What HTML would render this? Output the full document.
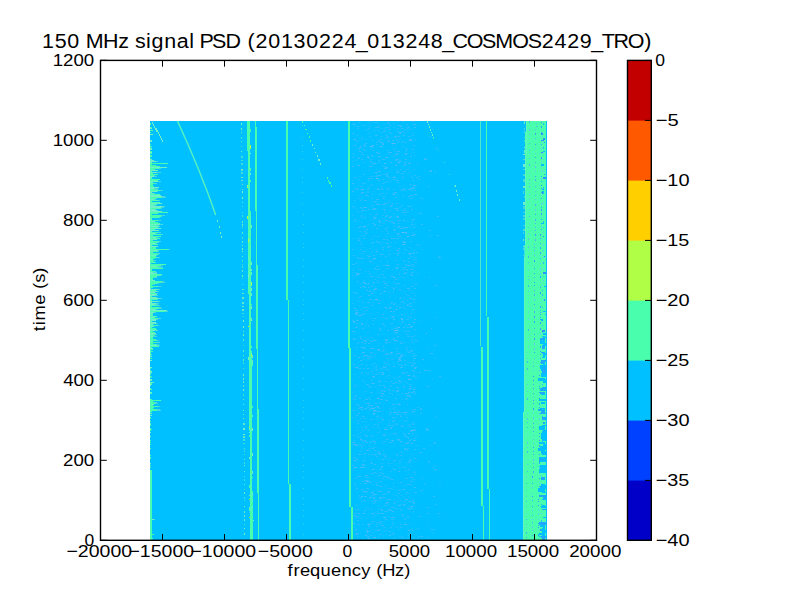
<!DOCTYPE html>
<html><head><meta charset="utf-8"><style>
html,body{margin:0;padding:0;background:#fff;width:800px;height:600px;overflow:hidden}
#w{position:relative;width:800px;height:600px;font-family:"Liberation Sans",sans-serif}
</style></head><body><div id="w">
<svg width="800" height="600" viewBox="0 0 800 600" style="position:absolute;left:0;top:0">
<g shape-rendering="crispEdges">
<rect x="150.2" y="121" width="396.70" height="419.30" fill="#00c0ff"/>
<g fill="#90b8ff"><rect x="352" y="465" width="2" height="1" opacity="0.3"/><rect x="391" y="276" width="3" height="1" opacity="0.3"/><rect x="362" y="352" width="2" height="1" opacity="0.4"/><rect x="424" y="159" width="3" height="1" opacity="0.4"/><rect x="361" y="421" width="2" height="1" opacity="0.3"/><rect x="380" y="132" width="3" height="1" opacity="0.2"/><rect x="393" y="189" width="2" height="1" opacity="0.3"/><rect x="378" y="491" width="2" height="1" opacity="0.4"/><rect x="412" y="370" width="2" height="1" opacity="0.2"/><rect x="407" y="211" width="2" height="1" opacity="0.3"/><rect x="384" y="521" width="1" height="1" opacity="0.2"/><rect x="406" y="124" width="2" height="1" opacity="0.3"/><rect x="361" y="256" width="1" height="1" opacity="0.2"/><rect x="437" y="450" width="2" height="1" opacity="0.2"/><rect x="399" y="321" width="1" height="1" opacity="0.2"/><rect x="372" y="376" width="3" height="1" opacity="0.4"/><rect x="400" y="412" width="2" height="1" opacity="0.2"/><rect x="408" y="261" width="2" height="1" opacity="0.2"/><rect x="361" y="158" width="1" height="1" opacity="0.2"/><rect x="383" y="198" width="1" height="1" opacity="0.3"/><rect x="377" y="451" width="3" height="1" opacity="0.3"/><rect x="409" y="198" width="2" height="1" opacity="0.3"/><rect x="363" y="359" width="2" height="1" opacity="0.3"/><rect x="378" y="171" width="3" height="1" opacity="0.4"/><rect x="391" y="205" width="2" height="1" opacity="0.4"/><rect x="383" y="345" width="1" height="1" opacity="0.3"/><rect x="415" y="139" width="1" height="1" opacity="0.4"/><rect x="427" y="386" width="2" height="1" opacity="0.4"/><rect x="375" y="249" width="2" height="1" opacity="0.3"/><rect x="368" y="133" width="2" height="1" opacity="0.2"/><rect x="377" y="511" width="1" height="1" opacity="0.2"/><rect x="363" y="286" width="2" height="1" opacity="0.3"/><rect x="408" y="424" width="3" height="1" opacity="0.2"/><rect x="375" y="482" width="3" height="1" opacity="0.2"/><rect x="360" y="249" width="2" height="1" opacity="0.3"/><rect x="361" y="518" width="1" height="1" opacity="0.3"/><rect x="406" y="221" width="3" height="1" opacity="0.2"/><rect x="368" y="343" width="2" height="1" opacity="0.4"/><rect x="405" y="159" width="2" height="1" opacity="0.4"/><rect x="412" y="530" width="1" height="1" opacity="0.4"/><rect x="385" y="366" width="2" height="1" opacity="0.3"/><rect x="353" y="397" width="3" height="1" opacity="0.3"/><rect x="386" y="369" width="2" height="1" opacity="0.3"/><rect x="372" y="283" width="2" height="1" opacity="0.2"/><rect x="391" y="359" width="3" height="1" opacity="0.2"/><rect x="362" y="513" width="2" height="1" opacity="0.2"/><rect x="381" y="317" width="3" height="1" opacity="0.2"/><rect x="359" y="258" width="2" height="1" opacity="0.3"/><rect x="367" y="536" width="3" height="1" opacity="0.2"/><rect x="362" y="427" width="1" height="1" opacity="0.4"/><rect x="401" y="442" width="1" height="1" opacity="0.2"/><rect x="366" y="530" width="2" height="1" opacity="0.3"/><rect x="395" y="398" width="2" height="1" opacity="0.4"/><rect x="404" y="331" width="1" height="1" opacity="0.4"/><rect x="373" y="501" width="2" height="1" opacity="0.2"/><rect x="395" y="297" width="1" height="1" opacity="0.3"/><rect x="371" y="357" width="2" height="1" opacity="0.2"/><rect x="422" y="359" width="2" height="1" opacity="0.4"/><rect x="398" y="236" width="3" height="1" opacity="0.3"/><rect x="364" y="382" width="1" height="1" opacity="0.4"/><rect x="365" y="355" width="2" height="1" opacity="0.2"/><rect x="402" y="226" width="1" height="1" opacity="0.2"/><rect x="388" y="509" width="2" height="1" opacity="0.3"/><rect x="404" y="381" width="2" height="1" opacity="0.2"/><rect x="376" y="406" width="3" height="1" opacity="0.4"/><rect x="393" y="304" width="2" height="1" opacity="0.4"/><rect x="356" y="320" width="3" height="1" opacity="0.4"/><rect x="378" y="415" width="1" height="1" opacity="0.3"/><rect x="407" y="426" width="3" height="1" opacity="0.2"/><rect x="389" y="408" width="1" height="1" opacity="0.4"/><rect x="414" y="124" width="3" height="1" opacity="0.2"/><rect x="374" y="472" width="2" height="1" opacity="0.2"/><rect x="371" y="383" width="2" height="1" opacity="0.3"/><rect x="367" y="372" width="3" height="1" opacity="0.2"/><rect x="376" y="178" width="2" height="1" opacity="0.4"/><rect x="405" y="349" width="3" height="1" opacity="0.3"/><rect x="381" y="274" width="3" height="1" opacity="0.3"/><rect x="384" y="326" width="2" height="1" opacity="0.3"/><rect x="358" y="198" width="1" height="1" opacity="0.4"/><rect x="374" y="516" width="1" height="1" opacity="0.3"/><rect x="356" y="396" width="1" height="1" opacity="0.2"/><rect x="389" y="393" width="2" height="1" opacity="0.4"/><rect x="385" y="129" width="1" height="1" opacity="0.4"/><rect x="392" y="219" width="1" height="1" opacity="0.2"/><rect x="394" y="330" width="2" height="1" opacity="0.4"/><rect x="368" y="477" width="2" height="1" opacity="0.2"/><rect x="396" y="180" width="2" height="1" opacity="0.4"/><rect x="417" y="459" width="2" height="1" opacity="0.2"/><rect x="375" y="363" width="1" height="1" opacity="0.2"/><rect x="379" y="326" width="1" height="1" opacity="0.3"/><rect x="365" y="430" width="1" height="1" opacity="0.2"/><rect x="355" y="263" width="2" height="1" opacity="0.3"/><rect x="372" y="150" width="2" height="1" opacity="0.3"/><rect x="386" y="354" width="2" height="1" opacity="0.3"/><rect x="361" y="496" width="2" height="1" opacity="0.4"/><rect x="398" y="226" width="2" height="1" opacity="0.3"/><rect x="375" y="288" width="2" height="1" opacity="0.3"/><rect x="410" y="388" width="2" height="1" opacity="0.3"/><rect x="411" y="366" width="1" height="1" opacity="0.3"/><rect x="399" y="139" width="1" height="1" opacity="0.3"/><rect x="360" y="338" width="2" height="1" opacity="0.4"/><rect x="361" y="222" width="1" height="1" opacity="0.4"/><rect x="376" y="522" width="2" height="1" opacity="0.2"/><rect x="371" y="242" width="3" height="1" opacity="0.3"/><rect x="414" y="319" width="2" height="1" opacity="0.4"/><rect x="363" y="200" width="2" height="1" opacity="0.2"/><rect x="432" y="533" width="2" height="1" opacity="0.2"/><rect x="392" y="467" width="1" height="1" opacity="0.2"/><rect x="411" y="501" width="2" height="1" opacity="0.2"/><rect x="378" y="126" width="2" height="1" opacity="0.3"/><rect x="353" y="391" width="1" height="1" opacity="0.3"/><rect x="356" y="281" width="2" height="1" opacity="0.3"/><rect x="381" y="396" width="3" height="1" opacity="0.2"/><rect x="361" y="407" width="2" height="1" opacity="0.4"/><rect x="352" y="264" width="3" height="1" opacity="0.3"/><rect x="369" y="340" width="1" height="1" opacity="0.2"/><rect x="363" y="434" width="3" height="1" opacity="0.2"/><rect x="362" y="218" width="1" height="1" opacity="0.2"/><rect x="363" y="307" width="2" height="1" opacity="0.4"/><rect x="369" y="291" width="2" height="1" opacity="0.4"/><rect x="352" y="442" width="3" height="1" opacity="0.4"/><rect x="393" y="460" width="3" height="1" opacity="0.3"/><rect x="370" y="497" width="1" height="1" opacity="0.2"/><rect x="413" y="479" width="2" height="1" opacity="0.3"/><rect x="386" y="231" width="2" height="1" opacity="0.3"/><rect x="401" y="325" width="1" height="1" opacity="0.3"/><rect x="372" y="448" width="2" height="1" opacity="0.4"/><rect x="420" y="409" width="2" height="1" opacity="0.4"/><rect x="356" y="312" width="3" height="1" opacity="0.3"/><rect x="352" y="206" width="2" height="1" opacity="0.4"/><rect x="408" y="462" width="3" height="1" opacity="0.3"/><rect x="377" y="340" width="1" height="1" opacity="0.4"/><rect x="395" y="303" width="1" height="1" opacity="0.4"/><rect x="354" y="277" width="1" height="1" opacity="0.2"/><rect x="387" y="330" width="2" height="1" opacity="0.2"/><rect x="372" y="469" width="3" height="1" opacity="0.2"/><rect x="422" y="510" width="1" height="1" opacity="0.2"/><rect x="388" y="217" width="3" height="1" opacity="0.4"/><rect x="354" y="513" width="3" height="1" opacity="0.2"/><rect x="384" y="517" width="2" height="1" opacity="0.3"/><rect x="361" y="484" width="1" height="1" opacity="0.3"/><rect x="388" y="492" width="2" height="1" opacity="0.2"/><rect x="378" y="306" width="1" height="1" opacity="0.2"/><rect x="387" y="167" width="1" height="1" opacity="0.4"/><rect x="373" y="447" width="3" height="1" opacity="0.2"/><rect x="382" y="459" width="2" height="1" opacity="0.4"/><rect x="391" y="273" width="2" height="1" opacity="0.2"/><rect x="389" y="442" width="2" height="1" opacity="0.4"/><rect x="381" y="136" width="1" height="1" opacity="0.4"/><rect x="401" y="212" width="3" height="1" opacity="0.3"/><rect x="352" y="166" width="2" height="1" opacity="0.4"/><rect x="360" y="296" width="2" height="1" opacity="0.3"/><rect x="378" y="275" width="2" height="1" opacity="0.3"/><rect x="389" y="307" width="3" height="1" opacity="0.4"/><rect x="367" y="156" width="2" height="1" opacity="0.3"/><rect x="396" y="197" width="1" height="1" opacity="0.4"/><rect x="369" y="126" width="2" height="1" opacity="0.3"/><rect x="358" y="227" width="2" height="1" opacity="0.4"/><rect x="414" y="124" width="2" height="1" opacity="0.2"/><rect x="393" y="289" width="1" height="1" opacity="0.3"/><rect x="417" y="538" width="1" height="1" opacity="0.4"/><rect x="378" y="403" width="2" height="1" opacity="0.2"/><rect x="408" y="189" width="1" height="1" opacity="0.2"/><rect x="404" y="414" width="2" height="1" opacity="0.4"/><rect x="358" y="413" width="2" height="1" opacity="0.4"/><rect x="395" y="279" width="2" height="1" opacity="0.4"/><rect x="419" y="162" width="1" height="1" opacity="0.2"/><rect x="399" y="133" width="2" height="1" opacity="0.4"/><rect x="378" y="422" width="3" height="1" opacity="0.2"/><rect x="412" y="340" width="1" height="1" opacity="0.3"/><rect x="398" y="471" width="2" height="1" opacity="0.4"/><rect x="388" y="265" width="1" height="1" opacity="0.3"/><rect x="399" y="376" width="2" height="1" opacity="0.2"/><rect x="409" y="396" width="2" height="1" opacity="0.4"/><rect x="412" y="259" width="2" height="1" opacity="0.2"/><rect x="363" y="282" width="2" height="1" opacity="0.4"/><rect x="405" y="434" width="1" height="1" opacity="0.4"/><rect x="369" y="408" width="3" height="1" opacity="0.2"/><rect x="383" y="435" width="3" height="1" opacity="0.3"/><rect x="410" y="521" width="1" height="1" opacity="0.2"/><rect x="370" y="121" width="2" height="1" opacity="0.2"/><rect x="399" y="394" width="1" height="1" opacity="0.2"/><rect x="376" y="500" width="3" height="1" opacity="0.2"/><rect x="381" y="463" width="2" height="1" opacity="0.3"/><rect x="409" y="298" width="3" height="1" opacity="0.4"/><rect x="367" y="481" width="2" height="1" opacity="0.4"/><rect x="376" y="353" width="1" height="1" opacity="0.2"/><rect x="407" y="236" width="2" height="1" opacity="0.4"/><rect x="403" y="412" width="3" height="1" opacity="0.4"/><rect x="377" y="513" width="3" height="1" opacity="0.3"/><rect x="377" y="334" width="2" height="1" opacity="0.3"/><rect x="373" y="368" width="2" height="1" opacity="0.2"/><rect x="405" y="436" width="2" height="1" opacity="0.2"/><rect x="388" y="510" width="1" height="1" opacity="0.3"/><rect x="395" y="328" width="3" height="1" opacity="0.2"/><rect x="371" y="201" width="2" height="1" opacity="0.2"/><rect x="359" y="305" width="2" height="1" opacity="0.2"/><rect x="362" y="152" width="1" height="1" opacity="0.2"/><rect x="434" y="529" width="2" height="1" opacity="0.3"/><rect x="435" y="416" width="2" height="1" opacity="0.2"/><rect x="379" y="481" width="3" height="1" opacity="0.3"/><rect x="360" y="467" width="3" height="1" opacity="0.4"/><rect x="373" y="419" width="1" height="1" opacity="0.2"/><rect x="391" y="517" width="1" height="1" opacity="0.2"/><rect x="379" y="294" width="1" height="1" opacity="0.2"/><rect x="419" y="516" width="3" height="1" opacity="0.3"/><rect x="404" y="232" width="3" height="1" opacity="0.4"/><rect x="369" y="482" width="3" height="1" opacity="0.4"/><rect x="427" y="513" width="2" height="1" opacity="0.4"/><rect x="398" y="529" width="1" height="1" opacity="0.3"/><rect x="413" y="180" width="1" height="1" opacity="0.3"/><rect x="365" y="421" width="1" height="1" opacity="0.3"/><rect x="362" y="210" width="2" height="1" opacity="0.4"/><rect x="372" y="440" width="2" height="1" opacity="0.2"/><rect x="394" y="333" width="3" height="1" opacity="0.2"/><rect x="386" y="193" width="2" height="1" opacity="0.3"/><rect x="376" y="524" width="2" height="1" opacity="0.2"/><rect x="384" y="511" width="2" height="1" opacity="0.3"/><rect x="394" y="343" width="1" height="1" opacity="0.2"/><rect x="414" y="458" width="2" height="1" opacity="0.3"/><rect x="398" y="504" width="1" height="1" opacity="0.2"/><rect x="356" y="450" width="1" height="1" opacity="0.3"/><rect x="397" y="264" width="2" height="1" opacity="0.4"/><rect x="401" y="452" width="1" height="1" opacity="0.4"/><rect x="373" y="441" width="3" height="1" opacity="0.4"/><rect x="355" y="367" width="3" height="1" opacity="0.4"/><rect x="371" y="463" width="2" height="1" opacity="0.4"/><rect x="396" y="140" width="2" height="1" opacity="0.3"/><rect x="372" y="140" width="1" height="1" opacity="0.4"/><rect x="359" y="212" width="2" height="1" opacity="0.2"/><rect x="376" y="178" width="3" height="1" opacity="0.3"/><rect x="392" y="316" width="3" height="1" opacity="0.3"/><rect x="357" y="189" width="2" height="1" opacity="0.3"/><rect x="399" y="404" width="2" height="1" opacity="0.4"/><rect x="395" y="326" width="1" height="1" opacity="0.4"/><rect x="406" y="127" width="1" height="1" opacity="0.4"/><rect x="392" y="292" width="2" height="1" opacity="0.2"/><rect x="419" y="176" width="1" height="1" opacity="0.4"/><rect x="392" y="339" width="2" height="1" opacity="0.2"/><rect x="362" y="247" width="2" height="1" opacity="0.2"/><rect x="371" y="407" width="3" height="1" opacity="0.2"/><rect x="378" y="350" width="2" height="1" opacity="0.4"/><rect x="413" y="440" width="3" height="1" opacity="0.4"/><rect x="364" y="217" width="2" height="1" opacity="0.4"/><rect x="354" y="384" width="3" height="1" opacity="0.2"/><rect x="416" y="244" width="2" height="1" opacity="0.2"/><rect x="365" y="442" width="3" height="1" opacity="0.3"/><rect x="374" y="500" width="2" height="1" opacity="0.4"/><rect x="368" y="448" width="3" height="1" opacity="0.2"/><rect x="361" y="189" width="2" height="1" opacity="0.4"/><rect x="387" y="140" width="2" height="1" opacity="0.3"/><rect x="399" y="290" width="3" height="1" opacity="0.2"/><rect x="393" y="486" width="3" height="1" opacity="0.2"/><rect x="405" y="324" width="1" height="1" opacity="0.4"/><rect x="355" y="485" width="2" height="1" opacity="0.2"/><rect x="383" y="179" width="1" height="1" opacity="0.4"/><rect x="420" y="198" width="2" height="1" opacity="0.3"/><rect x="390" y="257" width="1" height="1" opacity="0.2"/><rect x="404" y="212" width="3" height="1" opacity="0.3"/><rect x="384" y="210" width="1" height="1" opacity="0.3"/><rect x="413" y="363" width="3" height="1" opacity="0.3"/><rect x="397" y="182" width="2" height="1" opacity="0.3"/><rect x="368" y="224" width="1" height="1" opacity="0.2"/><rect x="372" y="145" width="2" height="1" opacity="0.4"/><rect x="388" y="531" width="3" height="1" opacity="0.2"/><rect x="385" y="493" width="2" height="1" opacity="0.2"/><rect x="382" y="271" width="3" height="1" opacity="0.2"/><rect x="400" y="415" width="2" height="1" opacity="0.2"/><rect x="367" y="339" width="2" height="1" opacity="0.3"/><rect x="368" y="157" width="2" height="1" opacity="0.2"/><rect x="371" y="509" width="2" height="1" opacity="0.3"/><rect x="379" y="431" width="2" height="1" opacity="0.2"/><rect x="390" y="315" width="1" height="1" opacity="0.4"/><rect x="358" y="297" width="2" height="1" opacity="0.3"/><rect x="400" y="367" width="3" height="1" opacity="0.4"/><rect x="394" y="151" width="3" height="1" opacity="0.2"/><rect x="378" y="425" width="1" height="1" opacity="0.4"/><rect x="398" y="404" width="2" height="1" opacity="0.4"/><rect x="435" y="148" width="3" height="1" opacity="0.3"/><rect x="412" y="356" width="1" height="1" opacity="0.3"/><rect x="400" y="482" width="2" height="1" opacity="0.4"/><rect x="366" y="488" width="3" height="1" opacity="0.4"/><rect x="431" y="328" width="1" height="1" opacity="0.4"/><rect x="426" y="537" width="3" height="1" opacity="0.2"/><rect x="366" y="480" width="2" height="1" opacity="0.3"/><rect x="424" y="484" width="2" height="1" opacity="0.3"/><rect x="397" y="128" width="2" height="1" opacity="0.3"/><rect x="354" y="399" width="2" height="1" opacity="0.3"/><rect x="370" y="185" width="2" height="1" opacity="0.3"/><rect x="408" y="253" width="3" height="1" opacity="0.2"/><rect x="413" y="360" width="1" height="1" opacity="0.4"/><rect x="353" y="338" width="2" height="1" opacity="0.2"/><rect x="353" y="364" width="2" height="1" opacity="0.4"/><rect x="357" y="315" width="1" height="1" opacity="0.2"/><rect x="392" y="269" width="1" height="1" opacity="0.3"/><rect x="369" y="445" width="1" height="1" opacity="0.3"/><rect x="400" y="416" width="2" height="1" opacity="0.3"/><rect x="404" y="360" width="2" height="1" opacity="0.3"/><rect x="373" y="216" width="2" height="1" opacity="0.2"/><rect x="429" y="236" width="2" height="1" opacity="0.3"/><rect x="371" y="454" width="3" height="1" opacity="0.3"/><rect x="387" y="492" width="2" height="1" opacity="0.4"/><rect x="353" y="457" width="3" height="1" opacity="0.3"/><rect x="405" y="228" width="2" height="1" opacity="0.2"/><rect x="370" y="161" width="2" height="1" opacity="0.3"/><rect x="411" y="220" width="3" height="1" opacity="0.2"/><rect x="365" y="403" width="2" height="1" opacity="0.2"/><rect x="380" y="254" width="2" height="1" opacity="0.4"/><rect x="373" y="411" width="3" height="1" opacity="0.3"/><rect x="411" y="430" width="2" height="1" opacity="0.2"/><rect x="371" y="408" width="2" height="1" opacity="0.2"/><rect x="421" y="306" width="1" height="1" opacity="0.3"/><rect x="356" y="504" width="1" height="1" opacity="0.3"/><rect x="355" y="310" width="3" height="1" opacity="0.4"/><rect x="357" y="126" width="2" height="1" opacity="0.4"/><rect x="391" y="221" width="2" height="1" opacity="0.4"/><rect x="393" y="319" width="2" height="1" opacity="0.2"/><rect x="355" y="183" width="1" height="1" opacity="0.2"/><rect x="375" y="258" width="1" height="1" opacity="0.2"/><rect x="371" y="164" width="1" height="1" opacity="0.4"/><rect x="368" y="424" width="1" height="1" opacity="0.2"/><rect x="393" y="532" width="1" height="1" opacity="0.2"/><rect x="376" y="526" width="2" height="1" opacity="0.3"/><rect x="408" y="196" width="2" height="1" opacity="0.4"/><rect x="401" y="238" width="1" height="1" opacity="0.3"/><rect x="356" y="444" width="1" height="1" opacity="0.4"/><rect x="407" y="288" width="3" height="1" opacity="0.4"/><rect x="389" y="478" width="2" height="1" opacity="0.3"/><rect x="352" y="183" width="2" height="1" opacity="0.4"/><rect x="408" y="438" width="1" height="1" opacity="0.4"/><rect x="371" y="521" width="3" height="1" opacity="0.2"/><rect x="400" y="441" width="1" height="1" opacity="0.4"/><rect x="363" y="328" width="2" height="1" opacity="0.2"/><rect x="397" y="121" width="3" height="1" opacity="0.2"/><rect x="423" y="241" width="1" height="1" opacity="0.2"/><rect x="408" y="392" width="2" height="1" opacity="0.4"/><rect x="380" y="146" width="2" height="1" opacity="0.2"/><rect x="358" y="476" width="1" height="1" opacity="0.3"/><rect x="364" y="491" width="2" height="1" opacity="0.2"/><rect x="408" y="535" width="1" height="1" opacity="0.4"/><rect x="426" y="430" width="3" height="1" opacity="0.3"/><rect x="404" y="291" width="1" height="1" opacity="0.4"/><rect x="392" y="433" width="3" height="1" opacity="0.2"/><rect x="402" y="196" width="2" height="1" opacity="0.3"/><rect x="410" y="460" width="1" height="1" opacity="0.4"/><rect x="428" y="462" width="1" height="1" opacity="0.3"/><rect x="410" y="533" width="1" height="1" opacity="0.4"/><rect x="373" y="242" width="2" height="1" opacity="0.2"/><rect x="373" y="208" width="3" height="1" opacity="0.4"/><rect x="403" y="135" width="2" height="1" opacity="0.3"/><rect x="368" y="209" width="2" height="1" opacity="0.4"/><rect x="397" y="136" width="3" height="1" opacity="0.4"/><rect x="411" y="430" width="3" height="1" opacity="0.4"/><rect x="363" y="197" width="1" height="1" opacity="0.2"/><rect x="430" y="170" width="2" height="1" opacity="0.4"/><rect x="401" y="319" width="3" height="1" opacity="0.2"/><rect x="399" y="189" width="3" height="1" opacity="0.2"/><rect x="385" y="454" width="2" height="1" opacity="0.3"/><rect x="376" y="447" width="1" height="1" opacity="0.2"/><rect x="427" y="507" width="3" height="1" opacity="0.3"/><rect x="373" y="537" width="3" height="1" opacity="0.4"/><rect x="412" y="411" width="3" height="1" opacity="0.4"/><rect x="427" y="314" width="1" height="1" opacity="0.2"/><rect x="389" y="423" width="1" height="1" opacity="0.4"/><rect x="388" y="221" width="2" height="1" opacity="0.4"/><rect x="376" y="175" width="3" height="1" opacity="0.3"/><rect x="378" y="180" width="3" height="1" opacity="0.3"/><rect x="414" y="449" width="2" height="1" opacity="0.4"/><rect x="377" y="424" width="1" height="1" opacity="0.4"/><rect x="400" y="138" width="1" height="1" opacity="0.3"/><rect x="363" y="416" width="2" height="1" opacity="0.2"/><rect x="412" y="454" width="2" height="1" opacity="0.2"/><rect x="414" y="190" width="2" height="1" opacity="0.2"/><rect x="363" y="491" width="2" height="1" opacity="0.4"/><rect x="353" y="379" width="1" height="1" opacity="0.2"/><rect x="397" y="394" width="1" height="1" opacity="0.4"/><rect x="411" y="365" width="3" height="1" opacity="0.4"/><rect x="372" y="320" width="2" height="1" opacity="0.3"/><rect x="403" y="277" width="1" height="1" opacity="0.4"/><rect x="430" y="445" width="1" height="1" opacity="0.4"/><rect x="413" y="124" width="2" height="1" opacity="0.3"/><rect x="393" y="366" width="2" height="1" opacity="0.4"/><rect x="404" y="210" width="2" height="1" opacity="0.4"/><rect x="383" y="277" width="3" height="1" opacity="0.3"/><rect x="360" y="360" width="2" height="1" opacity="0.4"/><rect x="361" y="309" width="2" height="1" opacity="0.2"/><rect x="379" y="141" width="2" height="1" opacity="0.3"/><rect x="421" y="201" width="1" height="1" opacity="0.3"/><rect x="393" y="229" width="2" height="1" opacity="0.4"/><rect x="410" y="274" width="3" height="1" opacity="0.3"/><rect x="407" y="389" width="2" height="1" opacity="0.2"/><rect x="373" y="130" width="3" height="1" opacity="0.2"/><rect x="397" y="460" width="1" height="1" opacity="0.2"/><rect x="406" y="398" width="2" height="1" opacity="0.4"/><rect x="420" y="413" width="2" height="1" opacity="0.4"/><rect x="368" y="258" width="1" height="1" opacity="0.3"/><rect x="366" y="229" width="2" height="1" opacity="0.4"/><rect x="412" y="523" width="1" height="1" opacity="0.3"/><rect x="411" y="275" width="2" height="1" opacity="0.4"/><rect x="385" y="168" width="2" height="1" opacity="0.4"/><rect x="359" y="151" width="2" height="1" opacity="0.4"/><rect x="394" y="242" width="2" height="1" opacity="0.3"/><rect x="395" y="137" width="2" height="1" opacity="0.3"/><rect x="359" y="495" width="1" height="1" opacity="0.3"/><rect x="398" y="315" width="2" height="1" opacity="0.2"/><rect x="381" y="186" width="1" height="1" opacity="0.3"/><rect x="408" y="375" width="3" height="1" opacity="0.2"/><rect x="386" y="308" width="2" height="1" opacity="0.3"/><rect x="376" y="163" width="2" height="1" opacity="0.2"/><rect x="362" y="214" width="1" height="1" opacity="0.3"/><rect x="370" y="318" width="3" height="1" opacity="0.2"/><rect x="433" y="443" width="3" height="1" opacity="0.3"/><rect x="399" y="161" width="3" height="1" opacity="0.3"/><rect x="426" y="429" width="3" height="1" opacity="0.4"/><rect x="396" y="210" width="3" height="1" opacity="0.4"/><rect x="403" y="146" width="2" height="1" opacity="0.2"/><rect x="394" y="424" width="1" height="1" opacity="0.3"/><rect x="362" y="380" width="2" height="1" opacity="0.3"/><rect x="385" y="265" width="3" height="1" opacity="0.4"/><rect x="358" y="368" width="3" height="1" opacity="0.3"/><rect x="394" y="283" width="1" height="1" opacity="0.4"/><rect x="376" y="241" width="2" height="1" opacity="0.4"/><rect x="412" y="513" width="1" height="1" opacity="0.2"/><rect x="412" y="149" width="2" height="1" opacity="0.4"/><rect x="390" y="162" width="2" height="1" opacity="0.4"/><rect x="362" y="162" width="3" height="1" opacity="0.2"/><rect x="416" y="273" width="3" height="1" opacity="0.2"/><rect x="394" y="215" width="1" height="1" opacity="0.2"/><rect x="392" y="390" width="2" height="1" opacity="0.3"/><rect x="383" y="239" width="2" height="1" opacity="0.4"/><rect x="402" y="232" width="2" height="1" opacity="0.4"/><rect x="410" y="384" width="2" height="1" opacity="0.3"/><rect x="393" y="288" width="2" height="1" opacity="0.4"/><rect x="408" y="163" width="2" height="1" opacity="0.4"/><rect x="360" y="200" width="1" height="1" opacity="0.4"/><rect x="398" y="357" width="3" height="1" opacity="0.4"/><rect x="380" y="399" width="3" height="1" opacity="0.4"/><rect x="355" y="350" width="2" height="1" opacity="0.2"/><rect x="379" y="497" width="3" height="1" opacity="0.4"/><rect x="381" y="420" width="2" height="1" opacity="0.2"/><rect x="397" y="238" width="2" height="1" opacity="0.4"/><rect x="396" y="284" width="1" height="1" opacity="0.3"/><rect x="366" y="531" width="3" height="1" opacity="0.3"/><rect x="365" y="428" width="1" height="1" opacity="0.2"/><rect x="407" y="404" width="1" height="1" opacity="0.4"/><rect x="404" y="267" width="2" height="1" opacity="0.4"/><rect x="367" y="189" width="2" height="1" opacity="0.2"/><rect x="355" y="535" width="1" height="1" opacity="0.2"/><rect x="379" y="175" width="2" height="1" opacity="0.4"/><rect x="411" y="235" width="2" height="1" opacity="0.4"/><rect x="392" y="143" width="3" height="1" opacity="0.4"/><rect x="353" y="440" width="2" height="1" opacity="0.2"/><rect x="371" y="370" width="1" height="1" opacity="0.2"/><rect x="394" y="433" width="1" height="1" opacity="0.2"/><rect x="395" y="495" width="2" height="1" opacity="0.3"/><rect x="413" y="145" width="2" height="1" opacity="0.4"/><rect x="363" y="368" width="2" height="1" opacity="0.3"/><rect x="377" y="398" width="2" height="1" opacity="0.4"/><rect x="378" y="189" width="3" height="1" opacity="0.2"/><rect x="357" y="300" width="2" height="1" opacity="0.2"/><rect x="419" y="372" width="2" height="1" opacity="0.4"/><rect x="386" y="530" width="2" height="1" opacity="0.2"/><rect x="412" y="266" width="3" height="1" opacity="0.2"/><rect x="378" y="522" width="2" height="1" opacity="0.2"/><rect x="374" y="512" width="2" height="1" opacity="0.2"/><rect x="403" y="219" width="1" height="1" opacity="0.2"/><rect x="381" y="142" width="2" height="1" opacity="0.4"/><rect x="403" y="386" width="2" height="1" opacity="0.2"/><rect x="353" y="321" width="2" height="1" opacity="0.4"/><rect x="372" y="495" width="2" height="1" opacity="0.3"/><rect x="397" y="142" width="1" height="1" opacity="0.4"/><rect x="368" y="454" width="1" height="1" opacity="0.4"/><rect x="414" y="368" width="2" height="1" opacity="0.4"/><rect x="395" y="508" width="2" height="1" opacity="0.4"/><rect x="398" y="220" width="3" height="1" opacity="0.3"/><rect x="408" y="469" width="2" height="1" opacity="0.4"/><rect x="360" y="207" width="2" height="1" opacity="0.3"/><rect x="396" y="146" width="1" height="1" opacity="0.2"/><rect x="405" y="420" width="2" height="1" opacity="0.3"/><rect x="356" y="404" width="2" height="1" opacity="0.4"/><rect x="371" y="131" width="1" height="1" opacity="0.2"/><rect x="413" y="322" width="2" height="1" opacity="0.3"/><rect x="360" y="241" width="2" height="1" opacity="0.2"/><rect x="363" y="340" width="3" height="1" opacity="0.4"/><rect x="388" y="499" width="3" height="1" opacity="0.4"/><rect x="367" y="356" width="3" height="1" opacity="0.3"/><rect x="433" y="410" width="1" height="1" opacity="0.2"/><rect x="378" y="303" width="2" height="1" opacity="0.3"/><rect x="375" y="367" width="3" height="1" opacity="0.2"/><rect x="404" y="449" width="2" height="1" opacity="0.4"/><rect x="410" y="410" width="2" height="1" opacity="0.2"/><rect x="412" y="500" width="2" height="1" opacity="0.4"/><rect x="410" y="241" width="2" height="1" opacity="0.3"/><rect x="377" y="130" width="1" height="1" opacity="0.3"/><rect x="387" y="123" width="2" height="1" opacity="0.4"/><rect x="363" y="460" width="3" height="1" opacity="0.3"/><rect x="405" y="437" width="3" height="1" opacity="0.2"/><rect x="352" y="150" width="1" height="1" opacity="0.2"/><rect x="406" y="503" width="1" height="1" opacity="0.3"/><rect x="413" y="252" width="2" height="1" opacity="0.4"/><rect x="413" y="227" width="2" height="1" opacity="0.4"/><rect x="390" y="442" width="3" height="1" opacity="0.2"/><rect x="392" y="394" width="1" height="1" opacity="0.4"/><rect x="354" y="221" width="3" height="1" opacity="0.3"/><rect x="361" y="314" width="2" height="1" opacity="0.4"/><rect x="370" y="474" width="1" height="1" opacity="0.2"/><rect x="414" y="262" width="3" height="1" opacity="0.3"/><rect x="393" y="194" width="2" height="1" opacity="0.2"/><rect x="394" y="331" width="1" height="1" opacity="0.4"/><rect x="404" y="164" width="3" height="1" opacity="0.3"/><rect x="414" y="393" width="2" height="1" opacity="0.4"/><rect x="381" y="374" width="3" height="1" opacity="0.4"/><rect x="354" y="454" width="1" height="1" opacity="0.3"/><rect x="373" y="340" width="2" height="1" opacity="0.4"/><rect x="391" y="479" width="2" height="1" opacity="0.3"/><rect x="388" y="477" width="2" height="1" opacity="0.2"/><rect x="409" y="140" width="2" height="1" opacity="0.2"/><rect x="414" y="329" width="2" height="1" opacity="0.4"/><rect x="384" y="163" width="2" height="1" opacity="0.3"/><rect x="397" y="533" width="1" height="1" opacity="0.2"/><rect x="378" y="130" width="2" height="1" opacity="0.2"/><rect x="414" y="355" width="3" height="1" opacity="0.3"/><rect x="380" y="308" width="2" height="1" opacity="0.2"/><rect x="395" y="330" width="3" height="1" opacity="0.2"/><rect x="391" y="440" width="1" height="1" opacity="0.4"/><rect x="374" y="464" width="2" height="1" opacity="0.4"/><rect x="405" y="470" width="2" height="1" opacity="0.3"/><rect x="392" y="421" width="2" height="1" opacity="0.3"/><rect x="357" y="274" width="2" height="1" opacity="0.4"/><rect x="391" y="352" width="2" height="1" opacity="0.4"/><rect x="369" y="387" width="1" height="1" opacity="0.4"/><rect x="358" y="411" width="1" height="1" opacity="0.4"/><rect x="411" y="209" width="2" height="1" opacity="0.4"/><rect x="385" y="137" width="3" height="1" opacity="0.3"/><rect x="408" y="484" width="2" height="1" opacity="0.3"/><rect x="359" y="176" width="2" height="1" opacity="0.2"/><rect x="394" y="499" width="3" height="1" opacity="0.2"/><rect x="385" y="283" width="2" height="1" opacity="0.4"/><rect x="400" y="126" width="2" height="1" opacity="0.4"/><rect x="365" y="507" width="1" height="1" opacity="0.2"/><rect x="393" y="319" width="2" height="1" opacity="0.4"/><rect x="357" y="476" width="2" height="1" opacity="0.3"/><rect x="369" y="261" width="3" height="1" opacity="0.3"/><rect x="405" y="154" width="2" height="1" opacity="0.4"/><rect x="360" y="269" width="2" height="1" opacity="0.3"/><rect x="364" y="343" width="2" height="1" opacity="0.3"/><rect x="359" y="140" width="2" height="1" opacity="0.2"/><rect x="417" y="245" width="1" height="1" opacity="0.2"/><rect x="380" y="290" width="1" height="1" opacity="0.4"/><rect x="381" y="466" width="2" height="1" opacity="0.4"/><rect x="419" y="213" width="3" height="1" opacity="0.4"/><rect x="414" y="339" width="3" height="1" opacity="0.2"/><rect x="396" y="267" width="3" height="1" opacity="0.3"/><rect x="378" y="392" width="2" height="1" opacity="0.2"/><rect x="375" y="286" width="1" height="1" opacity="0.3"/><rect x="401" y="128" width="2" height="1" opacity="0.4"/><rect x="363" y="238" width="3" height="1" opacity="0.3"/><rect x="368" y="430" width="2" height="1" opacity="0.3"/><rect x="401" y="514" width="3" height="1" opacity="0.3"/><rect x="394" y="208" width="2" height="1" opacity="0.4"/><rect x="392" y="145" width="1" height="1" opacity="0.3"/><rect x="412" y="434" width="2" height="1" opacity="0.2"/><rect x="366" y="324" width="3" height="1" opacity="0.2"/><rect x="425" y="333" width="2" height="1" opacity="0.3"/><rect x="387" y="136" width="2" height="1" opacity="0.2"/><rect x="413" y="409" width="3" height="1" opacity="0.4"/><rect x="356" y="323" width="2" height="1" opacity="0.3"/><rect x="407" y="295" width="3" height="1" opacity="0.2"/><rect x="401" y="441" width="2" height="1" opacity="0.4"/><rect x="369" y="299" width="3" height="1" opacity="0.3"/><rect x="397" y="439" width="3" height="1" opacity="0.4"/><rect x="358" y="405" width="2" height="1" opacity="0.3"/><rect x="358" y="421" width="2" height="1" opacity="0.2"/><rect x="383" y="497" width="2" height="1" opacity="0.4"/><rect x="398" y="359" width="2" height="1" opacity="0.4"/><rect x="368" y="397" width="2" height="1" opacity="0.3"/><rect x="355" y="293" width="3" height="1" opacity="0.4"/><rect x="393" y="277" width="3" height="1" opacity="0.4"/><rect x="380" y="486" width="2" height="1" opacity="0.4"/><rect x="370" y="462" width="2" height="1" opacity="0.2"/><rect x="385" y="203" width="2" height="1" opacity="0.4"/><rect x="377" y="432" width="2" height="1" opacity="0.3"/><rect x="401" y="314" width="2" height="1" opacity="0.4"/><rect x="371" y="441" width="1" height="1" opacity="0.4"/><rect x="387" y="488" width="3" height="1" opacity="0.2"/><rect x="374" y="235" width="2" height="1" opacity="0.2"/><rect x="375" y="515" width="2" height="1" opacity="0.2"/><rect x="383" y="291" width="3" height="1" opacity="0.4"/><rect x="410" y="480" width="1" height="1" opacity="0.3"/><rect x="385" y="216" width="2" height="1" opacity="0.4"/><rect x="408" y="331" width="2" height="1" opacity="0.3"/><rect x="404" y="285" width="2" height="1" opacity="0.3"/><rect x="399" y="461" width="2" height="1" opacity="0.4"/><rect x="408" y="448" width="1" height="1" opacity="0.3"/><rect x="405" y="227" width="3" height="1" opacity="0.4"/><rect x="398" y="411" width="2" height="1" opacity="0.3"/><rect x="406" y="305" width="3" height="1" opacity="0.4"/><rect x="389" y="132" width="2" height="1" opacity="0.3"/><rect x="407" y="508" width="3" height="1" opacity="0.4"/><rect x="417" y="445" width="2" height="1" opacity="0.3"/><rect x="375" y="407" width="1" height="1" opacity="0.4"/><rect x="379" y="242" width="2" height="1" opacity="0.2"/><rect x="372" y="259" width="3" height="1" opacity="0.2"/><rect x="410" y="184" width="2" height="1" opacity="0.4"/><rect x="397" y="327" width="3" height="1" opacity="0.4"/><rect x="366" y="481" width="3" height="1" opacity="0.4"/><rect x="397" y="341" width="1" height="1" opacity="0.4"/><rect x="407" y="436" width="1" height="1" opacity="0.3"/><rect x="414" y="301" width="1" height="1" opacity="0.2"/><rect x="357" y="178" width="1" height="1" opacity="0.3"/><rect x="379" y="523" width="3" height="1" opacity="0.3"/><rect x="377" y="349" width="3" height="1" opacity="0.4"/><rect x="379" y="402" width="2" height="1" opacity="0.3"/><rect x="397" y="131" width="2" height="1" opacity="0.4"/><rect x="362" y="137" width="1" height="1" opacity="0.3"/><rect x="388" y="504" width="1" height="1" opacity="0.3"/><rect x="382" y="478" width="2" height="1" opacity="0.3"/><rect x="388" y="364" width="3" height="1" opacity="0.3"/><rect x="373" y="435" width="2" height="1" opacity="0.2"/><rect x="376" y="366" width="1" height="1" opacity="0.2"/><rect x="393" y="213" width="1" height="1" opacity="0.3"/><rect x="389" y="390" width="1" height="1" opacity="0.3"/><rect x="374" y="217" width="3" height="1" opacity="0.4"/><rect x="411" y="508" width="2" height="1" opacity="0.2"/><rect x="412" y="232" width="2" height="1" opacity="0.2"/><rect x="385" y="485" width="2" height="1" opacity="0.3"/><rect x="404" y="189" width="2" height="1" opacity="0.3"/><rect x="421" y="249" width="2" height="1" opacity="0.2"/><rect x="406" y="395" width="2" height="1" opacity="0.3"/><rect x="385" y="499" width="2" height="1" opacity="0.2"/><rect x="393" y="143" width="3" height="1" opacity="0.4"/><rect x="415" y="295" width="1" height="1" opacity="0.3"/><rect x="385" y="494" width="1" height="1" opacity="0.3"/><rect x="366" y="195" width="2" height="1" opacity="0.4"/><rect x="413" y="188" width="2" height="1" opacity="0.4"/><rect x="404" y="249" width="2" height="1" opacity="0.4"/><rect x="412" y="370" width="2" height="1" opacity="0.2"/><rect x="376" y="204" width="3" height="1" opacity="0.4"/><rect x="371" y="286" width="2" height="1" opacity="0.4"/><rect x="406" y="334" width="3" height="1" opacity="0.3"/><rect x="396" y="414" width="3" height="1" opacity="0.4"/><rect x="372" y="246" width="2" height="1" opacity="0.2"/><rect x="412" y="363" width="1" height="1" opacity="0.3"/><rect x="410" y="529" width="3" height="1" opacity="0.2"/><rect x="368" y="405" width="3" height="1" opacity="0.4"/><rect x="416" y="177" width="2" height="1" opacity="0.4"/><rect x="379" y="469" width="2" height="1" opacity="0.3"/><rect x="395" y="433" width="2" height="1" opacity="0.3"/><rect x="405" y="190" width="1" height="1" opacity="0.4"/><rect x="389" y="125" width="2" height="1" opacity="0.4"/><rect x="380" y="411" width="2" height="1" opacity="0.2"/><rect x="400" y="355" width="3" height="1" opacity="0.3"/><rect x="379" y="380" width="2" height="1" opacity="0.2"/><rect x="363" y="258" width="1" height="1" opacity="0.2"/><rect x="356" y="488" width="2" height="1" opacity="0.4"/><rect x="388" y="254" width="3" height="1" opacity="0.3"/><rect x="374" y="201" width="3" height="1" opacity="0.4"/><rect x="352" y="417" width="1" height="1" opacity="0.4"/><rect x="402" y="417" width="1" height="1" opacity="0.2"/><rect x="358" y="408" width="3" height="1" opacity="0.3"/><rect x="361" y="372" width="2" height="1" opacity="0.3"/><rect x="398" y="482" width="1" height="1" opacity="0.4"/><rect x="398" y="162" width="2" height="1" opacity="0.4"/><rect x="404" y="261" width="2" height="1" opacity="0.2"/><rect x="410" y="351" width="3" height="1" opacity="0.2"/><rect x="358" y="357" width="1" height="1" opacity="0.3"/><rect x="410" y="327" width="2" height="1" opacity="0.4"/><rect x="376" y="142" width="2" height="1" opacity="0.3"/><rect x="374" y="424" width="2" height="1" opacity="0.3"/><rect x="394" y="217" width="1" height="1" opacity="0.3"/><rect x="361" y="258" width="3" height="1" opacity="0.3"/><rect x="382" y="443" width="1" height="1" opacity="0.4"/><rect x="361" y="208" width="3" height="1" opacity="0.2"/><rect x="373" y="255" width="2" height="1" opacity="0.4"/><rect x="390" y="527" width="2" height="1" opacity="0.3"/><rect x="364" y="146" width="2" height="1" opacity="0.4"/><rect x="375" y="454" width="2" height="1" opacity="0.3"/><rect x="398" y="505" width="3" height="1" opacity="0.4"/><rect x="397" y="221" width="1" height="1" opacity="0.3"/><rect x="378" y="225" width="3" height="1" opacity="0.3"/><rect x="414" y="430" width="2" height="1" opacity="0.4"/><rect x="363" y="149" width="2" height="1" opacity="0.3"/><rect x="406" y="462" width="1" height="1" opacity="0.4"/><rect x="385" y="400" width="3" height="1" opacity="0.4"/><rect x="407" y="336" width="3" height="1" opacity="0.3"/><rect x="405" y="149" width="3" height="1" opacity="0.3"/><rect x="414" y="257" width="3" height="1" opacity="0.3"/><rect x="396" y="216" width="3" height="1" opacity="0.4"/><rect x="371" y="178" width="2" height="1" opacity="0.4"/><rect x="352" y="320" width="2" height="1" opacity="0.3"/><rect x="369" y="399" width="2" height="1" opacity="0.3"/><rect x="410" y="317" width="1" height="1" opacity="0.4"/><rect x="389" y="420" width="1" height="1" opacity="0.4"/><rect x="402" y="241" width="3" height="1" opacity="0.3"/><rect x="377" y="407" width="1" height="1" opacity="0.3"/><rect x="366" y="307" width="3" height="1" opacity="0.3"/><rect x="401" y="319" width="2" height="1" opacity="0.4"/><rect x="381" y="372" width="3" height="1" opacity="0.3"/><rect x="381" y="247" width="3" height="1" opacity="0.2"/><rect x="410" y="431" width="2" height="1" opacity="0.3"/><rect x="373" y="484" width="2" height="1" opacity="0.2"/><rect x="378" y="453" width="2" height="1" opacity="0.2"/><rect x="402" y="302" width="2" height="1" opacity="0.2"/><rect x="357" y="165" width="3" height="1" opacity="0.4"/><rect x="408" y="258" width="2" height="1" opacity="0.3"/><rect x="374" y="224" width="2" height="1" opacity="0.4"/><rect x="405" y="232" width="2" height="1" opacity="0.2"/><rect x="409" y="253" width="2" height="1" opacity="0.4"/><rect x="368" y="523" width="1" height="1" opacity="0.2"/><rect x="391" y="302" width="2" height="1" opacity="0.4"/><rect x="373" y="263" width="1" height="1" opacity="0.2"/><rect x="404" y="435" width="2" height="1" opacity="0.3"/><rect x="386" y="188" width="3" height="1" opacity="0.2"/><rect x="408" y="530" width="1" height="1" opacity="0.4"/><rect x="439" y="256" width="1" height="1" opacity="0.3"/><rect x="402" y="489" width="3" height="1" opacity="0.4"/><rect x="405" y="269" width="3" height="1" opacity="0.3"/><rect x="397" y="278" width="2" height="1" opacity="0.2"/><rect x="397" y="330" width="2" height="1" opacity="0.3"/><rect x="387" y="137" width="2" height="1" opacity="0.2"/><rect x="411" y="279" width="1" height="1" opacity="0.3"/><rect x="392" y="425" width="2" height="1" opacity="0.4"/><rect x="380" y="498" width="3" height="1" opacity="0.2"/><rect x="396" y="313" width="1" height="1" opacity="0.2"/><rect x="364" y="440" width="2" height="1" opacity="0.4"/><rect x="403" y="273" width="3" height="1" opacity="0.4"/><rect x="407" y="530" width="1" height="1" opacity="0.3"/><rect x="409" y="460" width="2" height="1" opacity="0.3"/><rect x="399" y="498" width="1" height="1" opacity="0.2"/><rect x="378" y="372" width="2" height="1" opacity="0.2"/><rect x="408" y="352" width="3" height="1" opacity="0.3"/><rect x="385" y="157" width="3" height="1" opacity="0.3"/><rect x="400" y="509" width="1" height="1" opacity="0.4"/><rect x="402" y="210" width="2" height="1" opacity="0.3"/><rect x="401" y="307" width="2" height="1" opacity="0.2"/><rect x="352" y="249" width="2" height="1" opacity="0.3"/><rect x="397" y="154" width="1" height="1" opacity="0.3"/><rect x="391" y="517" width="3" height="1" opacity="0.2"/><rect x="379" y="328" width="2" height="1" opacity="0.4"/><rect x="352" y="331" width="3" height="1" opacity="0.4"/><rect x="387" y="330" width="2" height="1" opacity="0.3"/><rect x="414" y="387" width="2" height="1" opacity="0.2"/><rect x="394" y="501" width="1" height="1" opacity="0.4"/><rect x="360" y="216" width="2" height="1" opacity="0.2"/><rect x="381" y="467" width="2" height="1" opacity="0.4"/><rect x="352" y="191" width="2" height="1" opacity="0.4"/><rect x="411" y="392" width="3" height="1" opacity="0.4"/><rect x="413" y="358" width="3" height="1" opacity="0.4"/><rect x="371" y="337" width="1" height="1" opacity="0.3"/><rect x="368" y="271" width="1" height="1" opacity="0.3"/><rect x="387" y="376" width="1" height="1" opacity="0.2"/><rect x="366" y="207" width="1" height="1" opacity="0.3"/><rect x="362" y="430" width="2" height="1" opacity="0.3"/><rect x="403" y="327" width="2" height="1" opacity="0.4"/><rect x="388" y="154" width="2" height="1" opacity="0.2"/><rect x="356" y="257" width="3" height="1" opacity="0.2"/><rect x="368" y="526" width="2" height="1" opacity="0.4"/><rect x="365" y="195" width="2" height="1" opacity="0.2"/><rect x="393" y="156" width="2" height="1" opacity="0.2"/><rect x="408" y="433" width="2" height="1" opacity="0.4"/><rect x="365" y="310" width="3" height="1" opacity="0.3"/><rect x="385" y="503" width="3" height="1" opacity="0.3"/><rect x="354" y="200" width="1" height="1" opacity="0.4"/><rect x="411" y="439" width="1" height="1" opacity="0.4"/><rect x="394" y="434" width="2" height="1" opacity="0.2"/><rect x="373" y="373" width="1" height="1" opacity="0.4"/><rect x="382" y="165" width="1" height="1" opacity="0.4"/><rect x="411" y="177" width="2" height="1" opacity="0.3"/><rect x="393" y="383" width="2" height="1" opacity="0.3"/><rect x="381" y="525" width="3" height="1" opacity="0.4"/><rect x="365" y="399" width="3" height="1" opacity="0.4"/><rect x="374" y="268" width="2" height="1" opacity="0.4"/><rect x="363" y="145" width="2" height="1" opacity="0.3"/><rect x="356" y="273" width="3" height="1" opacity="0.3"/><rect x="358" y="315" width="2" height="1" opacity="0.2"/><rect x="406" y="372" width="2" height="1" opacity="0.4"/><rect x="382" y="314" width="2" height="1" opacity="0.4"/><rect x="395" y="268" width="2" height="1" opacity="0.2"/><rect x="387" y="150" width="2" height="1" opacity="0.4"/><rect x="359" y="444" width="3" height="1" opacity="0.3"/><rect x="394" y="407" width="2" height="1" opacity="0.2"/><rect x="415" y="436" width="3" height="1" opacity="0.2"/><rect x="377" y="536" width="2" height="1" opacity="0.2"/><rect x="402" y="189" width="2" height="1" opacity="0.3"/><rect x="365" y="130" width="1" height="1" opacity="0.4"/><rect x="352" y="399" width="1" height="1" opacity="0.2"/><rect x="367" y="358" width="3" height="1" opacity="0.4"/><rect x="374" y="258" width="2" height="1" opacity="0.4"/><rect x="401" y="318" width="2" height="1" opacity="0.3"/><rect x="374" y="340" width="2" height="1" opacity="0.3"/><rect x="373" y="491" width="1" height="1" opacity="0.4"/><rect x="383" y="246" width="2" height="1" opacity="0.2"/><rect x="402" y="269" width="2" height="1" opacity="0.3"/><rect x="391" y="238" width="2" height="1" opacity="0.3"/><rect x="378" y="269" width="2" height="1" opacity="0.3"/><rect x="408" y="437" width="1" height="1" opacity="0.2"/><rect x="409" y="506" width="1" height="1" opacity="0.4"/><rect x="413" y="502" width="2" height="1" opacity="0.3"/><rect x="352" y="157" width="2" height="1" opacity="0.3"/><rect x="411" y="222" width="2" height="1" opacity="0.3"/><rect x="423" y="406" width="2" height="1" opacity="0.2"/><rect x="369" y="441" width="1" height="1" opacity="0.4"/><rect x="409" y="140" width="2" height="1" opacity="0.3"/><rect x="410" y="484" width="2" height="1" opacity="0.4"/><rect x="393" y="194" width="2" height="1" opacity="0.4"/><rect x="373" y="410" width="3" height="1" opacity="0.4"/><rect x="435" y="504" width="2" height="1" opacity="0.3"/><rect x="391" y="534" width="2" height="1" opacity="0.2"/><rect x="392" y="408" width="3" height="1" opacity="0.2"/><rect x="386" y="239" width="2" height="1" opacity="0.3"/><rect x="375" y="401" width="1" height="1" opacity="0.2"/><rect x="391" y="242" width="1" height="1" opacity="0.4"/><rect x="371" y="364" width="1" height="1" opacity="0.3"/><rect x="390" y="311" width="2" height="1" opacity="0.2"/><rect x="361" y="364" width="2" height="1" opacity="0.4"/><rect x="403" y="253" width="2" height="1" opacity="0.3"/><rect x="399" y="304" width="2" height="1" opacity="0.2"/><rect x="372" y="408" width="2" height="1" opacity="0.4"/><rect x="375" y="253" width="2" height="1" opacity="0.2"/><rect x="355" y="516" width="2" height="1" opacity="0.2"/><rect x="367" y="532" width="1" height="1" opacity="0.4"/><rect x="414" y="335" width="3" height="1" opacity="0.2"/><rect x="385" y="167" width="2" height="1" opacity="0.4"/><rect x="399" y="360" width="3" height="1" opacity="0.4"/><rect x="354" y="298" width="1" height="1" opacity="0.2"/><rect x="384" y="307" width="3" height="1" opacity="0.4"/><rect x="366" y="450" width="2" height="1" opacity="0.4"/><rect x="368" y="538" width="2" height="1" opacity="0.4"/><rect x="394" y="537" width="2" height="1" opacity="0.2"/><rect x="399" y="289" width="2" height="1" opacity="0.2"/><rect x="409" y="493" width="1" height="1" opacity="0.2"/><rect x="406" y="492" width="2" height="1" opacity="0.3"/><rect x="383" y="166" width="3" height="1" opacity="0.2"/><rect x="384" y="527" width="1" height="1" opacity="0.4"/><rect x="361" y="192" width="3" height="1" opacity="0.4"/><rect x="367" y="320" width="1" height="1" opacity="0.2"/><rect x="371" y="353" width="2" height="1" opacity="0.2"/><rect x="409" y="254" width="2" height="1" opacity="0.3"/><rect x="389" y="386" width="2" height="1" opacity="0.3"/><rect x="396" y="309" width="1" height="1" opacity="0.4"/><rect x="364" y="496" width="2" height="1" opacity="0.4"/><rect x="403" y="244" width="2" height="1" opacity="0.4"/><rect x="379" y="162" width="2" height="1" opacity="0.3"/><rect x="372" y="513" width="2" height="1" opacity="0.4"/><rect x="388" y="210" width="3" height="1" opacity="0.2"/><rect x="410" y="350" width="3" height="1" opacity="0.4"/><rect x="365" y="225" width="1" height="1" opacity="0.3"/><rect x="398" y="141" width="2" height="1" opacity="0.3"/><rect x="363" y="393" width="1" height="1" opacity="0.2"/><rect x="386" y="173" width="2" height="1" opacity="0.4"/><rect x="400" y="425" width="3" height="1" opacity="0.2"/><rect x="380" y="491" width="3" height="1" opacity="0.3"/><rect x="413" y="373" width="2" height="1" opacity="0.2"/><rect x="382" y="144" width="2" height="1" opacity="0.4"/><rect x="382" y="215" width="2" height="1" opacity="0.2"/><rect x="363" y="282" width="2" height="1" opacity="0.3"/><rect x="371" y="262" width="2" height="1" opacity="0.2"/><rect x="403" y="260" width="2" height="1" opacity="0.3"/><rect x="389" y="296" width="2" height="1" opacity="0.2"/><rect x="363" y="444" width="1" height="1" opacity="0.2"/><rect x="382" y="350" width="2" height="1" opacity="0.3"/><rect x="384" y="363" width="3" height="1" opacity="0.3"/><rect x="352" y="215" width="2" height="1" opacity="0.2"/><rect x="364" y="391" width="3" height="1" opacity="0.2"/><rect x="401" y="459" width="3" height="1" opacity="0.2"/><rect x="410" y="205" width="2" height="1" opacity="0.2"/><rect x="378" y="381" width="1" height="1" opacity="0.2"/><rect x="406" y="233" width="1" height="1" opacity="0.4"/><rect x="388" y="460" width="2" height="1" opacity="0.2"/><rect x="379" y="204" width="1" height="1" opacity="0.3"/><rect x="385" y="205" width="1" height="1" opacity="0.3"/><rect x="376" y="144" width="2" height="1" opacity="0.2"/><rect x="364" y="453" width="2" height="1" opacity="0.4"/><rect x="392" y="203" width="1" height="1" opacity="0.4"/><rect x="380" y="509" width="3" height="1" opacity="0.3"/><rect x="376" y="485" width="3" height="1" opacity="0.3"/><rect x="354" y="467" width="3" height="1" opacity="0.4"/><rect x="410" y="156" width="2" height="1" opacity="0.4"/><rect x="398" y="364" width="3" height="1" opacity="0.3"/><rect x="381" y="351" width="3" height="1" opacity="0.2"/><rect x="373" y="348" width="2" height="1" opacity="0.3"/><rect x="354" y="207" width="2" height="1" opacity="0.2"/><rect x="353" y="322" width="2" height="1" opacity="0.4"/><rect x="358" y="436" width="3" height="1" opacity="0.2"/><rect x="397" y="217" width="2" height="1" opacity="0.4"/><rect x="407" y="515" width="2" height="1" opacity="0.2"/><rect x="387" y="202" width="3" height="1" opacity="0.2"/><rect x="378" y="407" width="1" height="1" opacity="0.2"/><rect x="371" y="194" width="2" height="1" opacity="0.2"/><rect x="396" y="351" width="1" height="1" opacity="0.4"/><rect x="362" y="467" width="2" height="1" opacity="0.4"/><rect x="387" y="265" width="2" height="1" opacity="0.3"/><rect x="378" y="508" width="2" height="1" opacity="0.2"/><rect x="398" y="158" width="2" height="1" opacity="0.2"/><rect x="401" y="142" width="2" height="1" opacity="0.3"/><rect x="369" y="409" width="2" height="1" opacity="0.3"/><rect x="384" y="228" width="2" height="1" opacity="0.2"/><rect x="367" y="283" width="3" height="1" opacity="0.2"/><rect x="383" y="225" width="1" height="1" opacity="0.2"/><rect x="390" y="311" width="2" height="1" opacity="0.4"/><rect x="388" y="141" width="2" height="1" opacity="0.4"/><rect x="370" y="523" width="3" height="1" opacity="0.2"/><rect x="399" y="376" width="1" height="1" opacity="0.2"/><rect x="352" y="303" width="1" height="1" opacity="0.4"/><rect x="358" y="513" width="2" height="1" opacity="0.4"/><rect x="403" y="373" width="2" height="1" opacity="0.3"/><rect x="394" y="410" width="2" height="1" opacity="0.3"/><rect x="369" y="146" width="3" height="1" opacity="0.4"/><rect x="397" y="412" width="3" height="1" opacity="0.2"/><rect x="362" y="328" width="1" height="1" opacity="0.4"/><rect x="359" y="407" width="1" height="1" opacity="0.3"/><rect x="414" y="474" width="2" height="1" opacity="0.2"/><rect x="373" y="498" width="2" height="1" opacity="0.4"/><rect x="352" y="123" width="3" height="1" opacity="0.2"/><rect x="413" y="264" width="1" height="1" opacity="0.4"/><rect x="385" y="476" width="2" height="1" opacity="0.4"/><rect x="386" y="477" width="3" height="1" opacity="0.3"/><rect x="355" y="327" width="3" height="1" opacity="0.4"/><rect x="384" y="429" width="2" height="1" opacity="0.4"/><rect x="401" y="173" width="3" height="1" opacity="0.4"/><rect x="373" y="282" width="2" height="1" opacity="0.4"/><rect x="386" y="181" width="3" height="1" opacity="0.2"/><rect x="364" y="355" width="3" height="1" opacity="0.4"/><rect x="390" y="352" width="2" height="1" opacity="0.4"/><rect x="353" y="455" width="1" height="1" opacity="0.2"/><rect x="409" y="226" width="2" height="1" opacity="0.2"/><rect x="408" y="496" width="1" height="1" opacity="0.2"/><rect x="356" y="387" width="1" height="1" opacity="0.2"/><rect x="397" y="336" width="2" height="1" opacity="0.4"/><rect x="411" y="490" width="1" height="1" opacity="0.2"/><rect x="353" y="339" width="2" height="1" opacity="0.3"/><rect x="356" y="208" width="1" height="1" opacity="0.3"/><rect x="402" y="147" width="1" height="1" opacity="0.3"/><rect x="356" y="263" width="1" height="1" opacity="0.2"/><rect x="413" y="389" width="2" height="1" opacity="0.4"/><rect x="385" y="340" width="3" height="1" opacity="0.4"/><rect x="383" y="196" width="2" height="1" opacity="0.4"/><rect x="402" y="125" width="1" height="1" opacity="0.3"/><rect x="360" y="483" width="1" height="1" opacity="0.2"/><rect x="362" y="416" width="2" height="1" opacity="0.3"/><rect x="401" y="232" width="3" height="1" opacity="0.4"/><rect x="380" y="395" width="3" height="1" opacity="0.3"/><rect x="362" y="347" width="3" height="1" opacity="0.4"/><rect x="409" y="388" width="2" height="1" opacity="0.4"/><rect x="408" y="127" width="2" height="1" opacity="0.3"/><rect x="413" y="511" width="1" height="1" opacity="0.4"/><rect x="365" y="436" width="3" height="1" opacity="0.2"/><rect x="397" y="162" width="2" height="1" opacity="0.3"/><rect x="359" y="315" width="3" height="1" opacity="0.4"/><rect x="408" y="384" width="1" height="1" opacity="0.2"/><rect x="392" y="440" width="2" height="1" opacity="0.3"/><rect x="411" y="443" width="2" height="1" opacity="0.4"/><rect x="402" y="179" width="1" height="1" opacity="0.2"/><rect x="378" y="127" width="1" height="1" opacity="0.3"/><rect x="390" y="206" width="2" height="1" opacity="0.4"/><rect x="407" y="304" width="1" height="1" opacity="0.3"/><rect x="411" y="190" width="2" height="1" opacity="0.3"/><rect x="365" y="535" width="2" height="1" opacity="0.4"/><rect x="355" y="509" width="1" height="1" opacity="0.4"/><rect x="365" y="230" width="1" height="1" opacity="0.3"/><rect x="364" y="150" width="2" height="1" opacity="0.3"/><rect x="405" y="264" width="2" height="1" opacity="0.3"/><rect x="375" y="403" width="2" height="1" opacity="0.4"/><rect x="355" y="314" width="3" height="1" opacity="0.3"/><rect x="363" y="125" width="3" height="1" opacity="0.3"/><rect x="400" y="341" width="2" height="1" opacity="0.3"/><rect x="394" y="465" width="1" height="1" opacity="0.3"/><rect x="361" y="450" width="1" height="1" opacity="0.3"/><rect x="438" y="257" width="3" height="1" opacity="0.4"/><rect x="397" y="255" width="1" height="1" opacity="0.4"/><rect x="401" y="301" width="3" height="1" opacity="0.2"/><rect x="410" y="347" width="1" height="1" opacity="0.2"/><rect x="371" y="513" width="2" height="1" opacity="0.3"/><rect x="371" y="228" width="2" height="1" opacity="0.2"/><rect x="359" y="280" width="1" height="1" opacity="0.2"/><rect x="426" y="428" width="2" height="1" opacity="0.3"/><rect x="394" y="443" width="1" height="1" opacity="0.3"/><rect x="363" y="231" width="3" height="1" opacity="0.2"/><rect x="424" y="158" width="2" height="1" opacity="0.3"/><rect x="400" y="527" width="2" height="1" opacity="0.3"/><rect x="366" y="139" width="1" height="1" opacity="0.4"/><rect x="388" y="465" width="2" height="1" opacity="0.2"/><rect x="398" y="220" width="1" height="1" opacity="0.2"/><rect x="373" y="218" width="3" height="1" opacity="0.3"/><rect x="410" y="188" width="3" height="1" opacity="0.3"/><rect x="408" y="379" width="3" height="1" opacity="0.4"/><rect x="355" y="219" width="2" height="1" opacity="0.2"/><rect x="354" y="229" width="1" height="1" opacity="0.2"/><rect x="403" y="373" width="1" height="1" opacity="0.3"/><rect x="367" y="129" width="2" height="1" opacity="0.4"/><rect x="432" y="379" width="1" height="1" opacity="0.2"/><rect x="414" y="194" width="3" height="1" opacity="0.4"/><rect x="413" y="503" width="2" height="1" opacity="0.4"/><rect x="393" y="303" width="2" height="1" opacity="0.2"/><rect x="384" y="283" width="1" height="1" opacity="0.3"/><rect x="367" y="531" width="3" height="1" opacity="0.3"/><rect x="394" y="281" width="2" height="1" opacity="0.2"/><rect x="369" y="273" width="2" height="1" opacity="0.4"/><rect x="369" y="454" width="1" height="1" opacity="0.3"/><rect x="394" y="123" width="1" height="1" opacity="0.4"/><rect x="357" y="258" width="2" height="1" opacity="0.3"/><rect x="404" y="297" width="2" height="1" opacity="0.2"/><rect x="379" y="221" width="2" height="1" opacity="0.4"/><rect x="402" y="121" width="2" height="1" opacity="0.4"/><rect x="359" y="147" width="3" height="1" opacity="0.3"/><rect x="384" y="212" width="3" height="1" opacity="0.2"/><rect x="387" y="515" width="1" height="1" opacity="0.2"/><rect x="396" y="348" width="2" height="1" opacity="0.4"/><rect x="389" y="324" width="2" height="1" opacity="0.2"/><rect x="379" y="489" width="1" height="1" opacity="0.2"/><rect x="399" y="536" width="2" height="1" opacity="0.2"/><rect x="366" y="232" width="2" height="1" opacity="0.2"/><rect x="370" y="159" width="3" height="1" opacity="0.2"/><rect x="357" y="509" width="2" height="1" opacity="0.4"/><rect x="394" y="226" width="2" height="1" opacity="0.3"/><rect x="360" y="418" width="3" height="1" opacity="0.2"/><rect x="360" y="440" width="3" height="1" opacity="0.2"/><rect x="392" y="521" width="1" height="1" opacity="0.4"/><rect x="355" y="462" width="1" height="1" opacity="0.2"/><rect x="431" y="529" width="2" height="1" opacity="0.4"/><rect x="376" y="365" width="2" height="1" opacity="0.2"/><rect x="370" y="460" width="2" height="1" opacity="0.2"/><rect x="362" y="152" width="1" height="1" opacity="0.3"/><rect x="405" y="478" width="3" height="1" opacity="0.3"/><rect x="407" y="236" width="2" height="1" opacity="0.4"/><rect x="370" y="341" width="3" height="1" opacity="0.4"/><rect x="353" y="470" width="1" height="1" opacity="0.4"/><rect x="407" y="131" width="2" height="1" opacity="0.2"/><rect x="383" y="131" width="3" height="1" opacity="0.4"/><rect x="367" y="302" width="3" height="1" opacity="0.4"/><rect x="357" y="420" width="2" height="1" opacity="0.2"/><rect x="413" y="302" width="2" height="1" opacity="0.2"/><rect x="379" y="139" width="2" height="1" opacity="0.3"/><rect x="388" y="433" width="1" height="1" opacity="0.2"/><rect x="356" y="141" width="2" height="1" opacity="0.3"/><rect x="404" y="142" width="3" height="1" opacity="0.3"/><rect x="416" y="252" width="2" height="1" opacity="0.4"/><rect x="405" y="161" width="1" height="1" opacity="0.3"/><rect x="377" y="266" width="2" height="1" opacity="0.4"/><rect x="434" y="465" width="2" height="1" opacity="0.2"/><rect x="365" y="480" width="2" height="1" opacity="0.2"/><rect x="375" y="135" width="3" height="1" opacity="0.4"/><rect x="383" y="434" width="2" height="1" opacity="0.4"/><rect x="411" y="506" width="2" height="1" opacity="0.3"/><rect x="394" y="192" width="3" height="1" opacity="0.4"/><rect x="371" y="155" width="2" height="1" opacity="0.4"/><rect x="383" y="198" width="2" height="1" opacity="0.3"/><rect x="405" y="399" width="2" height="1" opacity="0.3"/><rect x="402" y="131" width="2" height="1" opacity="0.2"/><rect x="374" y="494" width="3" height="1" opacity="0.3"/><rect x="356" y="517" width="2" height="1" opacity="0.3"/><rect x="401" y="205" width="2" height="1" opacity="0.4"/><rect x="368" y="256" width="2" height="1" opacity="0.4"/><rect x="412" y="187" width="2" height="1" opacity="0.4"/><rect x="424" y="370" width="3" height="1" opacity="0.4"/><rect x="413" y="234" width="3" height="1" opacity="0.4"/><rect x="413" y="356" width="2" height="1" opacity="0.2"/><rect x="402" y="399" width="1" height="1" opacity="0.3"/><rect x="365" y="426" width="2" height="1" opacity="0.4"/><rect x="387" y="362" width="1" height="1" opacity="0.4"/><rect x="381" y="510" width="2" height="1" opacity="0.4"/><rect x="369" y="170" width="1" height="1" opacity="0.3"/><rect x="396" y="527" width="2" height="1" opacity="0.3"/><rect x="373" y="164" width="2" height="1" opacity="0.2"/><rect x="394" y="176" width="1" height="1" opacity="0.4"/><rect x="360" y="287" width="2" height="1" opacity="0.3"/><rect x="373" y="223" width="1" height="1" opacity="0.3"/><rect x="361" y="217" width="2" height="1" opacity="0.2"/><rect x="379" y="498" width="2" height="1" opacity="0.3"/><rect x="377" y="236" width="2" height="1" opacity="0.3"/><rect x="361" y="139" width="3" height="1" opacity="0.2"/><rect x="395" y="232" width="2" height="1" opacity="0.2"/><rect x="403" y="445" width="2" height="1" opacity="0.2"/><rect x="367" y="403" width="3" height="1" opacity="0.4"/><rect x="361" y="409" width="3" height="1" opacity="0.4"/><rect x="395" y="382" width="2" height="1" opacity="0.4"/><rect x="390" y="510" width="2" height="1" opacity="0.3"/><rect x="372" y="223" width="2" height="1" opacity="0.3"/><rect x="400" y="276" width="1" height="1" opacity="0.2"/><rect x="395" y="330" width="3" height="1" opacity="0.4"/><rect x="396" y="171" width="2" height="1" opacity="0.3"/><rect x="358" y="333" width="1" height="1" opacity="0.2"/><rect x="381" y="390" width="3" height="1" opacity="0.3"/><rect x="408" y="461" width="1" height="1" opacity="0.3"/><rect x="368" y="386" width="2" height="1" opacity="0.2"/><rect x="372" y="220" width="1" height="1" opacity="0.2"/><rect x="362" y="251" width="3" height="1" opacity="0.3"/><rect x="363" y="491" width="1" height="1" opacity="0.4"/><rect x="367" y="332" width="2" height="1" opacity="0.3"/><rect x="382" y="204" width="3" height="1" opacity="0.4"/><rect x="361" y="323" width="2" height="1" opacity="0.4"/><rect x="353" y="272" width="2" height="1" opacity="0.2"/><rect x="390" y="463" width="3" height="1" opacity="0.2"/><rect x="412" y="253" width="2" height="1" opacity="0.4"/><rect x="398" y="170" width="1" height="1" opacity="0.3"/><rect x="360" y="454" width="3" height="1" opacity="0.2"/><rect x="365" y="276" width="1" height="1" opacity="0.4"/><rect x="405" y="467" width="2" height="1" opacity="0.2"/><rect x="405" y="393" width="2" height="1" opacity="0.4"/><rect x="372" y="291" width="3" height="1" opacity="0.2"/><rect x="392" y="511" width="2" height="1" opacity="0.4"/><rect x="402" y="322" width="1" height="1" opacity="0.4"/><rect x="374" y="288" width="1" height="1" opacity="0.3"/><rect x="386" y="268" width="3" height="1" opacity="0.2"/><rect x="381" y="158" width="1" height="1" opacity="0.2"/><rect x="399" y="226" width="2" height="1" opacity="0.2"/><rect x="398" y="327" width="2" height="1" opacity="0.4"/><rect x="395" y="417" width="2" height="1" opacity="0.2"/><rect x="366" y="255" width="3" height="1" opacity="0.2"/><rect x="356" y="211" width="3" height="1" opacity="0.2"/><rect x="377" y="171" width="2" height="1" opacity="0.2"/><rect x="402" y="267" width="2" height="1" opacity="0.2"/><rect x="377" y="280" width="1" height="1" opacity="0.4"/><rect x="360" y="432" width="1" height="1" opacity="0.4"/><rect x="387" y="435" width="1" height="1" opacity="0.2"/><rect x="399" y="298" width="2" height="1" opacity="0.3"/><rect x="358" y="302" width="1" height="1" opacity="0.3"/><rect x="393" y="517" width="2" height="1" opacity="0.3"/><rect x="371" y="492" width="2" height="1" opacity="0.3"/><rect x="365" y="408" width="2" height="1" opacity="0.4"/><rect x="375" y="374" width="3" height="1" opacity="0.3"/><rect x="358" y="158" width="2" height="1" opacity="0.4"/><rect x="380" y="293" width="3" height="1" opacity="0.3"/><rect x="434" y="345" width="3" height="1" opacity="0.3"/><rect x="406" y="449" width="2" height="1" opacity="0.2"/><rect x="396" y="164" width="1" height="1" opacity="0.4"/><rect x="401" y="451" width="1" height="1" opacity="0.3"/><rect x="358" y="240" width="2" height="1" opacity="0.4"/><rect x="354" y="219" width="1" height="1" opacity="0.4"/><rect x="438" y="129" width="1" height="1" opacity="0.3"/><rect x="396" y="268" width="2" height="1" opacity="0.4"/><rect x="387" y="233" width="2" height="1" opacity="0.4"/><rect x="391" y="507" width="3" height="1" opacity="0.4"/><rect x="374" y="450" width="2" height="1" opacity="0.4"/><rect x="392" y="517" width="2" height="1" opacity="0.2"/><rect x="372" y="383" width="3" height="1" opacity="0.4"/><rect x="381" y="393" width="3" height="1" opacity="0.3"/><rect x="403" y="303" width="3" height="1" opacity="0.2"/><rect x="385" y="505" width="1" height="1" opacity="0.2"/><rect x="367" y="368" width="2" height="1" opacity="0.4"/><rect x="361" y="236" width="1" height="1" opacity="0.2"/><rect x="373" y="226" width="1" height="1" opacity="0.3"/><rect x="393" y="412" width="2" height="1" opacity="0.4"/><rect x="365" y="207" width="2" height="1" opacity="0.4"/><rect x="372" y="473" width="2" height="1" opacity="0.3"/><rect x="382" y="189" width="1" height="1" opacity="0.4"/><rect x="379" y="537" width="1" height="1" opacity="0.2"/><rect x="373" y="163" width="3" height="1" opacity="0.4"/><rect x="356" y="459" width="2" height="1" opacity="0.4"/><rect x="377" y="452" width="2" height="1" opacity="0.2"/><rect x="362" y="489" width="2" height="1" opacity="0.3"/><rect x="412" y="412" width="1" height="1" opacity="0.3"/><rect x="388" y="142" width="2" height="1" opacity="0.2"/><rect x="407" y="206" width="2" height="1" opacity="0.2"/><rect x="357" y="430" width="2" height="1" opacity="0.2"/><rect x="401" y="537" width="2" height="1" opacity="0.4"/><rect x="360" y="407" width="2" height="1" opacity="0.4"/><rect x="361" y="405" width="2" height="1" opacity="0.2"/><rect x="420" y="441" width="1" height="1" opacity="0.2"/><rect x="364" y="283" width="3" height="1" opacity="0.4"/><rect x="398" y="180" width="1" height="1" opacity="0.3"/><rect x="412" y="286" width="2" height="1" opacity="0.2"/><rect x="378" y="141" width="1" height="1" opacity="0.2"/><rect x="367" y="192" width="2" height="1" opacity="0.3"/><rect x="421" y="478" width="2" height="1" opacity="0.3"/><rect x="373" y="413" width="2" height="1" opacity="0.4"/><rect x="389" y="354" width="2" height="1" opacity="0.4"/><rect x="374" y="172" width="3" height="1" opacity="0.4"/><rect x="381" y="188" width="2" height="1" opacity="0.3"/><rect x="397" y="353" width="3" height="1" opacity="0.4"/><rect x="412" y="121" width="2" height="1" opacity="0.3"/><rect x="412" y="180" width="3" height="1" opacity="0.2"/><rect x="383" y="312" width="1" height="1" opacity="0.2"/><rect x="358" y="357" width="2" height="1" opacity="0.4"/><rect x="354" y="145" width="2" height="1" opacity="0.4"/><rect x="381" y="174" width="1" height="1" opacity="0.3"/><rect x="410" y="153" width="2" height="1" opacity="0.2"/><rect x="385" y="339" width="3" height="1" opacity="0.3"/><rect x="363" y="400" width="1" height="1" opacity="0.3"/><rect x="413" y="375" width="2" height="1" opacity="0.3"/><rect x="382" y="231" width="1" height="1" opacity="0.2"/><rect x="412" y="133" width="1" height="1" opacity="0.3"/><rect x="370" y="352" width="3" height="1" opacity="0.3"/><rect x="384" y="203" width="2" height="1" opacity="0.2"/><rect x="353" y="255" width="2" height="1" opacity="0.3"/><rect x="381" y="393" width="3" height="1" opacity="0.3"/><rect x="353" y="177" width="3" height="1" opacity="0.2"/><rect x="378" y="156" width="3" height="1" opacity="0.4"/><rect x="396" y="169" width="2" height="1" opacity="0.2"/><rect x="412" y="430" width="1" height="1" opacity="0.3"/><rect x="407" y="449" width="1" height="1" opacity="0.4"/><rect x="380" y="521" width="3" height="1" opacity="0.3"/><rect x="397" y="233" width="3" height="1" opacity="0.3"/><rect x="361" y="501" width="1" height="1" opacity="0.4"/><rect x="436" y="195" width="1" height="1" opacity="0.2"/><rect x="361" y="342" width="2" height="1" opacity="0.4"/><rect x="428" y="186" width="2" height="1" opacity="0.3"/><rect x="380" y="417" width="3" height="1" opacity="0.2"/><rect x="383" y="209" width="3" height="1" opacity="0.3"/><rect x="411" y="272" width="3" height="1" opacity="0.3"/><rect x="390" y="407" width="1" height="1" opacity="0.2"/><rect x="391" y="385" width="1" height="1" opacity="0.3"/><rect x="364" y="418" width="1" height="1" opacity="0.4"/><rect x="403" y="227" width="2" height="1" opacity="0.4"/><rect x="367" y="188" width="3" height="1" opacity="0.2"/><rect x="404" y="242" width="2" height="1" opacity="0.3"/><rect x="390" y="294" width="1" height="1" opacity="0.3"/><rect x="413" y="471" width="2" height="1" opacity="0.2"/><rect x="367" y="481" width="2" height="1" opacity="0.4"/><rect x="377" y="153" width="3" height="1" opacity="0.4"/><rect x="388" y="342" width="2" height="1" opacity="0.4"/><rect x="369" y="290" width="2" height="1" opacity="0.2"/><rect x="388" y="375" width="2" height="1" opacity="0.3"/><rect x="390" y="133" width="2" height="1" opacity="0.2"/><rect x="404" y="270" width="1" height="1" opacity="0.2"/><rect x="358" y="365" width="1" height="1" opacity="0.4"/><rect x="356" y="188" width="2" height="1" opacity="0.4"/><rect x="355" y="395" width="2" height="1" opacity="0.4"/><rect x="388" y="127" width="2" height="1" opacity="0.2"/><rect x="384" y="159" width="2" height="1" opacity="0.2"/><rect x="355" y="445" width="3" height="1" opacity="0.4"/><rect x="405" y="129" width="1" height="1" opacity="0.4"/><rect x="403" y="132" width="2" height="1" opacity="0.3"/><rect x="390" y="428" width="2" height="1" opacity="0.4"/><rect x="366" y="496" width="1" height="1" opacity="0.4"/><rect x="393" y="461" width="2" height="1" opacity="0.2"/><rect x="356" y="427" width="2" height="1" opacity="0.2"/><rect x="359" y="398" width="2" height="1" opacity="0.4"/><rect x="406" y="153" width="2" height="1" opacity="0.3"/><rect x="403" y="306" width="1" height="1" opacity="0.4"/><rect x="403" y="177" width="1" height="1" opacity="0.4"/><rect x="388" y="389" width="2" height="1" opacity="0.4"/><rect x="365" y="419" width="1" height="1" opacity="0.2"/><rect x="354" y="126" width="1" height="1" opacity="0.2"/><rect x="382" y="385" width="3" height="1" opacity="0.3"/><rect x="410" y="477" width="3" height="1" opacity="0.4"/><rect x="439" y="516" width="2" height="1" opacity="0.2"/><rect x="369" y="166" width="3" height="1" opacity="0.4"/><rect x="429" y="136" width="2" height="1" opacity="0.3"/><rect x="417" y="528" width="3" height="1" opacity="0.2"/><rect x="383" y="476" width="2" height="1" opacity="0.3"/><rect x="405" y="499" width="2" height="1" opacity="0.4"/><rect x="370" y="419" width="2" height="1" opacity="0.4"/><rect x="364" y="483" width="3" height="1" opacity="0.4"/><rect x="355" y="312" width="2" height="1" opacity="0.3"/><rect x="404" y="522" width="2" height="1" opacity="0.2"/><rect x="372" y="276" width="3" height="1" opacity="0.2"/><rect x="414" y="127" width="2" height="1" opacity="0.4"/><rect x="390" y="303" width="2" height="1" opacity="0.2"/><rect x="357" y="520" width="2" height="1" opacity="0.3"/><rect x="406" y="393" width="3" height="1" opacity="0.3"/><rect x="429" y="277" width="1" height="1" opacity="0.4"/><rect x="364" y="477" width="3" height="1" opacity="0.2"/><rect x="392" y="140" width="2" height="1" opacity="0.4"/><rect x="353" y="139" width="3" height="1" opacity="0.4"/><rect x="361" y="496" width="2" height="1" opacity="0.3"/><rect x="382" y="183" width="2" height="1" opacity="0.3"/><rect x="356" y="534" width="2" height="1" opacity="0.4"/><rect x="392" y="193" width="2" height="1" opacity="0.3"/><rect x="382" y="474" width="1" height="1" opacity="0.2"/><rect x="394" y="230" width="2" height="1" opacity="0.4"/><rect x="428" y="370" width="2" height="1" opacity="0.4"/><rect x="386" y="511" width="2" height="1" opacity="0.3"/><rect x="383" y="361" width="3" height="1" opacity="0.2"/><rect x="373" y="413" width="3" height="1" opacity="0.2"/><rect x="413" y="185" width="2" height="1" opacity="0.4"/><rect x="362" y="302" width="1" height="1" opacity="0.4"/><rect x="368" y="295" width="2" height="1" opacity="0.4"/><rect x="396" y="172" width="2" height="1" opacity="0.2"/><rect x="404" y="364" width="2" height="1" opacity="0.4"/><rect x="356" y="487" width="1" height="1" opacity="0.2"/><rect x="400" y="343" width="2" height="1" opacity="0.3"/><rect x="432" y="467" width="2" height="1" opacity="0.3"/><rect x="413" y="235" width="1" height="1" opacity="0.4"/><rect x="408" y="379" width="3" height="1" opacity="0.2"/><rect x="359" y="476" width="2" height="1" opacity="0.4"/><rect x="373" y="122" width="1" height="1" opacity="0.4"/><rect x="359" y="328" width="1" height="1" opacity="0.2"/><rect x="417" y="266" width="2" height="1" opacity="0.2"/><rect x="403" y="505" width="2" height="1" opacity="0.4"/><rect x="432" y="129" width="1" height="1" opacity="0.3"/><rect x="409" y="466" width="2" height="1" opacity="0.2"/><rect x="382" y="254" width="2" height="1" opacity="0.3"/><rect x="395" y="423" width="3" height="1" opacity="0.2"/><rect x="359" y="265" width="1" height="1" opacity="0.2"/><rect x="379" y="222" width="2" height="1" opacity="0.4"/><rect x="400" y="500" width="1" height="1" opacity="0.4"/><rect x="354" y="374" width="2" height="1" opacity="0.2"/><rect x="384" y="163" width="2" height="1" opacity="0.4"/><rect x="364" y="210" width="2" height="1" opacity="0.2"/><rect x="366" y="491" width="2" height="1" opacity="0.3"/><rect x="414" y="389" width="2" height="1" opacity="0.2"/><rect x="359" y="231" width="2" height="1" opacity="0.3"/><rect x="356" y="437" width="3" height="1" opacity="0.2"/><rect x="403" y="501" width="3" height="1" opacity="0.3"/><rect x="388" y="371" width="2" height="1" opacity="0.2"/><rect x="380" y="142" width="1" height="1" opacity="0.4"/><rect x="375" y="176" width="3" height="1" opacity="0.3"/><rect x="387" y="463" width="3" height="1" opacity="0.2"/><rect x="385" y="403" width="1" height="1" opacity="0.2"/><rect x="384" y="389" width="1" height="1" opacity="0.2"/><rect x="375" y="299" width="3" height="1" opacity="0.4"/><rect x="359" y="220" width="1" height="1" opacity="0.3"/><rect x="371" y="492" width="2" height="1" opacity="0.3"/><rect x="421" y="536" width="2" height="1" opacity="0.4"/><rect x="364" y="337" width="2" height="1" opacity="0.2"/><rect x="403" y="421" width="3" height="1" opacity="0.2"/><rect x="374" y="356" width="1" height="1" opacity="0.4"/><rect x="377" y="188" width="2" height="1" opacity="0.3"/><rect x="390" y="471" width="2" height="1" opacity="0.3"/><rect x="369" y="355" width="1" height="1" opacity="0.3"/><rect x="372" y="176" width="2" height="1" opacity="0.2"/><rect x="377" y="530" width="1" height="1" opacity="0.3"/><rect x="361" y="154" width="3" height="1" opacity="0.3"/><rect x="394" y="340" width="3" height="1" opacity="0.4"/><rect x="426" y="122" width="3" height="1" opacity="0.4"/><rect x="398" y="489" width="1" height="1" opacity="0.2"/><rect x="379" y="256" width="2" height="1" opacity="0.2"/><rect x="404" y="130" width="1" height="1" opacity="0.2"/><rect x="385" y="256" width="2" height="1" opacity="0.3"/><rect x="376" y="427" width="3" height="1" opacity="0.2"/><rect x="393" y="483" width="1" height="1" opacity="0.4"/><rect x="353" y="435" width="2" height="1" opacity="0.4"/><rect x="356" y="338" width="1" height="1" opacity="0.4"/><rect x="409" y="501" width="2" height="1" opacity="0.4"/><rect x="418" y="536" width="3" height="1" opacity="0.2"/><rect x="428" y="246" width="1" height="1" opacity="0.2"/><rect x="359" y="253" width="2" height="1" opacity="0.2"/><rect x="368" y="187" width="2" height="1" opacity="0.2"/><rect x="380" y="244" width="1" height="1" opacity="0.3"/><rect x="405" y="346" width="1" height="1" opacity="0.3"/><rect x="387" y="261" width="1" height="1" opacity="0.4"/><rect x="412" y="141" width="2" height="1" opacity="0.2"/><rect x="375" y="354" width="1" height="1" opacity="0.3"/><rect x="379" y="408" width="1" height="1" opacity="0.4"/><rect x="396" y="306" width="3" height="1" opacity="0.2"/><rect x="367" y="524" width="3" height="1" opacity="0.4"/><rect x="385" y="220" width="3" height="1" opacity="0.3"/><rect x="378" y="407" width="1" height="1" opacity="0.2"/><rect x="358" y="157" width="1" height="1" opacity="0.3"/><rect x="366" y="290" width="2" height="1" opacity="0.2"/><rect x="378" y="345" width="1" height="1" opacity="0.3"/><rect x="404" y="308" width="2" height="1" opacity="0.3"/><rect x="371" y="162" width="2" height="1" opacity="0.3"/><rect x="374" y="318" width="2" height="1" opacity="0.4"/><rect x="371" y="239" width="2" height="1" opacity="0.2"/><rect x="392" y="489" width="1" height="1" opacity="0.2"/><rect x="393" y="469" width="3" height="1" opacity="0.4"/><rect x="423" y="448" width="2" height="1" opacity="0.4"/><rect x="402" y="244" width="3" height="1" opacity="0.3"/><rect x="400" y="297" width="2" height="1" opacity="0.3"/><rect x="437" y="513" width="3" height="1" opacity="0.3"/><rect x="377" y="289" width="1" height="1" opacity="0.3"/><rect x="413" y="190" width="1" height="1" opacity="0.2"/><rect x="376" y="152" width="2" height="1" opacity="0.4"/><rect x="410" y="129" width="2" height="1" opacity="0.3"/><rect x="357" y="516" width="2" height="1" opacity="0.3"/><rect x="403" y="504" width="3" height="1" opacity="0.3"/><rect x="410" y="306" width="2" height="1" opacity="0.4"/><rect x="385" y="135" width="3" height="1" opacity="0.2"/><rect x="362" y="210" width="2" height="1" opacity="0.2"/><rect x="399" y="307" width="2" height="1" opacity="0.4"/><rect x="397" y="172" width="3" height="1" opacity="0.3"/><rect x="369" y="480" width="2" height="1" opacity="0.2"/><rect x="374" y="279" width="2" height="1" opacity="0.3"/><rect x="359" y="336" width="2" height="1" opacity="0.2"/><rect x="389" y="152" width="3" height="1" opacity="0.4"/><rect x="414" y="438" width="2" height="1" opacity="0.2"/><rect x="384" y="182" width="2" height="1" opacity="0.3"/><rect x="373" y="414" width="2" height="1" opacity="0.4"/><rect x="391" y="180" width="1" height="1" opacity="0.2"/><rect x="367" y="157" width="2" height="1" opacity="0.4"/><rect x="361" y="159" width="2" height="1" opacity="0.3"/><rect x="353" y="153" width="2" height="1" opacity="0.3"/><rect x="408" y="262" width="3" height="1" opacity="0.2"/><rect x="407" y="126" width="2" height="1" opacity="0.2"/><rect x="439" y="252" width="1" height="1" opacity="0.2"/><rect x="414" y="288" width="2" height="1" opacity="0.4"/><rect x="397" y="501" width="2" height="1" opacity="0.3"/><rect x="395" y="148" width="2" height="1" opacity="0.2"/><rect x="403" y="433" width="2" height="1" opacity="0.4"/><rect x="361" y="447" width="1" height="1" opacity="0.3"/><rect x="413" y="322" width="2" height="1" opacity="0.3"/><rect x="393" y="338" width="2" height="1" opacity="0.3"/><rect x="391" y="287" width="2" height="1" opacity="0.2"/><rect x="393" y="277" width="2" height="1" opacity="0.2"/><rect x="361" y="215" width="1" height="1" opacity="0.4"/><rect x="382" y="242" width="3" height="1" opacity="0.2"/><rect x="396" y="454" width="2" height="1" opacity="0.3"/><rect x="402" y="232" width="2" height="1" opacity="0.2"/><rect x="361" y="243" width="2" height="1" opacity="0.2"/><rect x="416" y="372" width="1" height="1" opacity="0.3"/><rect x="353" y="386" width="3" height="1" opacity="0.2"/><rect x="407" y="538" width="2" height="1" opacity="0.3"/><rect x="378" y="343" width="2" height="1" opacity="0.2"/><rect x="408" y="375" width="2" height="1" opacity="0.4"/><rect x="382" y="249" width="2" height="1" opacity="0.4"/><rect x="357" y="506" width="1" height="1" opacity="0.4"/><rect x="410" y="269" width="3" height="1" opacity="0.4"/><rect x="361" y="189" width="3" height="1" opacity="0.4"/><rect x="379" y="534" width="2" height="1" opacity="0.4"/><rect x="389" y="414" width="2" height="1" opacity="0.4"/><rect x="400" y="228" width="3" height="1" opacity="0.4"/><rect x="407" y="316" width="2" height="1" opacity="0.2"/><rect x="373" y="427" width="1" height="1" opacity="0.4"/><rect x="354" y="339" width="1" height="1" opacity="0.4"/><rect x="434" y="357" width="2" height="1" opacity="0.2"/><rect x="370" y="256" width="2" height="1" opacity="0.2"/><rect x="373" y="517" width="1" height="1" opacity="0.2"/><rect x="396" y="208" width="2" height="1" opacity="0.3"/><rect x="385" y="519" width="2" height="1" opacity="0.4"/><rect x="401" y="354" width="2" height="1" opacity="0.4"/><rect x="402" y="141" width="1" height="1" opacity="0.4"/><rect x="412" y="266" width="1" height="1" opacity="0.2"/><rect x="388" y="179" width="1" height="1" opacity="0.2"/><rect x="372" y="493" width="2" height="1" opacity="0.3"/><rect x="384" y="291" width="2" height="1" opacity="0.3"/><rect x="414" y="155" width="1" height="1" opacity="0.4"/><rect x="393" y="328" width="3" height="1" opacity="0.2"/><rect x="390" y="412" width="2" height="1" opacity="0.4"/><rect x="371" y="305" width="3" height="1" opacity="0.3"/><rect x="370" y="276" width="3" height="1" opacity="0.4"/><rect x="395" y="420" width="1" height="1" opacity="0.2"/><rect x="363" y="513" width="1" height="1" opacity="0.2"/><rect x="357" y="148" width="3" height="1" opacity="0.2"/><rect x="400" y="302" width="2" height="1" opacity="0.2"/><rect x="414" y="367" width="3" height="1" opacity="0.4"/><rect x="385" y="342" width="2" height="1" opacity="0.4"/><rect x="418" y="321" width="2" height="1" opacity="0.2"/><rect x="397" y="403" width="3" height="1" opacity="0.2"/><rect x="412" y="433" width="1" height="1" opacity="0.3"/><rect x="413" y="472" width="3" height="1" opacity="0.2"/><rect x="403" y="220" width="2" height="1" opacity="0.4"/><rect x="384" y="287" width="2" height="1" opacity="0.3"/><rect x="409" y="386" width="2" height="1" opacity="0.4"/><rect x="405" y="518" width="1" height="1" opacity="0.4"/><rect x="385" y="218" width="1" height="1" opacity="0.2"/><rect x="408" y="189" width="3" height="1" opacity="0.4"/><rect x="410" y="139" width="2" height="1" opacity="0.3"/><rect x="378" y="385" width="3" height="1" opacity="0.3"/><rect x="374" y="202" width="2" height="1" opacity="0.2"/><rect x="382" y="494" width="3" height="1" opacity="0.3"/><rect x="393" y="238" width="3" height="1" opacity="0.3"/><rect x="384" y="395" width="2" height="1" opacity="0.2"/><rect x="357" y="273" width="3" height="1" opacity="0.2"/><rect x="409" y="247" width="1" height="1" opacity="0.4"/><rect x="390" y="434" width="1" height="1" opacity="0.3"/><rect x="394" y="340" width="1" height="1" opacity="0.4"/><rect x="357" y="274" width="3" height="1" opacity="0.3"/><rect x="407" y="128" width="2" height="1" opacity="0.3"/><rect x="383" y="455" width="2" height="1" opacity="0.3"/><rect x="363" y="513" width="2" height="1" opacity="0.4"/><rect x="367" y="191" width="2" height="1" opacity="0.3"/><rect x="365" y="449" width="1" height="1" opacity="0.2"/><rect x="435" y="285" width="2" height="1" opacity="0.4"/><rect x="379" y="472" width="2" height="1" opacity="0.3"/><rect x="371" y="435" width="1" height="1" opacity="0.4"/><rect x="369" y="123" width="2" height="1" opacity="0.2"/><rect x="355" y="529" width="2" height="1" opacity="0.3"/><rect x="354" y="483" width="2" height="1" opacity="0.4"/><rect x="386" y="502" width="3" height="1" opacity="0.4"/><rect x="409" y="140" width="3" height="1" opacity="0.3"/><rect x="382" y="159" width="2" height="1" opacity="0.4"/><rect x="371" y="348" width="2" height="1" opacity="0.4"/><rect x="383" y="537" width="1" height="1" opacity="0.2"/><rect x="357" y="128" width="2" height="1" opacity="0.3"/><rect x="359" y="391" width="1" height="1" opacity="0.2"/><rect x="410" y="326" width="3" height="1" opacity="0.4"/><rect x="365" y="143" width="2" height="1" opacity="0.4"/><rect x="426" y="464" width="1" height="1" opacity="0.2"/><rect x="356" y="135" width="2" height="1" opacity="0.3"/><rect x="404" y="355" width="2" height="1" opacity="0.3"/><rect x="413" y="353" width="2" height="1" opacity="0.3"/><rect x="355" y="313" width="3" height="1" opacity="0.4"/><rect x="434" y="442" width="2" height="1" opacity="0.3"/><rect x="397" y="377" width="2" height="1" opacity="0.2"/><rect x="409" y="303" width="3" height="1" opacity="0.3"/><rect x="409" y="509" width="2" height="1" opacity="0.4"/><rect x="377" y="316" width="1" height="1" opacity="0.3"/><rect x="403" y="387" width="2" height="1" opacity="0.2"/><rect x="409" y="459" width="3" height="1" opacity="0.2"/><rect x="369" y="442" width="3" height="1" opacity="0.2"/><rect x="435" y="317" width="1" height="1" opacity="0.4"/><rect x="377" y="203" width="2" height="1" opacity="0.2"/><rect x="389" y="290" width="1" height="1" opacity="0.2"/><rect x="373" y="363" width="2" height="1" opacity="0.3"/><rect x="361" y="211" width="1" height="1" opacity="0.2"/><rect x="356" y="274" width="2" height="1" opacity="0.2"/><rect x="377" y="419" width="1" height="1" opacity="0.3"/><rect x="381" y="193" width="2" height="1" opacity="0.3"/><rect x="365" y="341" width="2" height="1" opacity="0.4"/><rect x="381" y="513" width="3" height="1" opacity="0.4"/><rect x="353" y="292" width="2" height="1" opacity="0.4"/><rect x="375" y="122" width="2" height="1" opacity="0.3"/><rect x="371" y="293" width="3" height="1" opacity="0.4"/><rect x="403" y="162" width="3" height="1" opacity="0.3"/><rect x="404" y="208" width="2" height="1" opacity="0.3"/><rect x="361" y="336" width="1" height="1" opacity="0.2"/><rect x="371" y="381" width="1" height="1" opacity="0.3"/><rect x="378" y="529" width="3" height="1" opacity="0.2"/><rect x="414" y="487" width="2" height="1" opacity="0.4"/><rect x="412" y="342" width="1" height="1" opacity="0.4"/><rect x="380" y="146" width="3" height="1" opacity="0.4"/><rect x="373" y="521" width="2" height="1" opacity="0.3"/><rect x="439" y="376" width="2" height="1" opacity="0.4"/><rect x="368" y="326" width="2" height="1" opacity="0.3"/><rect x="373" y="494" width="3" height="1" opacity="0.3"/><rect x="429" y="230" width="2" height="1" opacity="0.4"/><rect x="386" y="207" width="1" height="1" opacity="0.2"/><rect x="377" y="411" width="3" height="1" opacity="0.3"/><rect x="375" y="370" width="2" height="1" opacity="0.3"/><rect x="396" y="250" width="3" height="1" opacity="0.4"/><rect x="368" y="157" width="2" height="1" opacity="0.2"/><rect x="419" y="245" width="2" height="1" opacity="0.3"/><rect x="388" y="360" width="2" height="1" opacity="0.2"/><rect x="406" y="272" width="1" height="1" opacity="0.4"/><rect x="397" y="151" width="3" height="1" opacity="0.4"/><rect x="361" y="373" width="1" height="1" opacity="0.4"/><rect x="421" y="224" width="2" height="1" opacity="0.4"/><rect x="403" y="538" width="2" height="1" opacity="0.2"/><rect x="385" y="381" width="2" height="1" opacity="0.3"/><rect x="388" y="425" width="3" height="1" opacity="0.4"/><rect x="388" y="491" width="2" height="1" opacity="0.3"/><rect x="389" y="510" width="3" height="1" opacity="0.2"/><rect x="362" y="235" width="3" height="1" opacity="0.2"/><rect x="363" y="280" width="2" height="1" opacity="0.2"/><rect x="385" y="318" width="2" height="1" opacity="0.2"/><rect x="386" y="157" width="2" height="1" opacity="0.4"/><rect x="354" y="308" width="2" height="1" opacity="0.4"/><rect x="409" y="304" width="1" height="1" opacity="0.4"/><rect x="388" y="177" width="2" height="1" opacity="0.3"/><rect x="391" y="479" width="3" height="1" opacity="0.2"/><rect x="385" y="340" width="2" height="1" opacity="0.2"/><rect x="403" y="342" width="3" height="1" opacity="0.2"/><rect x="407" y="383" width="1" height="1" opacity="0.2"/><rect x="387" y="152" width="3" height="1" opacity="0.2"/><rect x="407" y="484" width="1" height="1" opacity="0.4"/><rect x="376" y="489" width="1" height="1" opacity="0.2"/><rect x="366" y="384" width="3" height="1" opacity="0.4"/><rect x="386" y="243" width="3" height="1" opacity="0.4"/><rect x="401" y="495" width="1" height="1" opacity="0.4"/><rect x="387" y="369" width="2" height="1" opacity="0.2"/><rect x="371" y="473" width="1" height="1" opacity="0.4"/><rect x="407" y="261" width="1" height="1" opacity="0.2"/><rect x="413" y="429" width="1" height="1" opacity="0.2"/><rect x="404" y="524" width="3" height="1" opacity="0.4"/><rect x="394" y="445" width="1" height="1" opacity="0.2"/><rect x="368" y="196" width="1" height="1" opacity="0.4"/><rect x="400" y="159" width="1" height="1" opacity="0.2"/><rect x="405" y="294" width="2" height="1" opacity="0.3"/><rect x="355" y="275" width="2" height="1" opacity="0.3"/><rect x="352" y="180" width="2" height="1" opacity="0.2"/><rect x="380" y="500" width="1" height="1" opacity="0.4"/><rect x="380" y="300" width="1" height="1" opacity="0.4"/><rect x="414" y="175" width="2" height="1" opacity="0.3"/><rect x="405" y="151" width="2" height="1" opacity="0.2"/><rect x="411" y="423" width="3" height="1" opacity="0.2"/><rect x="365" y="435" width="3" height="1" opacity="0.3"/><rect x="391" y="353" width="2" height="1" opacity="0.2"/><rect x="369" y="260" width="2" height="1" opacity="0.2"/><rect x="376" y="214" width="2" height="1" opacity="0.4"/><rect x="400" y="318" width="2" height="1" opacity="0.3"/><rect x="392" y="222" width="3" height="1" opacity="0.2"/><rect x="378" y="140" width="2" height="1" opacity="0.2"/><rect x="408" y="136" width="2" height="1" opacity="0.3"/><rect x="365" y="200" width="2" height="1" opacity="0.4"/><rect x="386" y="439" width="3" height="1" opacity="0.3"/><rect x="370" y="535" width="2" height="1" opacity="0.3"/><rect x="386" y="175" width="2" height="1" opacity="0.4"/><rect x="379" y="393" width="1" height="1" opacity="0.2"/><rect x="371" y="379" width="2" height="1" opacity="0.2"/><rect x="356" y="272" width="1" height="1" opacity="0.3"/><rect x="353" y="523" width="2" height="1" opacity="0.4"/><rect x="410" y="188" width="2" height="1" opacity="0.2"/><rect x="401" y="504" width="1" height="1" opacity="0.4"/><rect x="388" y="292" width="3" height="1" opacity="0.2"/><rect x="406" y="319" width="3" height="1" opacity="0.3"/><rect x="394" y="192" width="1" height="1" opacity="0.2"/><rect x="403" y="171" width="3" height="1" opacity="0.3"/><rect x="406" y="375" width="2" height="1" opacity="0.2"/><rect x="373" y="289" width="3" height="1" opacity="0.3"/><rect x="376" y="473" width="2" height="1" opacity="0.2"/><rect x="372" y="145" width="2" height="1" opacity="0.3"/><rect x="376" y="484" width="1" height="1" opacity="0.4"/><rect x="413" y="293" width="2" height="1" opacity="0.2"/><rect x="370" y="530" width="1" height="1" opacity="0.4"/><rect x="396" y="390" width="3" height="1" opacity="0.3"/><rect x="359" y="172" width="1" height="1" opacity="0.2"/><rect x="384" y="211" width="1" height="1" opacity="0.2"/><rect x="371" y="405" width="2" height="1" opacity="0.4"/><rect x="419" y="452" width="3" height="1" opacity="0.4"/><rect x="356" y="347" width="2" height="1" opacity="0.3"/><rect x="382" y="346" width="1" height="1" opacity="0.2"/><rect x="400" y="356" width="3" height="1" opacity="0.4"/><rect x="408" y="265" width="3" height="1" opacity="0.3"/><rect x="371" y="501" width="2" height="1" opacity="0.2"/><rect x="408" y="290" width="3" height="1" opacity="0.2"/><rect x="405" y="215" width="2" height="1" opacity="0.2"/><rect x="392" y="203" width="1" height="1" opacity="0.2"/><rect x="401" y="343" width="2" height="1" opacity="0.3"/><rect x="364" y="480" width="3" height="1" opacity="0.2"/><rect x="389" y="508" width="2" height="1" opacity="0.2"/><rect x="429" y="171" width="3" height="1" opacity="0.4"/><rect x="405" y="244" width="1" height="1" opacity="0.2"/><rect x="363" y="313" width="2" height="1" opacity="0.3"/><rect x="391" y="519" width="3" height="1" opacity="0.3"/><rect x="366" y="428" width="1" height="1" opacity="0.4"/><rect x="377" y="398" width="2" height="1" opacity="0.4"/><rect x="409" y="172" width="1" height="1" opacity="0.4"/><rect x="358" y="269" width="1" height="1" opacity="0.4"/><rect x="373" y="258" width="2" height="1" opacity="0.4"/><rect x="411" y="339" width="2" height="1" opacity="0.2"/><rect x="354" y="467" width="2" height="1" opacity="0.4"/><rect x="363" y="348" width="3" height="1" opacity="0.3"/><rect x="374" y="308" width="1" height="1" opacity="0.2"/><rect x="384" y="391" width="2" height="1" opacity="0.4"/><rect x="371" y="436" width="1" height="1" opacity="0.4"/><rect x="374" y="502" width="2" height="1" opacity="0.3"/><rect x="386" y="358" width="3" height="1" opacity="0.2"/><rect x="372" y="209" width="2" height="1" opacity="0.4"/><rect x="397" y="361" width="2" height="1" opacity="0.3"/><rect x="370" y="356" width="2" height="1" opacity="0.3"/><rect x="378" y="453" width="3" height="1" opacity="0.3"/><rect x="385" y="399" width="1" height="1" opacity="0.4"/><rect x="394" y="136" width="2" height="1" opacity="0.4"/><rect x="383" y="174" width="3" height="1" opacity="0.3"/><rect x="407" y="351" width="2" height="1" opacity="0.3"/><rect x="411" y="481" width="2" height="1" opacity="0.4"/><rect x="367" y="508" width="2" height="1" opacity="0.4"/><rect x="370" y="348" width="3" height="1" opacity="0.2"/><rect x="372" y="236" width="2" height="1" opacity="0.2"/><rect x="357" y="282" width="2" height="1" opacity="0.2"/><rect x="385" y="236" width="1" height="1" opacity="0.3"/><rect x="412" y="219" width="3" height="1" opacity="0.3"/><rect x="402" y="372" width="2" height="1" opacity="0.4"/><rect x="387" y="189" width="2" height="1" opacity="0.3"/><rect x="368" y="524" width="3" height="1" opacity="0.3"/><rect x="403" y="188" width="2" height="1" opacity="0.3"/><rect x="354" y="460" width="2" height="1" opacity="0.4"/><rect x="377" y="277" width="3" height="1" opacity="0.2"/><rect x="391" y="329" width="2" height="1" opacity="0.3"/><rect x="426" y="347" width="2" height="1" opacity="0.2"/><rect x="371" y="184" width="3" height="1" opacity="0.2"/><rect x="373" y="408" width="2" height="1" opacity="0.3"/><rect x="379" y="194" width="2" height="1" opacity="0.3"/><rect x="407" y="524" width="2" height="1" opacity="0.2"/><rect x="408" y="396" width="3" height="1" opacity="0.2"/><rect x="374" y="472" width="2" height="1" opacity="0.2"/><rect x="398" y="490" width="3" height="1" opacity="0.3"/><rect x="355" y="461" width="2" height="1" opacity="0.2"/><rect x="404" y="314" width="2" height="1" opacity="0.3"/><rect x="376" y="411" width="3" height="1" opacity="0.2"/><rect x="413" y="457" width="2" height="1" opacity="0.2"/><rect x="371" y="146" width="2" height="1" opacity="0.4"/><rect x="386" y="318" width="2" height="1" opacity="0.4"/><rect x="400" y="510" width="3" height="1" opacity="0.2"/><rect x="407" y="327" width="2" height="1" opacity="0.4"/><rect x="407" y="331" width="1" height="1" opacity="0.4"/><rect x="353" y="124" width="3" height="1" opacity="0.4"/><rect x="401" y="393" width="3" height="1" opacity="0.2"/><rect x="406" y="250" width="2" height="1" opacity="0.2"/><rect x="395" y="159" width="2" height="1" opacity="0.2"/><rect x="364" y="441" width="3" height="1" opacity="0.2"/><rect x="433" y="350" width="2" height="1" opacity="0.2"/><rect x="361" y="183" width="2" height="1" opacity="0.2"/><rect x="397" y="234" width="2" height="1" opacity="0.4"/><rect x="396" y="391" width="3" height="1" opacity="0.3"/><rect x="372" y="156" width="1" height="1" opacity="0.3"/><rect x="356" y="420" width="1" height="1" opacity="0.2"/><rect x="437" y="235" width="2" height="1" opacity="0.4"/><rect x="382" y="419" width="2" height="1" opacity="0.4"/><rect x="382" y="323" width="2" height="1" opacity="0.2"/><rect x="353" y="515" width="3" height="1" opacity="0.3"/><rect x="362" y="253" width="2" height="1" opacity="0.2"/><rect x="383" y="366" width="1" height="1" opacity="0.4"/><rect x="373" y="497" width="2" height="1" opacity="0.4"/><rect x="399" y="381" width="3" height="1" opacity="0.4"/><rect x="386" y="215" width="2" height="1" opacity="0.4"/><rect x="361" y="196" width="1" height="1" opacity="0.3"/><rect x="416" y="163" width="1" height="1" opacity="0.3"/><rect x="399" y="359" width="2" height="1" opacity="0.3"/><rect x="382" y="414" width="1" height="1" opacity="0.3"/><rect x="410" y="256" width="2" height="1" opacity="0.2"/><rect x="366" y="322" width="1" height="1" opacity="0.2"/><rect x="439" y="482" width="2" height="1" opacity="0.3"/><rect x="377" y="282" width="2" height="1" opacity="0.4"/><rect x="361" y="199" width="2" height="1" opacity="0.2"/><rect x="405" y="333" width="1" height="1" opacity="0.3"/><rect x="356" y="491" width="1" height="1" opacity="0.3"/><rect x="383" y="517" width="3" height="1" opacity="0.4"/><rect x="415" y="284" width="2" height="1" opacity="0.4"/><rect x="357" y="367" width="1" height="1" opacity="0.4"/><rect x="410" y="313" width="2" height="1" opacity="0.3"/><rect x="405" y="148" width="2" height="1" opacity="0.2"/><rect x="407" y="395" width="3" height="1" opacity="0.3"/><rect x="362" y="524" width="2" height="1" opacity="0.2"/><rect x="433" y="496" width="2" height="1" opacity="0.4"/><rect x="386" y="285" width="3" height="1" opacity="0.3"/><rect x="388" y="129" width="2" height="1" opacity="0.4"/><rect x="418" y="179" width="2" height="1" opacity="0.3"/><rect x="417" y="407" width="2" height="1" opacity="0.3"/><rect x="364" y="144" width="2" height="1" opacity="0.3"/><rect x="396" y="455" width="3" height="1" opacity="0.2"/><rect x="412" y="362" width="2" height="1" opacity="0.2"/><rect x="396" y="424" width="2" height="1" opacity="0.4"/><rect x="371" y="198" width="2" height="1" opacity="0.3"/><rect x="408" y="501" width="2" height="1" opacity="0.2"/><rect x="408" y="139" width="3" height="1" opacity="0.2"/><rect x="376" y="199" width="3" height="1" opacity="0.4"/><rect x="392" y="533" width="2" height="1" opacity="0.3"/><rect x="374" y="366" width="1" height="1" opacity="0.3"/><rect x="356" y="415" width="2" height="1" opacity="0.4"/><rect x="358" y="454" width="2" height="1" opacity="0.4"/><rect x="357" y="524" width="3" height="1" opacity="0.3"/><rect x="384" y="531" width="2" height="1" opacity="0.2"/><rect x="358" y="180" width="2" height="1" opacity="0.2"/><rect x="400" y="455" width="2" height="1" opacity="0.3"/><rect x="365" y="233" width="2" height="1" opacity="0.4"/><rect x="391" y="143" width="2" height="1" opacity="0.3"/><rect x="353" y="227" width="1" height="1" opacity="0.2"/><rect x="381" y="372" width="2" height="1" opacity="0.2"/><rect x="415" y="377" width="3" height="1" opacity="0.2"/><rect x="363" y="207" width="3" height="1" opacity="0.4"/><rect x="395" y="309" width="2" height="1" opacity="0.4"/><rect x="362" y="481" width="3" height="1" opacity="0.3"/><rect x="373" y="535" width="2" height="1" opacity="0.2"/><rect x="377" y="242" width="3" height="1" opacity="0.3"/><rect x="355" y="145" width="1" height="1" opacity="0.3"/><rect x="375" y="299" width="2" height="1" opacity="0.3"/><rect x="352" y="535" width="1" height="1" opacity="0.2"/><rect x="394" y="378" width="1" height="1" opacity="0.4"/><rect x="360" y="533" width="1" height="1" opacity="0.2"/><rect x="393" y="538" width="1" height="1" opacity="0.3"/><rect x="363" y="352" width="2" height="1" opacity="0.4"/><rect x="402" y="426" width="2" height="1" opacity="0.3"/><rect x="373" y="514" width="1" height="1" opacity="0.2"/><rect x="398" y="273" width="1" height="1" opacity="0.2"/><rect x="371" y="313" width="1" height="1" opacity="0.3"/><rect x="386" y="343" width="1" height="1" opacity="0.4"/><rect x="408" y="433" width="2" height="1" opacity="0.2"/><rect x="367" y="477" width="1" height="1" opacity="0.3"/><rect x="414" y="259" width="3" height="1" opacity="0.2"/><rect x="399" y="463" width="2" height="1" opacity="0.2"/><rect x="410" y="317" width="2" height="1" opacity="0.2"/><rect x="401" y="186" width="1" height="1" opacity="0.2"/><rect x="377" y="312" width="1" height="1" opacity="0.3"/><rect x="398" y="493" width="2" height="1" opacity="0.4"/><rect x="396" y="287" width="1" height="1" opacity="0.3"/><rect x="388" y="265" width="2" height="1" opacity="0.2"/><rect x="390" y="216" width="2" height="1" opacity="0.4"/><rect x="359" y="497" width="2" height="1" opacity="0.4"/><rect x="360" y="347" width="2" height="1" opacity="0.3"/><rect x="385" y="221" width="1" height="1" opacity="0.3"/><rect x="402" y="321" width="2" height="1" opacity="0.4"/><rect x="411" y="506" width="2" height="1" opacity="0.4"/><rect x="369" y="176" width="3" height="1" opacity="0.2"/><rect x="414" y="185" width="1" height="1" opacity="0.3"/><rect x="387" y="247" width="2" height="1" opacity="0.4"/><rect x="366" y="530" width="1" height="1" opacity="0.3"/><rect x="413" y="169" width="2" height="1" opacity="0.2"/><rect x="420" y="408" width="2" height="1" opacity="0.3"/><rect x="353" y="392" width="1" height="1" opacity="0.3"/><rect x="391" y="275" width="1" height="1" opacity="0.2"/><rect x="404" y="153" width="2" height="1" opacity="0.3"/><rect x="409" y="362" width="2" height="1" opacity="0.3"/><rect x="352" y="509" width="1" height="1" opacity="0.4"/><rect x="383" y="348" width="2" height="1" opacity="0.3"/><rect x="360" y="438" width="1" height="1" opacity="0.3"/><rect x="404" y="448" width="3" height="1" opacity="0.3"/><rect x="363" y="226" width="3" height="1" opacity="0.4"/><rect x="401" y="190" width="2" height="1" opacity="0.3"/><rect x="374" y="214" width="2" height="1" opacity="0.2"/><rect x="370" y="386" width="2" height="1" opacity="0.3"/><rect x="398" y="380" width="2" height="1" opacity="0.4"/><rect x="380" y="368" width="3" height="1" opacity="0.2"/><rect x="371" y="147" width="2" height="1" opacity="0.3"/><rect x="402" y="176" width="1" height="1" opacity="0.4"/><rect x="387" y="240" width="2" height="1" opacity="0.2"/><rect x="406" y="169" width="3" height="1" opacity="0.3"/><rect x="357" y="342" width="3" height="1" opacity="0.2"/><rect x="363" y="286" width="1" height="1" opacity="0.2"/><rect x="401" y="365" width="2" height="1" opacity="0.4"/><rect x="359" y="451" width="3" height="1" opacity="0.2"/><rect x="374" y="209" width="2" height="1" opacity="0.3"/><rect x="411" y="430" width="2" height="1" opacity="0.4"/><rect x="409" y="426" width="2" height="1" opacity="0.2"/><rect x="359" y="377" width="1" height="1" opacity="0.3"/><rect x="387" y="122" width="3" height="1" opacity="0.2"/><rect x="392" y="417" width="3" height="1" opacity="0.4"/><rect x="358" y="122" width="2" height="1" opacity="0.3"/><rect x="374" y="386" width="2" height="1" opacity="0.2"/><rect x="399" y="132" width="3" height="1" opacity="0.4"/><rect x="398" y="160" width="3" height="1" opacity="0.2"/><rect x="398" y="125" width="3" height="1" opacity="0.4"/><rect x="364" y="409" width="2" height="1" opacity="0.2"/><rect x="392" y="404" width="3" height="1" opacity="0.4"/><rect x="375" y="127" width="3" height="1" opacity="0.4"/><rect x="392" y="525" width="2" height="1" opacity="0.2"/><rect x="376" y="369" width="2" height="1" opacity="0.3"/><rect x="397" y="329" width="2" height="1" opacity="0.3"/><rect x="411" y="507" width="1" height="1" opacity="0.4"/><rect x="376" y="456" width="2" height="1" opacity="0.3"/><rect x="390" y="250" width="1" height="1" opacity="0.4"/><rect x="399" y="468" width="2" height="1" opacity="0.2"/><rect x="360" y="283" width="1" height="1" opacity="0.2"/><rect x="434" y="469" width="3" height="1" opacity="0.4"/><rect x="414" y="312" width="1" height="1" opacity="0.2"/><rect x="402" y="467" width="3" height="1" opacity="0.3"/><rect x="434" y="172" width="2" height="1" opacity="0.3"/><rect x="405" y="412" width="3" height="1" opacity="0.3"/><rect x="393" y="253" width="2" height="1" opacity="0.2"/><rect x="353" y="444" width="3" height="1" opacity="0.4"/><rect x="388" y="246" width="3" height="1" opacity="0.4"/><rect x="384" y="219" width="1" height="1" opacity="0.2"/><rect x="407" y="517" width="3" height="1" opacity="0.3"/><rect x="395" y="332" width="3" height="1" opacity="0.4"/><rect x="363" y="445" width="2" height="1" opacity="0.2"/><rect x="393" y="155" width="2" height="1" opacity="0.2"/><rect x="396" y="387" width="3" height="1" opacity="0.4"/><rect x="371" y="243" width="2" height="1" opacity="0.2"/><rect x="403" y="402" width="1" height="1" opacity="0.2"/><rect x="382" y="223" width="3" height="1" opacity="0.2"/><rect x="411" y="224" width="2" height="1" opacity="0.4"/><rect x="398" y="440" width="2" height="1" opacity="0.3"/><rect x="408" y="206" width="3" height="1" opacity="0.3"/><rect x="395" y="260" width="2" height="1" opacity="0.3"/><rect x="363" y="462" width="1" height="1" opacity="0.4"/><rect x="409" y="440" width="2" height="1" opacity="0.4"/><rect x="378" y="303" width="2" height="1" opacity="0.2"/><rect x="376" y="172" width="1" height="1" opacity="0.2"/><rect x="390" y="381" width="2" height="1" opacity="0.4"/><rect x="374" y="530" width="3" height="1" opacity="0.2"/><rect x="369" y="497" width="3" height="1" opacity="0.4"/><rect x="403" y="140" width="1" height="1" opacity="0.3"/><rect x="373" y="225" width="3" height="1" opacity="0.2"/><rect x="404" y="239" width="2" height="1" opacity="0.2"/><rect x="377" y="530" width="3" height="1" opacity="0.4"/><rect x="360" y="193" width="3" height="1" opacity="0.2"/><rect x="420" y="490" width="3" height="1" opacity="0.3"/><rect x="362" y="464" width="3" height="1" opacity="0.4"/><rect x="383" y="529" width="2" height="1" opacity="0.2"/><rect x="387" y="227" width="2" height="1" opacity="0.3"/><rect x="395" y="404" width="1" height="1" opacity="0.2"/><rect x="353" y="270" width="1" height="1" opacity="0.4"/><rect x="407" y="499" width="1" height="1" opacity="0.4"/><rect x="385" y="458" width="1" height="1" opacity="0.4"/><rect x="409" y="530" width="1" height="1" opacity="0.4"/><rect x="352" y="133" width="3" height="1" opacity="0.3"/><rect x="361" y="489" width="2" height="1" opacity="0.2"/><rect x="360" y="226" width="2" height="1" opacity="0.3"/><rect x="399" y="163" width="1" height="1" opacity="0.2"/><rect x="392" y="383" width="2" height="1" opacity="0.2"/><rect x="366" y="365" width="1" height="1" opacity="0.4"/><rect x="411" y="502" width="2" height="1" opacity="0.2"/><rect x="373" y="191" width="1" height="1" opacity="0.2"/><rect x="364" y="326" width="2" height="1" opacity="0.2"/><rect x="384" y="123" width="1" height="1" opacity="0.2"/><rect x="371" y="532" width="3" height="1" opacity="0.2"/><rect x="363" y="356" width="2" height="1" opacity="0.4"/><rect x="366" y="534" width="3" height="1" opacity="0.2"/><rect x="373" y="503" width="1" height="1" opacity="0.4"/><rect x="382" y="265" width="3" height="1" opacity="0.2"/><rect x="406" y="494" width="1" height="1" opacity="0.4"/><rect x="371" y="371" width="2" height="1" opacity="0.3"/><rect x="390" y="427" width="3" height="1" opacity="0.3"/><rect x="383" y="124" width="1" height="1" opacity="0.2"/><rect x="408" y="317" width="2" height="1" opacity="0.2"/><rect x="383" y="450" width="1" height="1" opacity="0.4"/><rect x="430" y="353" width="3" height="1" opacity="0.4"/><rect x="397" y="391" width="1" height="1" opacity="0.4"/><rect x="395" y="354" width="2" height="1" opacity="0.2"/><rect x="363" y="227" width="2" height="1" opacity="0.3"/><rect x="414" y="492" width="3" height="1" opacity="0.4"/><rect x="405" y="443" width="3" height="1" opacity="0.4"/><rect x="367" y="442" width="1" height="1" opacity="0.2"/><rect x="399" y="257" width="2" height="1" opacity="0.2"/><rect x="383" y="367" width="3" height="1" opacity="0.4"/><rect x="398" y="274" width="2" height="1" opacity="0.3"/><rect x="403" y="242" width="3" height="1" opacity="0.4"/><rect x="360" y="145" width="1" height="1" opacity="0.3"/><rect x="367" y="450" width="3" height="1" opacity="0.3"/><rect x="384" y="354" width="2" height="1" opacity="0.2"/><rect x="407" y="270" width="1" height="1" opacity="0.3"/><rect x="355" y="530" width="2" height="1" opacity="0.2"/><rect x="384" y="505" width="3" height="1" opacity="0.2"/><rect x="391" y="238" width="1" height="1" opacity="0.2"/><rect x="385" y="127" width="3" height="1" opacity="0.3"/><rect x="411" y="264" width="2" height="1" opacity="0.3"/><rect x="373" y="377" width="2" height="1" opacity="0.4"/><rect x="414" y="429" width="2" height="1" opacity="0.3"/><rect x="370" y="214" width="1" height="1" opacity="0.4"/><rect x="365" y="271" width="2" height="1" opacity="0.2"/><rect x="397" y="227" width="3" height="1" opacity="0.3"/><rect x="394" y="412" width="3" height="1" opacity="0.4"/><rect x="393" y="534" width="2" height="1" opacity="0.2"/><rect x="397" y="497" width="2" height="1" opacity="0.2"/><rect x="364" y="510" width="2" height="1" opacity="0.4"/><rect x="360" y="186" width="3" height="1" opacity="0.2"/><rect x="374" y="455" width="2" height="1" opacity="0.2"/><rect x="371" y="463" width="1" height="1" opacity="0.3"/><rect x="366" y="355" width="2" height="1" opacity="0.2"/><rect x="358" y="195" width="1" height="1" opacity="0.4"/><rect x="397" y="283" width="3" height="1" opacity="0.4"/><rect x="396" y="340" width="1" height="1" opacity="0.3"/><rect x="397" y="435" width="1" height="1" opacity="0.3"/><rect x="385" y="229" width="2" height="1" opacity="0.3"/><rect x="371" y="205" width="3" height="1" opacity="0.3"/><rect x="397" y="208" width="2" height="1" opacity="0.2"/><rect x="408" y="379" width="1" height="1" opacity="0.4"/><rect x="404" y="330" width="2" height="1" opacity="0.2"/><rect x="392" y="523" width="2" height="1" opacity="0.3"/><rect x="408" y="324" width="3" height="1" opacity="0.4"/><rect x="374" y="443" width="2" height="1" opacity="0.3"/><rect x="357" y="423" width="2" height="1" opacity="0.3"/><rect x="368" y="287" width="2" height="1" opacity="0.3"/><rect x="377" y="212" width="1" height="1" opacity="0.4"/><rect x="393" y="400" width="1" height="1" opacity="0.2"/><rect x="361" y="324" width="2" height="1" opacity="0.4"/><rect x="414" y="185" width="3" height="1" opacity="0.3"/><rect x="393" y="223" width="2" height="1" opacity="0.4"/><rect x="359" y="385" width="1" height="1" opacity="0.2"/><rect x="403" y="485" width="3" height="1" opacity="0.2"/><rect x="358" y="434" width="1" height="1" opacity="0.3"/><rect x="375" y="269" width="3" height="1" opacity="0.2"/><rect x="383" y="128" width="2" height="1" opacity="0.2"/><rect x="411" y="336" width="3" height="1" opacity="0.3"/><rect x="369" y="128" width="1" height="1" opacity="0.4"/><rect x="354" y="333" width="2" height="1" opacity="0.2"/><rect x="365" y="170" width="1" height="1" opacity="0.2"/><rect x="379" y="454" width="2" height="1" opacity="0.4"/><rect x="384" y="441" width="2" height="1" opacity="0.2"/><rect x="378" y="475" width="3" height="1" opacity="0.4"/><rect x="374" y="188" width="1" height="1" opacity="0.4"/><rect x="378" y="160" width="2" height="1" opacity="0.3"/><rect x="354" y="355" width="2" height="1" opacity="0.4"/><rect x="409" y="389" width="2" height="1" opacity="0.2"/><rect x="393" y="179" width="3" height="1" opacity="0.3"/><rect x="385" y="350" width="2" height="1" opacity="0.2"/><rect x="363" y="174" width="2" height="1" opacity="0.4"/><rect x="376" y="251" width="2" height="1" opacity="0.3"/><rect x="414" y="250" width="1" height="1" opacity="0.3"/><rect x="353" y="238" width="1" height="1" opacity="0.3"/><rect x="370" y="392" width="3" height="1" opacity="0.3"/><rect x="364" y="287" width="2" height="1" opacity="0.4"/><rect x="407" y="442" width="3" height="1" opacity="0.4"/><rect x="406" y="265" width="3" height="1" opacity="0.3"/><rect x="361" y="273" width="1" height="1" opacity="0.3"/><rect x="392" y="177" width="2" height="1" opacity="0.4"/><rect x="396" y="153" width="3" height="1" opacity="0.3"/><rect x="382" y="324" width="3" height="1" opacity="0.3"/><rect x="362" y="465" width="3" height="1" opacity="0.3"/><rect x="411" y="176" width="1" height="1" opacity="0.3"/><rect x="385" y="138" width="1" height="1" opacity="0.2"/><rect x="363" y="183" width="3" height="1" opacity="0.3"/><rect x="414" y="224" width="1" height="1" opacity="0.4"/><rect x="415" y="378" width="1" height="1" opacity="0.2"/><rect x="393" y="149" width="2" height="1" opacity="0.3"/><rect x="395" y="160" width="2" height="1" opacity="0.4"/><rect x="413" y="283" width="2" height="1" opacity="0.2"/><rect x="409" y="163" width="2" height="1" opacity="0.3"/><rect x="378" y="381" width="3" height="1" opacity="0.4"/><rect x="364" y="492" width="3" height="1" opacity="0.2"/><rect x="378" y="125" width="1" height="1" opacity="0.2"/><rect x="374" y="289" width="3" height="1" opacity="0.3"/><rect x="382" y="139" width="1" height="1" opacity="0.4"/><rect x="382" y="143" width="2" height="1" opacity="0.4"/><rect x="406" y="347" width="2" height="1" opacity="0.3"/><rect x="384" y="456" width="3" height="1" opacity="0.3"/><rect x="435" y="242" width="1" height="1" opacity="0.2"/><rect x="412" y="342" width="1" height="1" opacity="0.3"/><rect x="357" y="343" width="2" height="1" opacity="0.2"/><rect x="367" y="374" width="2" height="1" opacity="0.3"/><rect x="413" y="299" width="2" height="1" opacity="0.4"/><rect x="398" y="248" width="2" height="1" opacity="0.4"/><rect x="380" y="428" width="1" height="1" opacity="0.3"/><rect x="374" y="218" width="1" height="1" opacity="0.4"/><rect x="353" y="410" width="2" height="1" opacity="0.3"/><rect x="361" y="446" width="2" height="1" opacity="0.3"/><rect x="377" y="189" width="3" height="1" opacity="0.3"/><rect x="383" y="373" width="1" height="1" opacity="0.4"/><rect x="409" y="166" width="2" height="1" opacity="0.2"/><rect x="437" y="216" width="2" height="1" opacity="0.4"/><rect x="367" y="290" width="1" height="1" opacity="0.4"/><rect x="382" y="355" width="1" height="1" opacity="0.3"/><rect x="388" y="200" width="2" height="1" opacity="0.2"/><rect x="357" y="238" width="3" height="1" opacity="0.3"/><rect x="399" y="358" width="2" height="1" opacity="0.3"/><rect x="390" y="277" width="1" height="1" opacity="0.2"/><rect x="380" y="128" width="2" height="1" opacity="0.2"/><rect x="382" y="218" width="1" height="1" opacity="0.4"/><rect x="360" y="439" width="2" height="1" opacity="0.4"/><rect x="405" y="272" width="1" height="1" opacity="0.3"/><rect x="389" y="308" width="2" height="1" opacity="0.4"/><rect x="383" y="281" width="2" height="1" opacity="0.4"/><rect x="388" y="458" width="2" height="1" opacity="0.2"/><rect x="406" y="417" width="2" height="1" opacity="0.3"/><rect x="377" y="300" width="2" height="1" opacity="0.3"/><rect x="413" y="422" width="2" height="1" opacity="0.3"/><rect x="360" y="146" width="2" height="1" opacity="0.2"/><rect x="384" y="387" width="2" height="1" opacity="0.4"/><rect x="395" y="165" width="3" height="1" opacity="0.3"/><rect x="413" y="391" width="2" height="1" opacity="0.4"/><rect x="402" y="299" width="3" height="1" opacity="0.2"/><rect x="391" y="317" width="3" height="1" opacity="0.4"/><rect x="393" y="420" width="2" height="1" opacity="0.3"/><rect x="376" y="228" width="2" height="1" opacity="0.4"/><rect x="354" y="321" width="1" height="1" opacity="0.3"/><rect x="406" y="382" width="1" height="1" opacity="0.4"/><rect x="399" y="207" width="2" height="1" opacity="0.3"/><rect x="376" y="251" width="2" height="1" opacity="0.3"/><rect x="368" y="178" width="2" height="1" opacity="0.4"/><rect x="407" y="300" width="1" height="1" opacity="0.4"/><rect x="402" y="516" width="2" height="1" opacity="0.4"/><rect x="412" y="424" width="2" height="1" opacity="0.4"/><rect x="390" y="488" width="2" height="1" opacity="0.3"/><rect x="362" y="441" width="1" height="1" opacity="0.4"/><rect x="362" y="301" width="2" height="1" opacity="0.2"/><rect x="368" y="180" width="1" height="1" opacity="0.4"/><rect x="383" y="369" width="2" height="1" opacity="0.3"/><rect x="421" y="297" width="1" height="1" opacity="0.2"/><rect x="354" y="189" width="1" height="1" opacity="0.4"/><rect x="355" y="140" width="2" height="1" opacity="0.2"/><rect x="379" y="330" width="3" height="1" opacity="0.3"/><rect x="359" y="149" width="1" height="1" opacity="0.4"/><rect x="371" y="251" width="2" height="1" opacity="0.3"/><rect x="364" y="500" width="2" height="1" opacity="0.4"/><rect x="411" y="198" width="3" height="1" opacity="0.2"/><rect x="413" y="376" width="2" height="1" opacity="0.4"/><rect x="372" y="324" width="2" height="1" opacity="0.3"/><rect x="388" y="250" width="1" height="1" opacity="0.2"/><rect x="400" y="524" width="2" height="1" opacity="0.3"/><rect x="385" y="429" width="3" height="1" opacity="0.4"/><rect x="393" y="127" width="2" height="1" opacity="0.2"/><rect x="395" y="154" width="3" height="1" opacity="0.3"/><rect x="377" y="373" width="1" height="1" opacity="0.3"/><rect x="393" y="503" width="3" height="1" opacity="0.3"/><rect x="372" y="469" width="2" height="1" opacity="0.4"/><rect x="369" y="248" width="2" height="1" opacity="0.2"/><rect x="399" y="186" width="1" height="1" opacity="0.3"/><rect x="360" y="244" width="1" height="1" opacity="0.4"/><rect x="394" y="177" width="2" height="1" opacity="0.4"/><rect x="363" y="314" width="2" height="1" opacity="0.2"/><rect x="384" y="140" width="1" height="1" opacity="0.2"/><rect x="358" y="185" width="2" height="1" opacity="0.2"/><rect x="365" y="475" width="3" height="1" opacity="0.4"/><rect x="410" y="195" width="3" height="1" opacity="0.4"/><rect x="411" y="286" width="2" height="1" opacity="0.3"/><rect x="361" y="126" width="2" height="1" opacity="0.2"/><rect x="367" y="284" width="3" height="1" opacity="0.2"/><rect x="404" y="165" width="1" height="1" opacity="0.4"/><rect x="359" y="526" width="1" height="1" opacity="0.2"/><rect x="384" y="168" width="2" height="1" opacity="0.3"/><rect x="368" y="283" width="1" height="1" opacity="0.3"/><rect x="392" y="440" width="2" height="1" opacity="0.4"/><rect x="403" y="379" width="1" height="1" opacity="0.3"/><rect x="428" y="461" width="2" height="1" opacity="0.4"/><rect x="357" y="536" width="2" height="1" opacity="0.2"/><rect x="353" y="161" width="1" height="1" opacity="0.3"/><rect x="404" y="519" width="2" height="1" opacity="0.3"/><rect x="364" y="457" width="2" height="1" opacity="0.2"/><rect x="412" y="309" width="3" height="1" opacity="0.3"/><rect x="364" y="467" width="2" height="1" opacity="0.3"/><rect x="389" y="535" width="2" height="1" opacity="0.4"/><rect x="391" y="323" width="2" height="1" opacity="0.4"/><rect x="393" y="311" width="2" height="1" opacity="0.4"/><rect x="409" y="534" width="3" height="1" opacity="0.3"/><rect x="397" y="253" width="2" height="1" opacity="0.4"/><rect x="409" y="493" width="1" height="1" opacity="0.2"/><rect x="415" y="341" width="3" height="1" opacity="0.3"/><rect x="413" y="371" width="2" height="1" opacity="0.3"/><rect x="428" y="525" width="1" height="1" opacity="0.3"/><rect x="404" y="386" width="1" height="1" opacity="0.4"/><rect x="389" y="187" width="1" height="1" opacity="0.3"/><rect x="367" y="537" width="2" height="1" opacity="0.3"/><rect x="377" y="123" width="3" height="1" opacity="0.2"/><rect x="398" y="383" width="3" height="1" opacity="0.2"/><rect x="367" y="407" width="2" height="1" opacity="0.4"/><rect x="386" y="353" width="2" height="1" opacity="0.4"/><rect x="398" y="223" width="2" height="1" opacity="0.3"/><rect x="381" y="473" width="3" height="1" opacity="0.3"/><rect x="356" y="533" width="3" height="1" opacity="0.4"/><rect x="352" y="275" width="1" height="1" opacity="0.3"/><rect x="365" y="251" width="1" height="1" opacity="0.2"/><rect x="396" y="159" width="2" height="1" opacity="0.4"/><rect x="413" y="152" width="2" height="1" opacity="0.2"/><rect x="389" y="531" width="1" height="1" opacity="0.3"/><rect x="380" y="261" width="2" height="1" opacity="0.3"/><rect x="356" y="160" width="1" height="1" opacity="0.4"/><rect x="398" y="252" width="2" height="1" opacity="0.2"/><rect x="387" y="506" width="1" height="1" opacity="0.2"/><rect x="401" y="426" width="3" height="1" opacity="0.2"/><rect x="412" y="256" width="1" height="1" opacity="0.2"/><rect x="369" y="136" width="2" height="1" opacity="0.3"/><rect x="396" y="203" width="3" height="1" opacity="0.2"/><rect x="378" y="220" width="2" height="1" opacity="0.4"/><rect x="363" y="311" width="2" height="1" opacity="0.2"/><rect x="412" y="135" width="2" height="1" opacity="0.3"/><rect x="375" y="299" width="2" height="1" opacity="0.2"/><rect x="385" y="427" width="3" height="1" opacity="0.2"/><rect x="404" y="165" width="2" height="1" opacity="0.2"/><rect x="389" y="182" width="2" height="1" opacity="0.2"/><rect x="380" y="469" width="2" height="1" opacity="0.3"/><rect x="386" y="176" width="3" height="1" opacity="0.3"/><rect x="380" y="391" width="3" height="1" opacity="0.2"/><rect x="376" y="416" width="3" height="1" opacity="0.3"/><rect x="355" y="478" width="2" height="1" opacity="0.3"/><rect x="381" y="441" width="3" height="1" opacity="0.2"/><rect x="400" y="169" width="1" height="1" opacity="0.4"/><rect x="393" y="290" width="1" height="1" opacity="0.3"/><rect x="375" y="410" width="2" height="1" opacity="0.2"/><rect x="387" y="397" width="2" height="1" opacity="0.3"/><rect x="423" y="198" width="1" height="1" opacity="0.3"/><rect x="371" y="138" width="1" height="1" opacity="0.2"/></g>
<path d="M525.6 121 L524.6 250 L524.0 300 L523.6 400 L522.6 540 L545.9 540 L545.9 121Z" fill="#49ffad"/>
<rect x="523.5" y="121.0" width="1.5" height="3.0" fill="#70ecc8"/>
<rect x="523.6" y="128.0" width="1.5" height="2.0" fill="#40d8d8"/>
<rect x="523.8" y="131.0" width="1.5" height="2.0" fill="#40d8d8"/>
<rect x="523.5" y="137.0" width="1.5" height="1.0" fill="#48e0d0"/>
<rect x="523.9" y="140.0" width="1.5" height="2.0" fill="#40d8d8"/>
<rect x="523.5" y="147.0" width="1.5" height="1.0" fill="#70ecc8"/>
<rect x="523.8" y="150.0" width="1.5" height="3.0" fill="#70ecc8"/>
<rect x="523.4" y="154.0" width="1.5" height="1.0" fill="#70ecc8"/>
<rect x="523.3" y="159.0" width="1.5" height="1.0" fill="#48e0d0"/>
<rect x="523.3" y="164.0" width="1.5" height="3.0" fill="#70ecc8"/>
<rect x="523.2" y="169.0" width="1.5" height="1.0" fill="#48e0d0"/>
<rect x="523.1" y="174.0" width="1.5" height="2.0" fill="#40d8d8"/>
<rect x="523.3" y="179.0" width="1.5" height="3.0" fill="#40d8d8"/>
<rect x="523.3" y="186.0" width="1.5" height="2.0" fill="#70ecc8"/>
<rect x="522.9" y="191.0" width="1.5" height="3.0" fill="#48e0d0"/>
<rect x="523.6" y="196.0" width="1.5" height="2.0" fill="#40d8d8"/>
<rect x="523.1" y="202.0" width="1.5" height="3.0" fill="#70ecc8"/>
<rect x="523.0" y="206.0" width="1.5" height="3.0" fill="#40d8d8"/>
<rect x="523.3" y="212.0" width="1.5" height="1.0" fill="#40d8d8"/>
<rect x="523.0" y="215.0" width="1.5" height="2.0" fill="#40d8d8"/>
<rect x="523.2" y="218.0" width="1.5" height="2.0" fill="#40d8d8"/>
<rect x="523.3" y="225.0" width="1.5" height="1.0" fill="#40d8d8"/>
<rect x="523.2" y="229.0" width="1.5" height="2.0" fill="#48e0d0"/>
<rect x="522.6" y="232.0" width="1.5" height="2.0" fill="#40d8d8"/>
<rect x="522.9" y="239.0" width="1.5" height="2.0" fill="#70ecc8"/>
<rect x="523.0" y="246.0" width="1.5" height="1.0" fill="#70ecc8"/>
<rect x="522.9" y="248.0" width="1.5" height="2.0" fill="#48e0d0"/>
<rect x="522.6" y="255.0" width="1.5" height="1.0" fill="#40d8d8"/>
<rect x="529.3" y="121.4" width="1.0" height="2.0" fill="#40b8f0"/>
<rect x="529.2" y="129.4" width="1.0" height="2.0" fill="#58c8e8"/>
<rect x="529.2" y="134.4" width="1.0" height="1.0" fill="#58c8e8"/>
<rect x="529.2" y="138.4" width="1.0" height="1.0" fill="#60d8e0"/>
<rect x="529.1" y="143.4" width="1.0" height="1.0" fill="#40b8f0"/>
<rect x="529.1" y="150.4" width="1.0" height="1.0" fill="#40b8f0"/>
<rect x="529.0" y="153.4" width="1.0" height="1.0" fill="#58c8e8"/>
<rect x="529.0" y="158.4" width="1.0" height="1.0" fill="#58c8e8"/>
<rect x="528.9" y="164.4" width="1.0" height="2.0" fill="#40b8f0"/>
<rect x="528.9" y="172.4" width="1.0" height="2.0" fill="#60d8e0"/>
<rect x="528.8" y="179.4" width="1.0" height="1.0" fill="#40b8f0"/>
<rect x="528.8" y="183.4" width="1.0" height="1.0" fill="#58c8e8"/>
<rect x="528.8" y="186.4" width="1.0" height="2.0" fill="#58c8e8"/>
<rect x="528.7" y="194.4" width="1.0" height="1.0" fill="#58c8e8"/>
<rect x="528.7" y="198.4" width="1.0" height="2.0" fill="#60d8e0"/>
<rect x="528.6" y="202.4" width="1.0" height="1.0" fill="#60d8e0"/>
<rect x="528.6" y="209.4" width="1.0" height="1.0" fill="#60d8e0"/>
<rect x="528.5" y="216.4" width="1.0" height="1.0" fill="#40b8f0"/>
<rect x="528.5" y="223.4" width="1.0" height="1.0" fill="#60d8e0"/>
<rect x="528.4" y="227.4" width="1.0" height="1.0" fill="#58c8e8"/>
<rect x="528.4" y="233.4" width="1.0" height="2.0" fill="#60d8e0"/>
<rect x="528.3" y="238.4" width="1.0" height="2.0" fill="#58c8e8"/>
<rect x="528.3" y="246.4" width="1.0" height="2.0" fill="#58c8e8"/>
<rect x="528.3" y="250.4" width="1.0" height="1.0" fill="#58c8e8"/>
<rect x="528.2" y="256.4" width="1.0" height="2.0" fill="#40b8f0"/>
<rect x="528.2" y="262.4" width="1.0" height="1.0" fill="#40b8f0"/>
<rect x="528.1" y="269.4" width="1.0" height="2.0" fill="#60d8e0"/>
<rect x="528.0" y="276.4" width="1.0" height="1.0" fill="#58c8e8"/>
<rect x="528.0" y="279.4" width="1.0" height="1.0" fill="#58c8e8"/>
<rect x="528.0" y="285.4" width="1.0" height="2.0" fill="#40b8f0"/>
<rect x="527.9" y="291.4" width="1.0" height="1.0" fill="#58c8e8"/>
<rect x="527.9" y="295.4" width="1.0" height="1.0" fill="#60d8e0"/>
<rect x="527.8" y="301.4" width="1.0" height="2.0" fill="#60d8e0"/>
<rect x="527.8" y="306.4" width="1.0" height="1.0" fill="#60d8e0"/>
<rect x="527.8" y="311.4" width="1.0" height="2.0" fill="#60d8e0"/>
<rect x="527.7" y="318.4" width="1.0" height="2.0" fill="#60d8e0"/>
<rect x="527.7" y="323.4" width="1.0" height="1.0" fill="#60d8e0"/>
<rect x="527.6" y="329.4" width="1.0" height="2.0" fill="#40b8f0"/>
<rect x="527.5" y="337.4" width="1.0" height="1.0" fill="#60d8e0"/>
<rect x="527.5" y="340.4" width="1.0" height="1.0" fill="#60d8e0"/>
<rect x="527.5" y="346.4" width="1.0" height="2.0" fill="#60d8e0"/>
<rect x="527.4" y="352.4" width="1.0" height="1.0" fill="#60d8e0"/>
<rect x="527.4" y="358.4" width="1.0" height="1.0" fill="#58c8e8"/>
<rect x="527.3" y="361.4" width="1.0" height="2.0" fill="#40b8f0"/>
<rect x="527.3" y="368.4" width="1.0" height="2.0" fill="#40b8f0"/>
<rect x="527.3" y="373.4" width="1.0" height="1.0" fill="#60d8e0"/>
<rect x="527.2" y="379.4" width="1.0" height="1.0" fill="#60d8e0"/>
<rect x="527.2" y="384.4" width="1.0" height="1.0" fill="#58c8e8"/>
<rect x="527.1" y="391.4" width="1.0" height="1.0" fill="#58c8e8"/>
<rect x="527.0" y="398.4" width="1.0" height="2.0" fill="#40b8f0"/>
<rect x="527.0" y="406.4" width="1.0" height="1.0" fill="#60d8e0"/>
<rect x="526.9" y="413.4" width="1.0" height="2.0" fill="#60d8e0"/>
<rect x="526.9" y="418.4" width="1.0" height="2.0" fill="#58c8e8"/>
<rect x="526.9" y="422.4" width="1.0" height="1.0" fill="#40b8f0"/>
<rect x="526.8" y="427.4" width="1.0" height="1.0" fill="#40b8f0"/>
<rect x="526.8" y="433.4" width="1.0" height="1.0" fill="#60d8e0"/>
<rect x="526.7" y="436.4" width="1.0" height="1.0" fill="#60d8e0"/>
<rect x="526.7" y="442.4" width="1.0" height="2.0" fill="#58c8e8"/>
<rect x="526.7" y="447.4" width="1.0" height="1.0" fill="#58c8e8"/>
<rect x="526.6" y="451.4" width="1.0" height="2.0" fill="#40b8f0"/>
<rect x="526.6" y="459.4" width="1.0" height="1.0" fill="#60d8e0"/>
<rect x="526.5" y="464.4" width="1.0" height="1.0" fill="#58c8e8"/>
<rect x="526.5" y="471.4" width="1.0" height="1.0" fill="#40b8f0"/>
<rect x="526.4" y="476.4" width="1.0" height="2.0" fill="#60d8e0"/>
<rect x="526.4" y="483.4" width="1.0" height="1.0" fill="#40b8f0"/>
<rect x="526.3" y="490.4" width="1.0" height="1.0" fill="#58c8e8"/>
<rect x="526.3" y="496.4" width="1.0" height="1.0" fill="#58c8e8"/>
<rect x="526.2" y="501.4" width="1.0" height="1.0" fill="#40b8f0"/>
<rect x="526.2" y="506.4" width="1.0" height="1.0" fill="#58c8e8"/>
<rect x="526.1" y="513.4" width="1.0" height="1.0" fill="#60d8e0"/>
<rect x="526.1" y="519.4" width="1.0" height="1.0" fill="#40b8f0"/>
<rect x="526.0" y="524.4" width="1.0" height="1.0" fill="#58c8e8"/>
<rect x="526.0" y="527.4" width="1.0" height="1.0" fill="#60d8e0"/>
<rect x="526.0" y="532.4" width="1.0" height="2.0" fill="#40b8f0"/>
<rect x="525.9" y="537.4" width="1.0" height="1.0" fill="#40b8f0"/>
<rect x="535.5" y="123.1" width="1.0" height="1.0" fill="#60c8f0"/>
<rect x="535.5" y="126.1" width="1.0" height="1.0" fill="#4ab0f8"/>
<rect x="535.4" y="129.1" width="1.0" height="1.0" fill="#60c8f0"/>
<rect x="535.4" y="133.1" width="1.0" height="2.0" fill="#3aa0ff"/>
<rect x="535.4" y="138.1" width="1.0" height="1.0" fill="#4ab0f8"/>
<rect x="535.3" y="144.1" width="1.0" height="1.0" fill="#3aa0ff"/>
<rect x="535.3" y="148.1" width="1.0" height="1.0" fill="#60c8f0"/>
<rect x="535.2" y="153.1" width="1.0" height="1.0" fill="#60c8f0"/>
<rect x="535.2" y="157.1" width="1.0" height="1.0" fill="#3aa0ff"/>
<rect x="535.1" y="162.1" width="1.0" height="1.0" fill="#4ab0f8"/>
<rect x="535.1" y="166.1" width="1.0" height="2.0" fill="#60c8f0"/>
<rect x="535.1" y="171.1" width="1.0" height="1.0" fill="#60c8f0"/>
<rect x="535.0" y="176.1" width="1.0" height="1.0" fill="#3aa0ff"/>
<rect x="535.0" y="179.1" width="1.0" height="2.0" fill="#4ab0f8"/>
<rect x="534.9" y="186.1" width="1.0" height="1.0" fill="#4ab0f8"/>
<rect x="534.9" y="191.1" width="1.0" height="1.0" fill="#60c8f0"/>
<rect x="534.9" y="195.1" width="1.0" height="1.0" fill="#4ab0f8"/>
<rect x="534.8" y="199.1" width="1.0" height="1.0" fill="#60c8f0"/>
<rect x="534.8" y="204.1" width="1.0" height="2.0" fill="#4ab0f8"/>
<rect x="534.7" y="209.1" width="1.0" height="2.0" fill="#60c8f0"/>
<rect x="534.7" y="214.1" width="1.0" height="1.0" fill="#3aa0ff"/>
<rect x="534.7" y="219.1" width="1.0" height="2.0" fill="#4ab0f8"/>
<rect x="534.6" y="223.1" width="1.0" height="1.0" fill="#4ab0f8"/>
<rect x="534.6" y="227.1" width="1.0" height="1.0" fill="#4ab0f8"/>
<rect x="534.6" y="230.1" width="1.0" height="1.0" fill="#4ab0f8"/>
<rect x="534.5" y="234.1" width="1.0" height="2.0" fill="#3aa0ff"/>
<rect x="534.5" y="239.1" width="1.0" height="2.0" fill="#4ab0f8"/>
<rect x="534.4" y="244.1" width="1.0" height="1.0" fill="#60c8f0"/>
<rect x="534.4" y="247.1" width="1.0" height="1.0" fill="#4ab0f8"/>
<rect x="534.4" y="250.1" width="1.0" height="1.0" fill="#4ab0f8"/>
<rect x="534.4" y="254.1" width="1.0" height="2.0" fill="#60c8f0"/>
<rect x="534.3" y="260.1" width="1.0" height="2.0" fill="#3aa0ff"/>
<rect x="534.3" y="265.1" width="1.0" height="1.0" fill="#60c8f0"/>
<rect x="534.2" y="268.1" width="1.0" height="1.0" fill="#3aa0ff"/>
<rect x="534.2" y="273.1" width="1.0" height="1.0" fill="#3aa0ff"/>
<rect x="534.2" y="277.1" width="1.0" height="1.0" fill="#4ab0f8"/>
<rect x="534.1" y="282.1" width="1.0" height="1.0" fill="#3aa0ff"/>
<rect x="534.1" y="285.1" width="1.0" height="1.0" fill="#3aa0ff"/>
<rect x="534.0" y="290.1" width="1.0" height="1.0" fill="#4ab0f8"/>
<rect x="534.0" y="294.1" width="1.0" height="2.0" fill="#4ab0f8"/>
<rect x="534.0" y="299.1" width="1.0" height="2.0" fill="#60c8f0"/>
<rect x="533.9" y="304.1" width="1.0" height="1.0" fill="#3aa0ff"/>
<rect x="533.9" y="307.1" width="1.0" height="1.0" fill="#60c8f0"/>
<rect x="533.9" y="311.1" width="1.0" height="2.0" fill="#4ab0f8"/>
<rect x="533.8" y="316.1" width="1.0" height="2.0" fill="#3aa0ff"/>
<rect x="533.8" y="321.1" width="1.0" height="2.0" fill="#3aa0ff"/>
<rect x="533.7" y="328.1" width="1.0" height="1.0" fill="#4ab0f8"/>
<rect x="533.7" y="334.1" width="1.0" height="1.0" fill="#3aa0ff"/>
<rect x="533.6" y="338.1" width="1.0" height="2.0" fill="#3aa0ff"/>
<rect x="533.6" y="343.1" width="1.0" height="2.0" fill="#60c8f0"/>
<rect x="533.5" y="348.1" width="1.0" height="2.0" fill="#60c8f0"/>
<rect x="533.5" y="352.1" width="1.0" height="1.0" fill="#3aa0ff"/>
<rect x="533.5" y="358.1" width="1.0" height="1.0" fill="#60c8f0"/>
<rect x="533.4" y="362.1" width="1.0" height="1.0" fill="#60c8f0"/>
<rect x="533.4" y="366.1" width="1.0" height="1.0" fill="#4ab0f8"/>
<rect x="533.4" y="370.1" width="1.0" height="1.0" fill="#60c8f0"/>
<rect x="533.3" y="376.1" width="1.0" height="1.0" fill="#3aa0ff"/>
<rect x="533.3" y="380.1" width="1.0" height="1.0" fill="#3aa0ff"/>
<rect x="533.2" y="384.1" width="1.0" height="1.0" fill="#4ab0f8"/>
<rect x="533.2" y="388.1" width="1.0" height="1.0" fill="#3aa0ff"/>
<rect x="533.2" y="393.1" width="1.0" height="1.0" fill="#3aa0ff"/>
<rect x="533.1" y="397.1" width="1.0" height="1.0" fill="#60c8f0"/>
<rect x="533.1" y="400.1" width="1.0" height="1.0" fill="#4ab0f8"/>
<rect x="533.1" y="403.1" width="1.0" height="1.0" fill="#3aa0ff"/>
<rect x="533.0" y="408.1" width="1.0" height="2.0" fill="#3aa0ff"/>
<rect x="533.0" y="412.1" width="1.0" height="1.0" fill="#60c8f0"/>
<rect x="533.0" y="417.1" width="1.0" height="2.0" fill="#60c8f0"/>
<rect x="532.9" y="423.1" width="1.0" height="1.0" fill="#3aa0ff"/>
<rect x="532.9" y="427.1" width="1.0" height="1.0" fill="#3aa0ff"/>
<rect x="532.8" y="431.1" width="1.0" height="1.0" fill="#4ab0f8"/>
<rect x="532.8" y="435.1" width="1.0" height="1.0" fill="#60c8f0"/>
<rect x="532.8" y="439.1" width="1.0" height="1.0" fill="#60c8f0"/>
<rect x="532.7" y="443.1" width="1.0" height="1.0" fill="#60c8f0"/>
<rect x="532.7" y="447.1" width="1.0" height="1.0" fill="#3aa0ff"/>
<rect x="532.7" y="451.1" width="1.0" height="1.0" fill="#3aa0ff"/>
<rect x="532.6" y="454.1" width="1.0" height="1.0" fill="#4ab0f8"/>
<rect x="532.6" y="459.1" width="1.0" height="2.0" fill="#60c8f0"/>
<rect x="532.6" y="463.1" width="1.0" height="1.0" fill="#4ab0f8"/>
<rect x="532.5" y="467.1" width="1.0" height="1.0" fill="#3aa0ff"/>
<rect x="532.5" y="471.1" width="1.0" height="2.0" fill="#4ab0f8"/>
<rect x="532.4" y="476.1" width="1.0" height="2.0" fill="#3aa0ff"/>
<rect x="532.4" y="483.1" width="1.0" height="1.0" fill="#3aa0ff"/>
<rect x="532.4" y="487.1" width="1.0" height="1.0" fill="#60c8f0"/>
<rect x="532.3" y="493.1" width="1.0" height="1.0" fill="#60c8f0"/>
<rect x="532.3" y="496.1" width="1.0" height="1.0" fill="#3aa0ff"/>
<rect x="532.2" y="500.1" width="1.0" height="1.0" fill="#4ab0f8"/>
<rect x="532.2" y="506.1" width="1.0" height="1.0" fill="#3aa0ff"/>
<rect x="532.2" y="510.1" width="1.0" height="1.0" fill="#60c8f0"/>
<rect x="532.1" y="515.1" width="1.0" height="1.0" fill="#4ab0f8"/>
<rect x="532.1" y="519.1" width="1.0" height="1.0" fill="#60c8f0"/>
<rect x="532.1" y="522.1" width="1.0" height="1.0" fill="#4ab0f8"/>
<rect x="532.0" y="526.1" width="1.0" height="2.0" fill="#60c8f0"/>
<rect x="532.0" y="530.1" width="1.0" height="1.0" fill="#60c8f0"/>
<rect x="531.9" y="535.1" width="1.0" height="1.0" fill="#3aa0ff"/>
<rect x="541.3" y="122.0" width="1.0" height="1.0" fill="#3a9cff"/>
<rect x="541.3" y="126.0" width="1.0" height="2.0" fill="#20b0ff"/>
<rect x="541.2" y="132.0" width="1.0" height="2.0" fill="#20b0ff"/>
<rect x="541.2" y="137.0" width="1.0" height="1.0" fill="#60d0f0"/>
<rect x="541.2" y="140.0" width="1.0" height="1.0" fill="#3a9cff"/>
<rect x="541.1" y="144.0" width="1.0" height="1.0" fill="#20b0ff"/>
<rect x="541.1" y="146.0" width="1.0" height="1.0" fill="#60d0f0"/>
<rect x="541.1" y="148.0" width="1.0" height="1.0" fill="#60d0f0"/>
<rect x="541.1" y="153.0" width="1.0" height="1.0" fill="#60d0f0"/>
<rect x="541.0" y="157.0" width="1.0" height="2.0" fill="#3a9cff"/>
<rect x="541.0" y="162.0" width="1.0" height="1.0" fill="#60d0f0"/>
<rect x="540.9" y="167.0" width="1.0" height="1.0" fill="#60d0f0"/>
<rect x="540.9" y="170.0" width="1.0" height="2.0" fill="#60d0f0"/>
<rect x="540.9" y="176.0" width="1.0" height="1.0" fill="#20b0ff"/>
<rect x="540.9" y="178.0" width="1.0" height="2.0" fill="#60d0f0"/>
<rect x="540.8" y="181.0" width="1.0" height="1.0" fill="#20b0ff"/>
<rect x="540.8" y="185.0" width="1.0" height="1.0" fill="#3a9cff"/>
<rect x="540.8" y="188.0" width="1.0" height="1.0" fill="#20b0ff"/>
<rect x="540.8" y="192.0" width="1.0" height="1.0" fill="#3a9cff"/>
<rect x="540.7" y="194.0" width="1.0" height="1.0" fill="#60d0f0"/>
<rect x="540.7" y="198.0" width="1.0" height="1.0" fill="#3a9cff"/>
<rect x="540.7" y="203.0" width="1.0" height="2.0" fill="#60d0f0"/>
<rect x="540.6" y="207.0" width="1.0" height="1.0" fill="#20b0ff"/>
<rect x="540.6" y="209.0" width="1.0" height="2.0" fill="#3a9cff"/>
<rect x="540.6" y="213.0" width="1.0" height="2.0" fill="#3a9cff"/>
<rect x="540.6" y="216.0" width="1.0" height="1.0" fill="#60d0f0"/>
<rect x="540.6" y="219.0" width="1.0" height="1.0" fill="#20b0ff"/>
<rect x="540.5" y="223.0" width="1.0" height="2.0" fill="#60d0f0"/>
<rect x="540.5" y="226.0" width="1.0" height="2.0" fill="#60d0f0"/>
<rect x="540.5" y="229.0" width="1.0" height="1.0" fill="#20b0ff"/>
<rect x="540.4" y="234.0" width="1.0" height="2.0" fill="#3a9cff"/>
<rect x="540.4" y="238.0" width="1.0" height="1.0" fill="#3a9cff"/>
<rect x="540.4" y="243.0" width="1.0" height="1.0" fill="#20b0ff"/>
<rect x="540.3" y="247.0" width="1.0" height="2.0" fill="#20b0ff"/>
<rect x="540.3" y="252.0" width="1.0" height="2.0" fill="#3a9cff"/>
<rect x="540.3" y="255.0" width="1.0" height="1.0" fill="#60d0f0"/>
<rect x="540.3" y="258.0" width="1.0" height="1.0" fill="#20b0ff"/>
<rect x="540.2" y="263.0" width="1.0" height="1.0" fill="#60d0f0"/>
<rect x="540.2" y="267.0" width="1.0" height="1.0" fill="#60d0f0"/>
<rect x="540.2" y="269.0" width="1.0" height="2.0" fill="#60d0f0"/>
<rect x="540.1" y="273.0" width="1.0" height="2.0" fill="#60d0f0"/>
<rect x="540.1" y="276.0" width="1.0" height="2.0" fill="#20b0ff"/>
<rect x="540.1" y="282.0" width="1.0" height="1.0" fill="#60d0f0"/>
<rect x="540.0" y="287.0" width="1.0" height="1.0" fill="#3a9cff"/>
<rect x="540.0" y="292.0" width="1.0" height="2.0" fill="#3a9cff"/>
<rect x="540.0" y="297.0" width="1.0" height="1.0" fill="#60d0f0"/>
<rect x="539.9" y="302.0" width="1.0" height="1.0" fill="#60d0f0"/>
<rect x="539.9" y="306.0" width="1.0" height="2.0" fill="#20b0ff"/>
<rect x="539.9" y="310.0" width="1.0" height="1.0" fill="#20b0ff"/>
<rect x="539.8" y="312.0" width="1.0" height="1.0" fill="#20b0ff"/>
<rect x="539.8" y="314.0" width="1.0" height="1.0" fill="#3a9cff"/>
<rect x="539.8" y="317.0" width="1.0" height="1.0" fill="#3a9cff"/>
<rect x="539.8" y="319.0" width="1.0" height="1.0" fill="#20b0ff"/>
<rect x="539.8" y="322.0" width="1.0" height="2.0" fill="#3a9cff"/>
<rect x="539.7" y="328.0" width="1.0" height="2.0" fill="#3a9cff"/>
<rect x="539.7" y="333.0" width="1.0" height="2.0" fill="#60d0f0"/>
<rect x="539.6" y="338.0" width="1.0" height="1.0" fill="#60d0f0"/>
<rect x="539.6" y="341.0" width="1.0" height="2.0" fill="#3a9cff"/>
<rect x="539.6" y="346.0" width="1.0" height="2.0" fill="#20b0ff"/>
<rect x="539.5" y="351.0" width="1.0" height="1.0" fill="#3a9cff"/>
<rect x="539.5" y="354.0" width="1.0" height="1.0" fill="#20b0ff"/>
<rect x="539.5" y="358.0" width="1.0" height="1.0" fill="#20b0ff"/>
<rect x="539.5" y="362.0" width="1.0" height="1.0" fill="#3a9cff"/>
<rect x="539.4" y="366.0" width="1.0" height="1.0" fill="#60d0f0"/>
<rect x="539.4" y="370.0" width="1.0" height="2.0" fill="#60d0f0"/>
<rect x="539.4" y="375.0" width="1.0" height="1.0" fill="#3a9cff"/>
<rect x="539.3" y="379.0" width="1.0" height="1.0" fill="#60d0f0"/>
<rect x="539.3" y="383.0" width="1.0" height="1.0" fill="#60d0f0"/>
<rect x="539.3" y="386.0" width="1.0" height="1.0" fill="#3a9cff"/>
<rect x="539.3" y="388.0" width="1.0" height="1.0" fill="#20b0ff"/>
<rect x="539.2" y="392.0" width="1.0" height="1.0" fill="#20b0ff"/>
<rect x="539.2" y="395.0" width="1.0" height="1.0" fill="#60d0f0"/>
<rect x="539.2" y="398.0" width="1.0" height="1.0" fill="#3a9cff"/>
<rect x="539.1" y="403.0" width="1.0" height="2.0" fill="#20b0ff"/>
<rect x="539.1" y="407.0" width="1.0" height="1.0" fill="#3a9cff"/>
<rect x="539.1" y="410.0" width="1.0" height="1.0" fill="#20b0ff"/>
<rect x="539.1" y="413.0" width="1.0" height="2.0" fill="#60d0f0"/>
<rect x="539.0" y="418.0" width="1.0" height="2.0" fill="#60d0f0"/>
<rect x="539.0" y="424.0" width="1.0" height="1.0" fill="#60d0f0"/>
<rect x="539.0" y="428.0" width="1.0" height="2.0" fill="#60d0f0"/>
<rect x="538.9" y="433.0" width="1.0" height="1.0" fill="#20b0ff"/>
<rect x="538.9" y="436.0" width="1.0" height="1.0" fill="#20b0ff"/>
<rect x="538.9" y="440.0" width="1.0" height="1.0" fill="#3a9cff"/>
<rect x="538.8" y="445.0" width="1.0" height="2.0" fill="#3a9cff"/>
<rect x="538.8" y="449.0" width="1.0" height="2.0" fill="#60d0f0"/>
<rect x="538.8" y="454.0" width="1.0" height="1.0" fill="#20b0ff"/>
<rect x="538.7" y="457.0" width="1.0" height="2.0" fill="#3a9cff"/>
<rect x="538.7" y="460.0" width="1.0" height="1.0" fill="#3a9cff"/>
<rect x="538.7" y="462.0" width="1.0" height="2.0" fill="#20b0ff"/>
<rect x="538.7" y="467.0" width="1.0" height="2.0" fill="#60d0f0"/>
<rect x="538.6" y="473.0" width="1.0" height="1.0" fill="#60d0f0"/>
<rect x="538.6" y="478.0" width="1.0" height="1.0" fill="#20b0ff"/>
<rect x="538.5" y="482.0" width="1.0" height="1.0" fill="#60d0f0"/>
<rect x="538.5" y="486.0" width="1.0" height="1.0" fill="#20b0ff"/>
<rect x="538.5" y="491.0" width="1.0" height="1.0" fill="#20b0ff"/>
<rect x="538.5" y="494.0" width="1.0" height="1.0" fill="#60d0f0"/>
<rect x="538.4" y="499.0" width="1.0" height="1.0" fill="#3a9cff"/>
<rect x="538.4" y="501.0" width="1.0" height="1.0" fill="#3a9cff"/>
<rect x="538.4" y="505.0" width="1.0" height="1.0" fill="#3a9cff"/>
<rect x="538.3" y="509.0" width="1.0" height="2.0" fill="#60d0f0"/>
<rect x="538.3" y="513.0" width="1.0" height="2.0" fill="#60d0f0"/>
<rect x="538.3" y="519.0" width="1.0" height="1.0" fill="#60d0f0"/>
<rect x="538.2" y="523.0" width="1.0" height="1.0" fill="#20b0ff"/>
<rect x="538.2" y="525.0" width="1.0" height="1.0" fill="#3a9cff"/>
<rect x="538.2" y="527.0" width="1.0" height="1.0" fill="#3a9cff"/>
<rect x="538.2" y="529.0" width="1.0" height="1.0" fill="#60d0f0"/>
<rect x="538.1" y="534.0" width="1.0" height="2.0" fill="#20b0ff"/>
<rect x="543.3" y="123.3" width="1.0" height="2.0" fill="#30b8ff"/>
<rect x="543.2" y="133.3" width="1.0" height="1.0" fill="#60d0f0"/>
<rect x="543.2" y="142.3" width="1.0" height="1.0" fill="#60d0f0"/>
<rect x="543.2" y="147.3" width="1.0" height="2.0" fill="#30b8ff"/>
<rect x="543.1" y="152.3" width="1.0" height="1.0" fill="#60d0f0"/>
<rect x="543.1" y="159.3" width="1.0" height="1.0" fill="#60d0f0"/>
<rect x="543.1" y="164.3" width="1.0" height="1.0" fill="#60d0f0"/>
<rect x="543.0" y="171.3" width="1.0" height="1.0" fill="#60d0f0"/>
<rect x="543.0" y="178.3" width="1.0" height="1.0" fill="#30b8ff"/>
<rect x="543.0" y="187.3" width="1.0" height="2.0" fill="#30b8ff"/>
<rect x="542.9" y="193.3" width="1.0" height="1.0" fill="#30b8ff"/>
<rect x="542.9" y="202.3" width="1.0" height="2.0" fill="#60d0f0"/>
<rect x="542.8" y="212.3" width="1.0" height="1.0" fill="#60d0f0"/>
<rect x="542.8" y="217.3" width="1.0" height="1.0" fill="#60d0f0"/>
<rect x="542.8" y="221.3" width="1.0" height="2.0" fill="#30b8ff"/>
<rect x="542.7" y="227.3" width="1.0" height="1.0" fill="#30b8ff"/>
<rect x="542.7" y="232.3" width="1.0" height="1.0" fill="#60d0f0"/>
<rect x="542.7" y="239.3" width="1.0" height="1.0" fill="#60d0f0"/>
<rect x="542.7" y="244.3" width="1.0" height="2.0" fill="#60d0f0"/>
<rect x="542.6" y="250.3" width="1.0" height="2.0" fill="#60d0f0"/>
<rect x="542.6" y="256.3" width="1.0" height="2.0" fill="#60d0f0"/>
<rect x="542.6" y="262.3" width="1.0" height="2.0" fill="#30b8ff"/>
<rect x="542.5" y="268.3" width="1.0" height="2.0" fill="#60d0f0"/>
<rect x="542.5" y="276.3" width="1.0" height="1.0" fill="#30b8ff"/>
<rect x="542.5" y="280.3" width="1.0" height="1.0" fill="#60d0f0"/>
<rect x="542.4" y="285.3" width="1.0" height="1.0" fill="#60d0f0"/>
<rect x="542.4" y="290.3" width="1.0" height="1.0" fill="#30b8ff"/>
<rect x="542.4" y="294.3" width="1.0" height="2.0" fill="#30b8ff"/>
<rect x="542.4" y="300.3" width="1.0" height="1.0" fill="#60d0f0"/>
<rect x="542.3" y="307.3" width="1.0" height="1.0" fill="#30b8ff"/>
<rect x="542.3" y="312.3" width="1.0" height="1.0" fill="#60d0f0"/>
<rect x="542.2" y="321.3" width="1.0" height="1.0" fill="#60d0f0"/>
<rect x="542.2" y="325.3" width="1.0" height="1.0" fill="#30b8ff"/>
<rect x="542.2" y="332.3" width="1.0" height="1.0" fill="#30b8ff"/>
<rect x="542.2" y="336.3" width="1.0" height="1.0" fill="#30b8ff"/>
<rect x="542.1" y="340.3" width="1.0" height="1.0" fill="#30b8ff"/>
<rect x="542.1" y="349.3" width="1.0" height="1.0" fill="#60d0f0"/>
<rect x="542.1" y="353.3" width="1.0" height="1.0" fill="#30b8ff"/>
<rect x="542.1" y="357.3" width="1.0" height="1.0" fill="#30b8ff"/>
<rect x="542.0" y="362.3" width="1.0" height="2.0" fill="#60d0f0"/>
<rect x="542.0" y="370.3" width="1.0" height="2.0" fill="#30b8ff"/>
<rect x="542.0" y="375.3" width="1.0" height="1.0" fill="#60d0f0"/>
<rect x="541.9" y="380.3" width="1.0" height="1.0" fill="#60d0f0"/>
<rect x="541.9" y="384.3" width="1.0" height="1.0" fill="#30b8ff"/>
<rect x="541.9" y="393.3" width="1.0" height="1.0" fill="#60d0f0"/>
<rect x="541.8" y="397.3" width="1.0" height="1.0" fill="#60d0f0"/>
<rect x="541.8" y="402.3" width="1.0" height="2.0" fill="#30b8ff"/>
<rect x="541.8" y="407.3" width="1.0" height="1.0" fill="#60d0f0"/>
<rect x="541.7" y="416.3" width="1.0" height="1.0" fill="#30b8ff"/>
<rect x="541.7" y="425.3" width="1.0" height="1.0" fill="#60d0f0"/>
<rect x="541.7" y="432.3" width="1.0" height="2.0" fill="#30b8ff"/>
<rect x="541.6" y="437.3" width="1.0" height="1.0" fill="#30b8ff"/>
<rect x="541.6" y="441.3" width="1.0" height="2.0" fill="#30b8ff"/>
<rect x="541.6" y="446.3" width="1.0" height="2.0" fill="#60d0f0"/>
<rect x="541.6" y="452.3" width="1.0" height="1.0" fill="#60d0f0"/>
<rect x="541.5" y="459.3" width="1.0" height="1.0" fill="#30b8ff"/>
<rect x="541.5" y="463.3" width="1.0" height="1.0" fill="#60d0f0"/>
<rect x="541.5" y="470.3" width="1.0" height="1.0" fill="#30b8ff"/>
<rect x="541.4" y="475.3" width="1.0" height="2.0" fill="#60d0f0"/>
<rect x="541.4" y="483.3" width="1.0" height="1.0" fill="#60d0f0"/>
<rect x="541.4" y="488.3" width="1.0" height="1.0" fill="#60d0f0"/>
<rect x="541.3" y="495.3" width="1.0" height="1.0" fill="#60d0f0"/>
<rect x="541.3" y="504.3" width="1.0" height="1.0" fill="#30b8ff"/>
<rect x="541.2" y="513.3" width="1.0" height="1.0" fill="#60d0f0"/>
<rect x="541.2" y="520.3" width="1.0" height="2.0" fill="#30b8ff"/>
<rect x="541.2" y="530.3" width="1.0" height="1.0" fill="#60d0f0"/>
<rect x="541.1" y="535.3" width="1.0" height="1.0" fill="#60d0f0"/>
<path d="M526.4 121 L524.4 300 L523.6 540" stroke="#70f0c8" stroke-width="1" fill="none" opacity="0.6"/>
<rect x="543.3" y="530.0" width="2.4" height="2.0" fill="#00c0ff"/>
<rect x="541.0" y="433.0" width="4.7" height="2.0" fill="#00c0ff"/>
<rect x="543.4" y="497.0" width="2.2" height="2.0" fill="#20a8ff"/>
<rect x="542.0" y="345.0" width="3.6" height="1.0" fill="#00c0ff"/>
<rect x="542.2" y="534.0" width="3.1" height="2.0" fill="#00c0ff"/>
<rect x="543.2" y="343.0" width="2.6" height="2.0" fill="#00c0ff"/>
<rect x="540.3" y="447.0" width="4.7" height="2.0" fill="#00c0ff"/>
<rect x="541.1" y="442.0" width="4.0" height="2.0" fill="#00c0ff"/>
<rect x="542.6" y="367.0" width="2.5" height="1.0" fill="#00c0ff"/>
<rect x="538.6" y="533.0" width="6.6" height="2.0" fill="#00c0ff"/>
<rect x="538.7" y="469.0" width="6.9" height="4.0" fill="#00c0ff"/>
<rect x="541.9" y="331.0" width="3.2" height="1.0" fill="#00c0ff"/>
<rect x="543.1" y="457.0" width="2.1" height="3.0" fill="#20a8ff"/>
<rect x="539.1" y="458.0" width="6.4" height="4.0" fill="#20a8ff"/>
<rect x="541.1" y="393.0" width="4.3" height="2.0" fill="#00c0ff"/>
<rect x="542.8" y="431.0" width="2.3" height="2.0" fill="#00c0ff"/>
<rect x="543.2" y="366.0" width="2.6" height="4.0" fill="#20a8ff"/>
<rect x="539.0" y="466.0" width="6.1" height="1.0" fill="#00c0ff"/>
<rect x="539.7" y="467.0" width="5.9" height="2.0" fill="#00c0ff"/>
<rect x="541.0" y="373.0" width="4.9" height="4.0" fill="#00c0ff"/>
<rect x="541.0" y="361.0" width="4.0" height="3.0" fill="#20a8ff"/>
<rect x="539.5" y="486.0" width="6.3" height="3.0" fill="#20a8ff"/>
<rect x="540.4" y="467.0" width="5.4" height="2.0" fill="#20a8ff"/>
<rect x="542.2" y="387.0" width="3.6" height="3.0" fill="#20a8ff"/>
<rect x="541.4" y="437.0" width="4.4" height="2.0" fill="#20a8ff"/>
<rect x="543.0" y="347.0" width="2.4" height="1.0" fill="#00c0ff"/>
<rect x="541.3" y="447.0" width="3.9" height="1.0" fill="#00c0ff"/>
<rect x="540.4" y="448.0" width="5.4" height="2.0" fill="#00c0ff"/>
<rect x="540.5" y="467.0" width="4.6" height="2.0" fill="#00c0ff"/>
<rect x="538.9" y="442.0" width="6.0" height="2.0" fill="#00c0ff"/>
<rect x="542.5" y="353.0" width="3.1" height="2.0" fill="#00c0ff"/>
<rect x="542.9" y="380.0" width="2.8" height="3.0" fill="#00c0ff"/>
<rect x="539.1" y="466.0" width="6.2" height="1.0" fill="#00c0ff"/>
<rect x="540.2" y="388.0" width="5.0" height="1.0" fill="#00c0ff"/>
<rect x="542.7" y="527.0" width="2.2" height="2.0" fill="#20a8ff"/>
<rect x="543.4" y="379.0" width="2.2" height="2.0" fill="#00c0ff"/>
<rect x="542.3" y="425.0" width="3.5" height="1.0" fill="#00c0ff"/>
<rect x="540.9" y="435.0" width="4.6" height="2.0" fill="#00c0ff"/>
<rect x="542.6" y="408.0" width="2.6" height="3.0" fill="#00c0ff"/>
<rect x="541.4" y="368.0" width="3.7" height="3.0" fill="#00c0ff"/>
<rect x="541.9" y="437.0" width="3.8" height="4.0" fill="#00c0ff"/>
<rect x="538.4" y="409.0" width="6.8" height="2.0" fill="#20a8ff"/>
<rect x="542.7" y="333.0" width="2.9" height="2.0" fill="#00c0ff"/>
<rect x="542.7" y="354.0" width="2.3" height="4.0" fill="#00c0ff"/>
<rect x="539.8" y="523.0" width="5.2" height="2.0" fill="#00c0ff"/>
<rect x="540.7" y="484.0" width="4.7" height="3.0" fill="#00c0ff"/>
<rect x="543.0" y="444.0" width="2.5" height="2.0" fill="#00c0ff"/>
<rect x="539.1" y="536.0" width="6.5" height="1.0" fill="#00c0ff"/>
<rect x="543.3" y="422.0" width="2.1" height="2.0" fill="#20a8ff"/>
<rect x="541.9" y="365.0" width="4.0" height="2.0" fill="#20a8ff"/>
<rect x="542.7" y="336.0" width="2.7" height="2.0" fill="#00c0ff"/>
<rect x="542.4" y="417.0" width="3.5" height="3.0" fill="#20a8ff"/>
<rect x="543.4" y="389.0" width="2.2" height="2.0" fill="#00c0ff"/>
<rect x="540.2" y="529.0" width="5.1" height="2.0" fill="#20a8ff"/>
<rect x="541.3" y="448.0" width="4.1" height="2.0" fill="#00c0ff"/>
<rect x="543.1" y="337.0" width="2.5" height="1.0" fill="#00c0ff"/>
<rect x="539.8" y="392.0" width="5.4" height="2.0" fill="#20a8ff"/>
<rect x="540.0" y="465.0" width="5.8" height="4.0" fill="#00c0ff"/>
<rect x="541.8" y="538.0" width="3.4" height="2.0" fill="#20a8ff"/>
<rect x="542.7" y="409.0" width="2.5" height="2.0" fill="#00c0ff"/>
<rect x="541.4" y="352.0" width="3.7" height="1.0" fill="#20a8ff"/>
<rect x="539.8" y="367.0" width="5.8" height="2.0" fill="#00c0ff"/>
<rect x="541.3" y="451.0" width="4.5" height="3.0" fill="#00c0ff"/>
<rect x="538.3" y="448.0" width="6.8" height="3.0" fill="#00c0ff"/>
<rect x="542.2" y="528.0" width="2.9" height="4.0" fill="#00c0ff"/>
<rect x="543.0" y="430.0" width="2.5" height="3.0" fill="#20a8ff"/>
<rect x="540.2" y="460.0" width="5.5" height="2.0" fill="#00c0ff"/>
<rect x="541.9" y="499.0" width="3.8" height="1.0" fill="#00c0ff"/>
<rect x="539.3" y="522.0" width="6.4" height="3.0" fill="#20a8ff"/>
<rect x="542.6" y="457.0" width="2.8" height="2.0" fill="#00c0ff"/>
<rect x="540.8" y="411.0" width="4.6" height="3.0" fill="#20a8ff"/>
<rect x="542.2" y="452.0" width="3.4" height="3.0" fill="#00c0ff"/>
<rect x="542.7" y="388.0" width="2.5" height="3.0" fill="#20a8ff"/>
<rect x="540.2" y="413.0" width="5.4" height="1.0" fill="#20a8ff"/>
<rect x="542.0" y="492.0" width="3.8" height="1.0" fill="#00c0ff"/>
<rect x="540.0" y="338.0" width="5.2" height="3.0" fill="#20a8ff"/>
<rect x="540.8" y="506.0" width="4.7" height="2.0" fill="#00c0ff"/>
<rect x="540.4" y="525.0" width="5.0" height="2.0" fill="#00c0ff"/>
<rect x="542.5" y="363.0" width="2.7" height="2.0" fill="#00c0ff"/>
<rect x="538.8" y="399.0" width="7.0" height="2.0" fill="#00c0ff"/>
<rect x="541.6" y="346.0" width="3.8" height="3.0" fill="#20a8ff"/>
<rect x="542.3" y="530.0" width="3.4" height="3.0" fill="#00c0ff"/>
<rect x="542.7" y="425.0" width="2.7" height="1.0" fill="#20a8ff"/>
<rect x="542.4" y="509.0" width="3.4" height="1.0" fill="#20a8ff"/>
<rect x="539.8" y="389.0" width="5.4" height="2.0" fill="#20a8ff"/>
<rect x="542.2" y="371.0" width="2.9" height="2.0" fill="#00c0ff"/>
<rect x="543.1" y="372.0" width="2.5" height="2.0" fill="#00c0ff"/>
<rect x="539.8" y="446.0" width="5.8" height="4.0" fill="#00c0ff"/>
<rect x="543.0" y="485.0" width="2.5" height="4.0" fill="#00c0ff"/>
<rect x="543.0" y="517.0" width="2.7" height="1.0" fill="#00c0ff"/>
<rect x="538.3" y="488.0" width="6.9" height="4.0" fill="#00c0ff"/>
<rect x="541.1" y="360.0" width="4.7" height="2.0" fill="#20a8ff"/>
<rect x="541.8" y="369.0" width="3.7" height="4.0" fill="#20a8ff"/>
<rect x="540.4" y="340.0" width="4.6" height="4.0" fill="#00c0ff"/>
<rect x="542.9" y="366.0" width="2.0" height="4.0" fill="#20a8ff"/>
<rect x="541.3" y="477.0" width="3.9" height="3.0" fill="#20a8ff"/>
<rect x="540.6" y="399.0" width="4.4" height="2.0" fill="#00c0ff"/>
<rect x="542.3" y="487.0" width="2.9" height="1.0" fill="#00c0ff"/>
<rect x="542.0" y="457.0" width="3.8" height="2.0" fill="#00c0ff"/>
<rect x="542.2" y="431.0" width="3.4" height="2.0" fill="#00c0ff"/>
<rect x="540.3" y="408.0" width="4.8" height="3.0" fill="#00c0ff"/>
<rect x="539.0" y="426.0" width="6.3" height="4.0" fill="#00c0ff"/>
<rect x="540.7" y="410.0" width="4.6" height="2.0" fill="#20a8ff"/>
<rect x="541.3" y="402.0" width="4.1" height="2.0" fill="#00c0ff"/>
<rect x="538.1" y="378.0" width="6.9" height="3.0" fill="#00c0ff"/>
<rect x="540.9" y="536.0" width="4.7" height="2.0" fill="#20a8ff"/>
<rect x="539.2" y="495.0" width="6.4" height="2.0" fill="#20a8ff"/>
<rect x="542.2" y="505.0" width="3.0" height="2.0" fill="#00c0ff"/>
<rect x="539.7" y="457.0" width="6.0" height="2.0" fill="#00c0ff"/>
<rect x="539.8" y="365.0" width="5.4" height="2.0" fill="#00c0ff"/>
<rect x="543.1" y="151.0" width="2.2" height="1.0" fill="#00c0ff"/>
<rect x="543.9" y="174.0" width="1.3" height="1.0" fill="#3090ff"/>
<rect x="540.7" y="140.0" width="2.9" height="1.0" fill="#3090ff"/>
<rect x="543.0" y="236.0" width="1.3" height="1.0" fill="#3090ff"/>
<rect x="544.6" y="314.0" width="1.2" height="1.0" fill="#00c0ff"/>
<rect x="541.7" y="189.0" width="2.7" height="1.0" fill="#00c0ff"/>
<rect x="542.1" y="191.0" width="1.8" height="2.0" fill="#00c0ff"/>
<rect x="541.0" y="223.0" width="2.8" height="1.0" fill="#00c0ff"/>
<rect x="543.3" y="311.0" width="2.2" height="1.0" fill="#00c0ff"/>
<rect x="542.8" y="272.0" width="2.7" height="2.0" fill="#3090ff"/>
<rect x="542.7" y="138.0" width="1.8" height="2.0" fill="#3090ff"/>
<rect x="541.4" y="164.0" width="2.4" height="2.0" fill="#00c0ff"/>
<rect x="542.2" y="192.0" width="1.1" height="2.0" fill="#3090ff"/>
<rect x="540.5" y="152.0" width="2.7" height="1.0" fill="#3090ff"/>
<rect x="543.3" y="177.0" width="2.2" height="2.0" fill="#3090ff"/>
<rect x="543.9" y="142.0" width="1.3" height="1.0" fill="#3090ff"/>
<rect x="542.2" y="330.0" width="2.4" height="2.0" fill="#3090ff"/>
<rect x="544.2" y="286.0" width="1.6" height="1.0" fill="#00c0ff"/>
<rect x="541.2" y="319.0" width="2.2" height="2.0" fill="#00c0ff"/>
<rect x="543.9" y="256.0" width="1.2" height="1.0" fill="#3090ff"/>
<rect x="541.2" y="133.0" width="2.2" height="2.0" fill="#3090ff"/>
<rect x="543.6" y="299.0" width="1.4" height="2.0" fill="#3090ff"/>
<rect x="150.2" y="123.0" width="1.2" height="1.0" fill="#49ffad"/>
<rect x="150.2" y="124.0" width="1.0" height="1.0" fill="#6ff0c6"/>
<rect x="150.2" y="127.0" width="1.4" height="1.0" fill="#49ffad"/>
<rect x="150.2" y="128.0" width="1.5" height="1.0" fill="#6ff0c6"/>
<rect x="150.2" y="130.0" width="2.6" height="1.0" fill="#49ffad"/>
<rect x="150.2" y="132.0" width="1.2" height="1.0" fill="#49ffad"/>
<rect x="150.2" y="134.0" width="2.5" height="1.0" fill="#6ff0c6"/>
<rect x="150.2" y="140.0" width="1.7" height="1.0" fill="#6ff0c6"/>
<rect x="150.2" y="141.0" width="1.3" height="1.0" fill="#6ff0c6"/>
<rect x="150.2" y="144.0" width="1.0" height="1.0" fill="#49ffad"/>
<rect x="150.2" y="146.0" width="1.8" height="1.0" fill="#49ffad"/>
<rect x="150.2" y="147.0" width="1.2" height="1.0" fill="#49ffad"/>
<rect x="150.2" y="148.0" width="1.8" height="1.0" fill="#6ff0c6"/>
<rect x="150.2" y="149.0" width="1.8" height="1.0" fill="#6ff0c6"/>
<rect x="150.2" y="151.0" width="1.7" height="1.0" fill="#49ffad"/>
<rect x="150.2" y="152.0" width="1.9" height="1.0" fill="#6ff0c6"/>
<rect x="150.2" y="153.0" width="1.7" height="1.0" fill="#49ffad"/>
<rect x="150.2" y="155.0" width="1.9" height="1.0" fill="#49ffad"/>
<rect x="150.2" y="156.0" width="1.4" height="1.0" fill="#49ffad"/>
<rect x="150.2" y="158.0" width="1.0" height="1.0" fill="#49ffad"/>
<rect x="150.2" y="159.0" width="1.3" height="1.0" fill="#6ff0c6"/>
<rect x="150.2" y="160.0" width="3.5" height="1.0" fill="#6ff0c6"/>
<rect x="150.2" y="161.0" width="5.9" height="1.0" fill="#6ff0c6"/>
<rect x="156.1" y="161.0" width="1.5" height="1.0" fill="#48d8dc"/>
<rect x="150.2" y="162.0" width="1.6" height="1.0" fill="#6ff0c6"/>
<rect x="150.2" y="163.0" width="17.3" height="1.0" fill="#49ffad"/>
<rect x="150.2" y="164.0" width="1.5" height="1.0" fill="#49ffad"/>
<rect x="150.2" y="165.0" width="6.1" height="1.0" fill="#49ffad"/>
<rect x="150.2" y="166.0" width="9.6" height="1.0" fill="#49ffad"/>
<rect x="150.2" y="167.0" width="16.5" height="1.0" fill="#6ff0c6"/>
<rect x="150.2" y="168.0" width="9.0" height="1.0" fill="#49ffad"/>
<rect x="159.2" y="168.0" width="1.3" height="1.0" fill="#48d8dc"/>
<rect x="150.2" y="169.0" width="5.1" height="1.0" fill="#49ffad"/>
<rect x="150.2" y="170.0" width="7.7" height="1.0" fill="#6ff0c6"/>
<rect x="150.2" y="171.0" width="1.6" height="1.0" fill="#49ffad"/>
<rect x="150.2" y="172.0" width="7.2" height="1.0" fill="#6ff0c6"/>
<rect x="157.4" y="172.0" width="3.6" height="1.0" fill="#48d8dc"/>
<rect x="150.2" y="173.0" width="2.5" height="1.0" fill="#49ffad"/>
<rect x="150.2" y="174.0" width="8.1" height="1.0" fill="#49ffad"/>
<rect x="150.2" y="175.0" width="3.7" height="1.0" fill="#49ffad"/>
<rect x="153.9" y="175.0" width="1.2" height="1.0" fill="#48d8dc"/>
<rect x="150.2" y="176.0" width="4.0" height="1.0" fill="#6ff0c6"/>
<rect x="154.2" y="176.0" width="2.3" height="1.0" fill="#48d8dc"/>
<rect x="150.2" y="177.0" width="1.8" height="1.0" fill="#6ff0c6"/>
<rect x="150.2" y="178.0" width="1.4" height="1.0" fill="#49ffad"/>
<rect x="150.2" y="179.0" width="9.3" height="1.0" fill="#49ffad"/>
<rect x="150.2" y="180.0" width="7.9" height="1.0" fill="#49ffad"/>
<rect x="150.2" y="181.0" width="7.5" height="1.0" fill="#6ff0c6"/>
<rect x="157.7" y="181.0" width="3.5" height="1.0" fill="#48d8dc"/>
<rect x="150.2" y="182.0" width="2.3" height="1.0" fill="#6ff0c6"/>
<rect x="150.2" y="183.0" width="5.1" height="1.0" fill="#49ffad"/>
<rect x="155.3" y="183.0" width="1.4" height="1.0" fill="#48d8dc"/>
<rect x="150.2" y="184.0" width="2.7" height="1.0" fill="#49ffad"/>
<rect x="150.2" y="185.0" width="2.5" height="1.0" fill="#49ffad"/>
<rect x="150.2" y="186.0" width="3.8" height="1.0" fill="#49ffad"/>
<rect x="150.2" y="187.0" width="9.2" height="1.0" fill="#6ff0c6"/>
<rect x="150.2" y="188.0" width="4.1" height="1.0" fill="#6ff0c6"/>
<rect x="154.3" y="188.0" width="3.3" height="1.0" fill="#48d8dc"/>
<rect x="150.2" y="189.0" width="4.4" height="1.0" fill="#49ffad"/>
<rect x="154.6" y="189.0" width="3.2" height="1.0" fill="#48d8dc"/>
<rect x="150.2" y="190.0" width="9.4" height="1.0" fill="#49ffad"/>
<rect x="159.6" y="190.0" width="3.5" height="1.0" fill="#48d8dc"/>
<rect x="150.2" y="191.0" width="6.7" height="1.0" fill="#6ff0c6"/>
<rect x="156.9" y="191.0" width="1.3" height="1.0" fill="#48d8dc"/>
<rect x="150.2" y="192.0" width="1.5" height="1.0" fill="#6ff0c6"/>
<rect x="150.2" y="193.0" width="3.3" height="1.0" fill="#6ff0c6"/>
<rect x="153.5" y="193.0" width="1.6" height="1.0" fill="#48d8dc"/>
<rect x="150.2" y="194.0" width="9.3" height="1.0" fill="#49ffad"/>
<rect x="150.2" y="195.0" width="10.4" height="1.0" fill="#6ff0c6"/>
<rect x="150.2" y="196.0" width="12.1" height="1.0" fill="#6ff0c6"/>
<rect x="162.3" y="196.0" width="2.8" height="1.0" fill="#48d8dc"/>
<rect x="150.2" y="197.0" width="12.2" height="1.0" fill="#49ffad"/>
<rect x="162.4" y="197.0" width="4.0" height="1.0" fill="#48d8dc"/>
<rect x="150.2" y="198.0" width="6.1" height="1.0" fill="#49ffad"/>
<rect x="156.3" y="198.0" width="1.0" height="1.0" fill="#48d8dc"/>
<rect x="150.2" y="199.0" width="3.9" height="1.0" fill="#6ff0c6"/>
<rect x="154.1" y="199.0" width="1.7" height="1.0" fill="#48d8dc"/>
<rect x="150.2" y="200.0" width="8.0" height="1.0" fill="#49ffad"/>
<rect x="158.2" y="200.0" width="2.0" height="1.0" fill="#48d8dc"/>
<rect x="150.2" y="201.0" width="1.8" height="1.0" fill="#6ff0c6"/>
<rect x="150.2" y="202.0" width="9.9" height="1.0" fill="#49ffad"/>
<rect x="150.2" y="203.0" width="11.4" height="1.0" fill="#6ff0c6"/>
<rect x="150.2" y="204.0" width="7.2" height="1.0" fill="#49ffad"/>
<rect x="150.2" y="205.0" width="3.9" height="1.0" fill="#6ff0c6"/>
<rect x="154.1" y="205.0" width="1.6" height="1.0" fill="#48d8dc"/>
<rect x="150.2" y="206.0" width="12.1" height="1.0" fill="#6ff0c6"/>
<rect x="162.3" y="206.0" width="2.6" height="1.0" fill="#48d8dc"/>
<rect x="150.2" y="207.0" width="10.9" height="1.0" fill="#6ff0c6"/>
<rect x="161.1" y="207.0" width="2.8" height="1.0" fill="#48d8dc"/>
<rect x="150.2" y="208.0" width="10.0" height="1.0" fill="#49ffad"/>
<rect x="160.2" y="208.0" width="1.8" height="1.0" fill="#48d8dc"/>
<rect x="150.2" y="209.0" width="4.6" height="1.0" fill="#6ff0c6"/>
<rect x="154.8" y="209.0" width="1.6" height="1.0" fill="#48d8dc"/>
<rect x="150.2" y="210.0" width="6.9" height="1.0" fill="#6ff0c6"/>
<rect x="157.1" y="210.0" width="1.1" height="1.0" fill="#48d8dc"/>
<rect x="150.2" y="211.0" width="11.8" height="1.0" fill="#6ff0c6"/>
<rect x="150.2" y="212.0" width="18.0" height="1.0" fill="#49ffad"/>
<rect x="150.2" y="213.0" width="7.3" height="1.0" fill="#49ffad"/>
<rect x="150.2" y="214.0" width="1.6" height="1.0" fill="#49ffad"/>
<rect x="150.2" y="215.0" width="10.8" height="1.0" fill="#49ffad"/>
<rect x="161.0" y="215.0" width="3.7" height="1.0" fill="#48d8dc"/>
<rect x="150.2" y="216.0" width="10.3" height="1.0" fill="#49ffad"/>
<rect x="160.5" y="216.0" width="1.5" height="1.0" fill="#48d8dc"/>
<rect x="150.2" y="217.0" width="9.2" height="1.0" fill="#49ffad"/>
<rect x="159.4" y="217.0" width="1.0" height="1.0" fill="#48d8dc"/>
<rect x="150.2" y="218.0" width="1.3" height="1.0" fill="#49ffad"/>
<rect x="150.2" y="219.0" width="1.4" height="1.0" fill="#6ff0c6"/>
<rect x="150.2" y="220.0" width="7.6" height="1.0" fill="#49ffad"/>
<rect x="157.8" y="220.0" width="3.6" height="1.0" fill="#48d8dc"/>
<rect x="150.2" y="221.0" width="5.1" height="1.0" fill="#6ff0c6"/>
<rect x="150.2" y="222.0" width="7.4" height="1.0" fill="#49ffad"/>
<rect x="150.2" y="223.0" width="9.8" height="1.0" fill="#49ffad"/>
<rect x="150.2" y="224.0" width="9.8" height="1.0" fill="#6ff0c6"/>
<rect x="160.0" y="224.0" width="3.2" height="1.0" fill="#48d8dc"/>
<rect x="150.2" y="225.0" width="6.1" height="1.0" fill="#49ffad"/>
<rect x="156.3" y="225.0" width="2.8" height="1.0" fill="#48d8dc"/>
<rect x="150.2" y="226.0" width="8.4" height="1.0" fill="#6ff0c6"/>
<rect x="158.6" y="226.0" width="1.2" height="1.0" fill="#48d8dc"/>
<rect x="150.2" y="227.0" width="8.2" height="1.0" fill="#49ffad"/>
<rect x="150.2" y="228.0" width="10.6" height="1.0" fill="#6ff0c6"/>
<rect x="150.2" y="229.0" width="4.6" height="1.0" fill="#49ffad"/>
<rect x="150.2" y="230.0" width="8.8" height="1.0" fill="#6ff0c6"/>
<rect x="150.2" y="231.0" width="1.4" height="1.0" fill="#6ff0c6"/>
<rect x="150.2" y="232.0" width="7.5" height="1.0" fill="#49ffad"/>
<rect x="157.7" y="232.0" width="3.6" height="1.0" fill="#48d8dc"/>
<rect x="150.2" y="233.0" width="4.5" height="1.0" fill="#6ff0c6"/>
<rect x="154.7" y="233.0" width="2.5" height="1.0" fill="#48d8dc"/>
<rect x="150.2" y="234.0" width="10.5" height="1.0" fill="#49ffad"/>
<rect x="160.7" y="234.0" width="2.4" height="1.0" fill="#48d8dc"/>
<rect x="150.2" y="235.0" width="2.6" height="1.0" fill="#49ffad"/>
<rect x="150.2" y="236.0" width="10.4" height="1.0" fill="#49ffad"/>
<rect x="150.2" y="237.0" width="5.7" height="1.0" fill="#6ff0c6"/>
<rect x="155.9" y="237.0" width="2.2" height="1.0" fill="#48d8dc"/>
<rect x="150.2" y="238.0" width="10.2" height="1.0" fill="#49ffad"/>
<rect x="150.2" y="239.0" width="7.2" height="1.0" fill="#6ff0c6"/>
<rect x="150.2" y="240.0" width="2.9" height="1.0" fill="#49ffad"/>
<rect x="150.2" y="241.0" width="8.4" height="1.0" fill="#49ffad"/>
<rect x="158.6" y="241.0" width="2.2" height="1.0" fill="#48d8dc"/>
<rect x="150.2" y="242.0" width="6.5" height="1.0" fill="#49ffad"/>
<rect x="156.7" y="242.0" width="2.7" height="1.0" fill="#48d8dc"/>
<rect x="150.2" y="243.0" width="4.6" height="1.0" fill="#6ff0c6"/>
<rect x="154.8" y="243.0" width="2.4" height="1.0" fill="#48d8dc"/>
<rect x="150.2" y="244.0" width="8.0" height="1.0" fill="#49ffad"/>
<rect x="150.2" y="245.0" width="1.5" height="1.0" fill="#6ff0c6"/>
<rect x="150.2" y="246.0" width="8.2" height="1.0" fill="#6ff0c6"/>
<rect x="150.2" y="247.0" width="6.0" height="1.0" fill="#49ffad"/>
<rect x="150.2" y="248.0" width="5.3" height="1.0" fill="#49ffad"/>
<rect x="150.2" y="249.0" width="18.0" height="1.0" fill="#49ffad"/>
<rect x="168.2" y="249.0" width="2.1" height="1.0" fill="#48d8dc"/>
<rect x="150.2" y="250.0" width="6.3" height="1.0" fill="#6ff0c6"/>
<rect x="156.5" y="250.0" width="2.8" height="1.0" fill="#48d8dc"/>
<rect x="150.2" y="251.0" width="7.5" height="1.0" fill="#49ffad"/>
<rect x="157.7" y="251.0" width="1.1" height="1.0" fill="#48d8dc"/>
<rect x="150.2" y="252.0" width="2.5" height="1.0" fill="#6ff0c6"/>
<rect x="150.2" y="253.0" width="7.2" height="1.0" fill="#49ffad"/>
<rect x="157.4" y="253.0" width="2.3" height="1.0" fill="#48d8dc"/>
<rect x="150.2" y="254.0" width="7.8" height="1.0" fill="#49ffad"/>
<rect x="158.0" y="254.0" width="1.1" height="1.0" fill="#48d8dc"/>
<rect x="150.2" y="255.0" width="5.8" height="1.0" fill="#6ff0c6"/>
<rect x="156.0" y="255.0" width="1.0" height="1.0" fill="#48d8dc"/>
<rect x="150.2" y="256.0" width="5.9" height="1.0" fill="#49ffad"/>
<rect x="150.2" y="257.0" width="7.0" height="1.0" fill="#49ffad"/>
<rect x="157.2" y="257.0" width="3.2" height="1.0" fill="#48d8dc"/>
<rect x="150.2" y="258.0" width="4.7" height="1.0" fill="#49ffad"/>
<rect x="150.2" y="259.0" width="3.1" height="1.0" fill="#6ff0c6"/>
<rect x="150.2" y="260.0" width="3.0" height="1.0" fill="#49ffad"/>
<rect x="153.2" y="260.0" width="2.5" height="1.0" fill="#48d8dc"/>
<rect x="150.2" y="261.0" width="3.9" height="1.0" fill="#49ffad"/>
<rect x="150.2" y="262.0" width="5.3" height="1.0" fill="#49ffad"/>
<rect x="150.2" y="263.0" width="1.2" height="1.0" fill="#6ff0c6"/>
<rect x="150.2" y="264.0" width="16.2" height="1.0" fill="#49ffad"/>
<rect x="150.2" y="265.0" width="9.5" height="1.0" fill="#49ffad"/>
<rect x="159.7" y="265.0" width="3.3" height="1.0" fill="#48d8dc"/>
<rect x="150.2" y="266.0" width="6.9" height="1.0" fill="#6ff0c6"/>
<rect x="157.1" y="266.0" width="3.6" height="1.0" fill="#48d8dc"/>
<rect x="150.2" y="267.0" width="9.2" height="1.0" fill="#49ffad"/>
<rect x="159.4" y="267.0" width="4.0" height="1.0" fill="#48d8dc"/>
<rect x="150.2" y="268.0" width="13.1" height="1.0" fill="#49ffad"/>
<rect x="150.2" y="269.0" width="2.2" height="1.0" fill="#6ff0c6"/>
<rect x="150.2" y="270.0" width="1.8" height="1.0" fill="#49ffad"/>
<rect x="150.2" y="271.0" width="6.1" height="1.0" fill="#49ffad"/>
<rect x="150.2" y="272.0" width="3.1" height="1.0" fill="#6ff0c6"/>
<rect x="153.3" y="272.0" width="4.0" height="1.0" fill="#48d8dc"/>
<rect x="150.2" y="273.0" width="6.6" height="1.0" fill="#6ff0c6"/>
<rect x="150.2" y="274.0" width="12.0" height="1.0" fill="#49ffad"/>
<rect x="150.2" y="275.0" width="9.2" height="1.0" fill="#49ffad"/>
<rect x="159.4" y="275.0" width="2.3" height="1.0" fill="#48d8dc"/>
<rect x="150.2" y="276.0" width="7.1" height="1.0" fill="#49ffad"/>
<rect x="150.2" y="277.0" width="3.9" height="1.0" fill="#49ffad"/>
<rect x="154.1" y="277.0" width="2.5" height="1.0" fill="#48d8dc"/>
<rect x="150.2" y="278.0" width="2.5" height="1.0" fill="#49ffad"/>
<rect x="150.2" y="279.0" width="2.5" height="1.0" fill="#49ffad"/>
<rect x="150.2" y="280.0" width="4.5" height="1.0" fill="#6ff0c6"/>
<rect x="150.2" y="281.0" width="11.7" height="1.0" fill="#49ffad"/>
<rect x="161.9" y="281.0" width="2.2" height="1.0" fill="#48d8dc"/>
<rect x="150.2" y="282.0" width="10.8" height="1.0" fill="#49ffad"/>
<rect x="161.0" y="282.0" width="3.5" height="1.0" fill="#48d8dc"/>
<rect x="150.2" y="283.0" width="6.5" height="1.0" fill="#49ffad"/>
<rect x="156.7" y="283.0" width="2.2" height="1.0" fill="#48d8dc"/>
<rect x="150.2" y="284.0" width="3.1" height="1.0" fill="#49ffad"/>
<rect x="153.3" y="284.0" width="1.5" height="1.0" fill="#48d8dc"/>
<rect x="150.2" y="285.0" width="1.9" height="1.0" fill="#49ffad"/>
<rect x="150.2" y="286.0" width="8.1" height="1.0" fill="#49ffad"/>
<rect x="158.3" y="286.0" width="2.9" height="1.0" fill="#48d8dc"/>
<rect x="150.2" y="287.0" width="3.2" height="1.0" fill="#49ffad"/>
<rect x="150.2" y="288.0" width="1.0" height="1.0" fill="#6ff0c6"/>
<rect x="150.2" y="289.0" width="7.8" height="1.0" fill="#6ff0c6"/>
<rect x="158.0" y="289.0" width="2.4" height="1.0" fill="#48d8dc"/>
<rect x="150.2" y="290.0" width="5.4" height="1.0" fill="#49ffad"/>
<rect x="150.2" y="291.0" width="6.4" height="1.0" fill="#6ff0c6"/>
<rect x="156.6" y="291.0" width="2.1" height="1.0" fill="#48d8dc"/>
<rect x="150.2" y="292.0" width="5.1" height="1.0" fill="#6ff0c6"/>
<rect x="150.2" y="293.0" width="5.5" height="1.0" fill="#49ffad"/>
<rect x="155.7" y="293.0" width="2.0" height="1.0" fill="#48d8dc"/>
<rect x="150.2" y="294.0" width="6.4" height="1.0" fill="#6ff0c6"/>
<rect x="150.2" y="295.0" width="4.8" height="1.0" fill="#6ff0c6"/>
<rect x="155.0" y="295.0" width="2.9" height="1.0" fill="#48d8dc"/>
<rect x="150.2" y="296.0" width="1.4" height="1.0" fill="#49ffad"/>
<rect x="150.2" y="297.0" width="6.6" height="1.0" fill="#6ff0c6"/>
<rect x="150.2" y="298.0" width="9.0" height="1.0" fill="#6ff0c6"/>
<rect x="159.2" y="298.0" width="2.5" height="1.0" fill="#48d8dc"/>
<rect x="150.2" y="299.0" width="6.9" height="1.0" fill="#49ffad"/>
<rect x="157.1" y="299.0" width="1.3" height="1.0" fill="#48d8dc"/>
<rect x="150.2" y="300.0" width="1.4" height="1.0" fill="#49ffad"/>
<rect x="150.2" y="301.0" width="8.2" height="1.0" fill="#6ff0c6"/>
<rect x="158.4" y="301.0" width="1.6" height="1.0" fill="#48d8dc"/>
<rect x="150.2" y="302.0" width="2.0" height="1.0" fill="#6ff0c6"/>
<rect x="150.2" y="303.0" width="5.3" height="1.0" fill="#6ff0c6"/>
<rect x="155.5" y="303.0" width="3.9" height="1.0" fill="#48d8dc"/>
<rect x="150.2" y="304.0" width="4.8" height="1.0" fill="#6ff0c6"/>
<rect x="155.0" y="304.0" width="2.5" height="1.0" fill="#48d8dc"/>
<rect x="150.2" y="305.0" width="7.2" height="1.0" fill="#49ffad"/>
<rect x="157.4" y="305.0" width="3.0" height="1.0" fill="#48d8dc"/>
<rect x="150.2" y="306.0" width="1.6" height="1.0" fill="#49ffad"/>
<rect x="150.2" y="307.0" width="8.6" height="1.0" fill="#49ffad"/>
<rect x="158.8" y="307.0" width="1.8" height="1.0" fill="#48d8dc"/>
<rect x="150.2" y="308.0" width="8.5" height="1.0" fill="#49ffad"/>
<rect x="158.7" y="308.0" width="2.8" height="1.0" fill="#48d8dc"/>
<rect x="150.2" y="309.0" width="4.9" height="1.0" fill="#6ff0c6"/>
<rect x="155.1" y="309.0" width="1.5" height="1.0" fill="#48d8dc"/>
<rect x="150.2" y="310.0" width="16.3" height="1.0" fill="#6ff0c6"/>
<rect x="150.2" y="311.0" width="14.4" height="1.0" fill="#49ffad"/>
<rect x="164.6" y="311.0" width="2.9" height="1.0" fill="#48d8dc"/>
<rect x="150.2" y="312.0" width="4.0" height="1.0" fill="#6ff0c6"/>
<rect x="154.2" y="312.0" width="2.2" height="1.0" fill="#48d8dc"/>
<rect x="150.2" y="313.0" width="2.9" height="1.0" fill="#6ff0c6"/>
<rect x="150.2" y="314.0" width="2.8" height="1.0" fill="#49ffad"/>
<rect x="150.2" y="315.0" width="2.8" height="1.0" fill="#6ff0c6"/>
<rect x="150.2" y="316.0" width="7.2" height="1.0" fill="#49ffad"/>
<rect x="150.2" y="317.0" width="5.0" height="1.0" fill="#6ff0c6"/>
<rect x="150.2" y="318.0" width="7.6" height="1.0" fill="#49ffad"/>
<rect x="157.8" y="318.0" width="3.5" height="1.0" fill="#48d8dc"/>
<rect x="150.2" y="319.0" width="5.6" height="1.0" fill="#6ff0c6"/>
<rect x="155.8" y="319.0" width="2.1" height="1.0" fill="#48d8dc"/>
<rect x="150.2" y="320.0" width="5.7" height="1.0" fill="#6ff0c6"/>
<rect x="150.2" y="321.0" width="2.1" height="1.0" fill="#49ffad"/>
<rect x="150.2" y="322.0" width="5.6" height="1.0" fill="#6ff0c6"/>
<rect x="150.2" y="323.0" width="5.4" height="1.0" fill="#6ff0c6"/>
<rect x="155.6" y="323.0" width="2.0" height="1.0" fill="#48d8dc"/>
<rect x="150.2" y="324.0" width="2.9" height="1.0" fill="#6ff0c6"/>
<rect x="150.2" y="325.0" width="6.7" height="1.0" fill="#49ffad"/>
<rect x="156.9" y="325.0" width="2.0" height="1.0" fill="#48d8dc"/>
<rect x="150.2" y="326.0" width="4.0" height="1.0" fill="#6ff0c6"/>
<rect x="150.2" y="327.0" width="2.1" height="1.0" fill="#49ffad"/>
<rect x="150.2" y="328.0" width="5.4" height="1.0" fill="#49ffad"/>
<rect x="150.2" y="329.0" width="6.7" height="1.0" fill="#49ffad"/>
<rect x="150.2" y="330.0" width="4.9" height="1.0" fill="#6ff0c6"/>
<rect x="155.1" y="330.0" width="2.4" height="1.0" fill="#48d8dc"/>
<rect x="150.2" y="331.0" width="2.9" height="1.0" fill="#49ffad"/>
<rect x="150.2" y="332.0" width="4.3" height="1.0" fill="#49ffad"/>
<rect x="150.2" y="333.0" width="6.1" height="1.0" fill="#6ff0c6"/>
<rect x="150.2" y="334.0" width="3.3" height="1.0" fill="#6ff0c6"/>
<rect x="153.5" y="334.0" width="3.2" height="1.0" fill="#48d8dc"/>
<rect x="150.2" y="335.0" width="5.1" height="1.0" fill="#49ffad"/>
<rect x="150.2" y="336.0" width="3.0" height="1.0" fill="#6ff0c6"/>
<rect x="153.2" y="336.0" width="3.5" height="1.0" fill="#48d8dc"/>
<rect x="150.2" y="337.0" width="2.7" height="1.0" fill="#49ffad"/>
<rect x="150.2" y="338.0" width="2.4" height="1.0" fill="#49ffad"/>
<rect x="150.2" y="339.0" width="5.6" height="1.0" fill="#49ffad"/>
<rect x="150.2" y="340.0" width="6.8" height="1.0" fill="#49ffad"/>
<rect x="157.0" y="340.0" width="1.9" height="1.0" fill="#48d8dc"/>
<rect x="150.2" y="341.0" width="2.6" height="1.0" fill="#6ff0c6"/>
<rect x="150.2" y="342.0" width="6.8" height="1.0" fill="#49ffad"/>
<rect x="157.0" y="342.0" width="2.5" height="1.0" fill="#48d8dc"/>
<rect x="150.2" y="343.0" width="2.4" height="1.0" fill="#49ffad"/>
<rect x="150.2" y="344.0" width="5.3" height="1.0" fill="#49ffad"/>
<rect x="155.5" y="344.0" width="3.4" height="1.0" fill="#48d8dc"/>
<rect x="150.2" y="345.0" width="6.9" height="1.0" fill="#6ff0c6"/>
<rect x="157.1" y="345.0" width="2.7" height="1.0" fill="#48d8dc"/>
<rect x="150.2" y="346.0" width="9.1" height="1.0" fill="#49ffad"/>
<rect x="150.2" y="347.0" width="2.2" height="1.0" fill="#49ffad"/>
<rect x="150.2" y="348.0" width="2.9" height="1.0" fill="#6ff0c6"/>
<rect x="150.2" y="349.0" width="2.3" height="1.0" fill="#49ffad"/>
<rect x="150.2" y="350.0" width="1.1" height="1.0" fill="#6ff0c6"/>
<rect x="150.2" y="351.0" width="2.8" height="1.0" fill="#49ffad"/>
<rect x="150.2" y="352.0" width="1.1" height="1.0" fill="#6ff0c6"/>
<rect x="150.2" y="353.0" width="1.2" height="1.0" fill="#49ffad"/>
<rect x="150.2" y="354.0" width="1.4" height="1.0" fill="#49ffad"/>
<rect x="150.2" y="355.0" width="1.2" height="1.0" fill="#6ff0c6"/>
<rect x="150.2" y="356.0" width="2.1" height="1.0" fill="#6ff0c6"/>
<rect x="150.2" y="358.0" width="1.9" height="1.0" fill="#49ffad"/>
<rect x="150.2" y="360.0" width="1.3" height="1.0" fill="#6ff0c6"/>
<rect x="150.2" y="367.0" width="1.7" height="1.0" fill="#6ff0c6"/>
<rect x="150.2" y="368.0" width="1.0" height="1.0" fill="#49ffad"/>
<rect x="150.2" y="370.0" width="1.0" height="1.0" fill="#49ffad"/>
<rect x="150.2" y="371.0" width="1.4" height="1.0" fill="#6ff0c6"/>
<rect x="150.2" y="372.0" width="1.3" height="1.0" fill="#6ff0c6"/>
<rect x="150.2" y="373.0" width="1.1" height="1.0" fill="#6ff0c6"/>
<rect x="150.2" y="374.0" width="0.8" height="1.0" fill="#49ffad"/>
<rect x="150.2" y="376.0" width="1.6" height="1.0" fill="#49ffad"/>
<rect x="150.2" y="377.0" width="0.9" height="1.0" fill="#49ffad"/>
<rect x="150.2" y="379.0" width="1.6" height="1.0" fill="#6ff0c6"/>
<rect x="150.2" y="380.0" width="1.5" height="1.0" fill="#6ff0c6"/>
<rect x="150.2" y="382.0" width="3.3" height="1.0" fill="#6ff0c6"/>
<rect x="150.2" y="383.0" width="1.5" height="1.0" fill="#49ffad"/>
<rect x="150.2" y="384.0" width="2.0" height="1.0" fill="#6ff0c6"/>
<rect x="150.2" y="385.0" width="0.8" height="1.0" fill="#6ff0c6"/>
<rect x="150.2" y="388.0" width="1.2" height="1.0" fill="#6ff0c6"/>
<rect x="150.2" y="389.0" width="1.6" height="1.0" fill="#49ffad"/>
<rect x="150.2" y="392.0" width="1.5" height="1.0" fill="#6ff0c6"/>
<rect x="150.2" y="393.0" width="1.5" height="1.0" fill="#49ffad"/>
<rect x="150.2" y="399.0" width="2.2" height="1.0" fill="#49ffad"/>
<rect x="150.2" y="400.0" width="10.3" height="1.0" fill="#49ffad"/>
<rect x="150.2" y="401.0" width="3.0" height="1.0" fill="#49ffad"/>
<rect x="150.2" y="402.0" width="4.6" height="1.0" fill="#49ffad"/>
<rect x="154.8" y="402.0" width="1.9" height="1.0" fill="#48d8dc"/>
<rect x="150.2" y="403.0" width="4.7" height="1.0" fill="#49ffad"/>
<rect x="154.9" y="403.0" width="3.3" height="1.0" fill="#48d8dc"/>
<rect x="150.2" y="404.0" width="3.5" height="1.0" fill="#6ff0c6"/>
<rect x="150.2" y="405.0" width="2.6" height="1.0" fill="#49ffad"/>
<rect x="150.2" y="406.0" width="8.1" height="1.0" fill="#49ffad"/>
<rect x="158.3" y="406.0" width="1.4" height="1.0" fill="#48d8dc"/>
<rect x="150.2" y="407.0" width="3.6" height="1.0" fill="#49ffad"/>
<rect x="150.2" y="408.0" width="2.8" height="1.0" fill="#49ffad"/>
<rect x="150.2" y="409.0" width="6.1" height="1.0" fill="#49ffad"/>
<rect x="156.3" y="409.0" width="4.0" height="1.0" fill="#48d8dc"/>
<rect x="150.2" y="410.0" width="7.1" height="1.0" fill="#49ffad"/>
<rect x="157.3" y="410.0" width="3.7" height="1.0" fill="#48d8dc"/>
<rect x="150.2" y="411.0" width="1.6" height="1.0" fill="#49ffad"/>
<rect x="150.2" y="412.0" width="0.9" height="1.0" fill="#49ffad"/>
<rect x="150.2" y="413.0" width="2.0" height="1.0" fill="#6ff0c6"/>
<rect x="150.2" y="415.0" width="2.0" height="1.0" fill="#6ff0c6"/>
<rect x="150.2" y="417.0" width="1.2" height="1.0" fill="#6ff0c6"/>
<rect x="150.2" y="418.0" width="1.0" height="1.0" fill="#49ffad"/>
<rect x="150.2" y="421.0" width="0.8" height="1.0" fill="#49ffad"/>
<rect x="150.2" y="423.0" width="1.1" height="1.0" fill="#6ff0c6"/>
<rect x="150.2" y="424.0" width="1.0" height="1.0" fill="#6ff0c6"/>
<rect x="150.2" y="425.0" width="0.9" height="1.0" fill="#49ffad"/>
<rect x="150.2" y="428.0" width="1.1" height="1.0" fill="#49ffad"/>
<rect x="150.2" y="429.0" width="1.5" height="1.0" fill="#49ffad"/>
<rect x="150.2" y="430.0" width="1.2" height="1.0" fill="#49ffad"/>
<rect x="150.2" y="432.0" width="1.1" height="1.0" fill="#6ff0c6"/>
<rect x="150.2" y="436.0" width="1.1" height="1.0" fill="#6ff0c6"/>
<rect x="150.2" y="440.0" width="1.1" height="1.0" fill="#49ffad"/>
<rect x="150.2" y="442.0" width="0.9" height="1.0" fill="#49ffad"/>
<rect x="150.2" y="444.0" width="1.2" height="1.0" fill="#49ffad"/>
<rect x="150.2" y="448.0" width="1.1" height="1.0" fill="#6ff0c6"/>
<rect x="150.2" y="455.0" width="0.9" height="1.0" fill="#49ffad"/>
<rect x="150.2" y="457.0" width="1.1" height="1.0" fill="#6ff0c6"/>
<rect x="150.2" y="458.0" width="0.9" height="1.0" fill="#49ffad"/>
<rect x="150.2" y="463.0" width="1.2" height="1.0" fill="#6ff0c6"/>
<rect x="150.2" y="465.0" width="0.9" height="1.0" fill="#6ff0c6"/>
<rect x="150.2" y="467.0" width="1.0" height="1.0" fill="#6ff0c6"/>
<rect x="150.2" y="472.0" width="0.9" height="1.0" fill="#49ffad"/>
<rect x="150.2" y="474.0" width="1.1" height="1.0" fill="#49ffad"/>
<rect x="150.2" y="475.0" width="0.9" height="1.0" fill="#49ffad"/>
<rect x="150.2" y="479.0" width="1.0" height="1.0" fill="#49ffad"/>
<rect x="150.2" y="481.0" width="0.8" height="1.0" fill="#49ffad"/>
<rect x="150.2" y="483.0" width="0.9" height="1.0" fill="#6ff0c6"/>
<rect x="150.2" y="484.0" width="0.8" height="1.0" fill="#49ffad"/>
<rect x="150.2" y="489.0" width="1.0" height="1.0" fill="#49ffad"/>
<rect x="150.2" y="491.0" width="0.9" height="1.0" fill="#6ff0c6"/>
<rect x="150.2" y="492.0" width="1.0" height="1.0" fill="#49ffad"/>
<rect x="150.2" y="495.0" width="1.3" height="1.0" fill="#6ff0c6"/>
<rect x="150.2" y="498.0" width="1.2" height="1.0" fill="#6ff0c6"/>
<rect x="150.2" y="499.0" width="0.8" height="1.0" fill="#6ff0c6"/>
<rect x="150.2" y="500.0" width="1.4" height="1.0" fill="#49ffad"/>
<rect x="150.2" y="501.0" width="1.1" height="1.0" fill="#49ffad"/>
<rect x="150.2" y="502.0" width="0.9" height="1.0" fill="#49ffad"/>
<rect x="150.2" y="504.0" width="1.2" height="1.0" fill="#6ff0c6"/>
<rect x="150.2" y="506.0" width="1.3" height="1.0" fill="#49ffad"/>
<rect x="150.2" y="507.0" width="0.8" height="1.0" fill="#6ff0c6"/>
<rect x="150.2" y="508.0" width="1.1" height="1.0" fill="#49ffad"/>
<rect x="150.2" y="511.0" width="1.4" height="1.0" fill="#49ffad"/>
<rect x="150.2" y="512.0" width="1.0" height="1.0" fill="#49ffad"/>
<rect x="150.2" y="513.0" width="1.6" height="1.0" fill="#6ff0c6"/>
<rect x="150.2" y="515.0" width="1.7" height="1.0" fill="#49ffad"/>
<rect x="150.2" y="518.0" width="1.7" height="1.0" fill="#49ffad"/>
<rect x="150.2" y="519.0" width="3.3" height="1.0" fill="#6ff0c6"/>
<rect x="153.5" y="519.0" width="1.4" height="1.0" fill="#48d8dc"/>
<rect x="150.2" y="521.0" width="1.3" height="1.0" fill="#6ff0c6"/>
<rect x="150.2" y="522.0" width="1.9" height="1.0" fill="#49ffad"/>
<rect x="150.2" y="523.0" width="1.5" height="1.0" fill="#49ffad"/>
<rect x="150.2" y="524.0" width="0.9" height="1.0" fill="#6ff0c6"/>
<rect x="150.2" y="526.0" width="1.5" height="1.0" fill="#49ffad"/>
<rect x="150.2" y="527.0" width="1.5" height="1.0" fill="#49ffad"/>
<rect x="150.2" y="529.0" width="2.1" height="1.0" fill="#49ffad"/>
<rect x="150.2" y="530.0" width="1.4" height="1.0" fill="#49ffad"/>
<rect x="150.2" y="532.0" width="1.4" height="1.0" fill="#49ffad"/>
<rect x="150.2" y="533.0" width="1.1" height="1.0" fill="#49ffad"/>
<rect x="150.2" y="534.0" width="3.3" height="1.0" fill="#49ffad"/>
<rect x="150.2" y="535.0" width="1.7" height="1.0" fill="#6ff0c6"/>
<rect x="150.2" y="536.0" width="1.2" height="1.0" fill="#49ffad"/>
<rect x="150.2" y="538.0" width="2.6" height="1.0" fill="#49ffad"/>
<rect x="150.2" y="539.0" width="2.0" height="1.0" fill="#6ff0c6"/>
<rect x="150.2" y="470.0" width="1.3" height="70.0" fill="#49ffad"/>
<rect x="152.0" y="122.0" width="1.2" height="1.5" fill="#6ff0c6"/>
<rect x="153.1" y="124.0" width="1.2" height="1.5" fill="#6ff0c6"/>
<rect x="154.2" y="126.0" width="1.2" height="1.5" fill="#6ff0c6"/>
<rect x="155.3" y="128.0" width="1.2" height="1.5" fill="#6ff0c6"/>
<rect x="156.4" y="130.0" width="1.2" height="1.5" fill="#6ff0c6"/>
<rect x="157.6" y="132.0" width="1.2" height="1.5" fill="#6ff0c6"/>
<rect x="158.7" y="134.0" width="1.2" height="1.5" fill="#6ff0c6"/>
<rect x="159.8" y="136.0" width="1.2" height="1.5" fill="#6ff0c6"/>
<rect x="160.9" y="138.0" width="1.2" height="1.5" fill="#6ff0c6"/>
<rect x="162.0" y="140.0" width="1.2" height="1.5" fill="#6ff0c6"/>
<path d="M177.5 121 Q201 172 215.7 215" stroke="#58f4bc" stroke-width="1.4" fill="none" shape-rendering="auto"/>
<rect x="217.0" y="220.0" width="1.0" height="1.5" fill="#6ff0c6"/>
<rect x="219.0" y="226.0" width="1.0" height="1.5" fill="#6ff0c6"/>
<rect x="220.2" y="232.0" width="1.0" height="1.5" fill="#6ff0c6"/>
<rect x="220.5" y="236.0" width="1.0" height="1.5" fill="#6ff0c6"/>
<rect x="302.0" y="121.0" width="1.2" height="1.6" fill="#49ffad"/>
<rect x="303.6" y="124.8" width="1.2" height="1.6" fill="#49ffad"/>
<rect x="305.3" y="128.6" width="1.2" height="1.6" fill="#49ffad"/>
<rect x="306.9" y="132.5" width="1.2" height="1.6" fill="#49ffad"/>
<rect x="308.5" y="136.3" width="1.2" height="1.6" fill="#49ffad"/>
<rect x="310.2" y="140.1" width="1.2" height="1.6" fill="#49ffad"/>
<rect x="311.8" y="143.9" width="1.2" height="1.6" fill="#6ff0c6"/>
<rect x="313.5" y="147.7" width="1.2" height="1.6" fill="#6ff0c6"/>
<rect x="315.1" y="151.5" width="1.2" height="1.6" fill="#6ff0c6"/>
<rect x="316.7" y="155.4" width="1.2" height="1.6" fill="#6ff0c6"/>
<rect x="318.4" y="159.2" width="1.2" height="1.6" fill="#6ff0c6"/>
<rect x="320.0" y="163.0" width="1.2" height="1.6" fill="#6ff0c6"/>
<rect x="327.0" y="177.0" width="1.2" height="1.8" fill="#49ffad"/>
<rect x="328.2" y="179.7" width="1.2" height="1.8" fill="#49ffad"/>
<rect x="329.3" y="182.3" width="1.2" height="1.8" fill="#49ffad"/>
<rect x="330.5" y="185.0" width="1.2" height="1.8" fill="#49ffad"/>
<rect x="426.5" y="121.0" width="1.1" height="1.5" fill="#6ff0c6"/>
<rect x="427.5" y="123.7" width="1.1" height="1.5" fill="#6ff0c6"/>
<rect x="428.5" y="126.3" width="1.1" height="1.5" fill="#6ff0c6"/>
<rect x="429.5" y="129.0" width="1.1" height="1.5" fill="#6ff0c6"/>
<rect x="430.5" y="131.7" width="1.1" height="1.5" fill="#6ff0c6"/>
<rect x="431.5" y="134.3" width="1.1" height="1.5" fill="#6ff0c6"/>
<rect x="432.5" y="137.0" width="1.1" height="1.5" fill="#6ff0c6"/>
<rect x="433.0" y="138.0" width="1.0" height="1.2" fill="#30e0d0"/>
<rect x="438.2" y="150.0" width="1.0" height="1.2" fill="#30e0d0"/>
<rect x="443.5" y="162.0" width="1.0" height="1.2" fill="#30e0d0"/>
<rect x="448.8" y="174.0" width="1.0" height="1.2" fill="#30e0d0"/>
<rect x="454.0" y="186.0" width="1.0" height="1.2" fill="#30e0d0"/>
<rect x="454.5" y="185.0" width="1.1" height="1.8" fill="#6ff0c6"/>
<rect x="455.8" y="189.7" width="1.1" height="1.8" fill="#6ff0c6"/>
<rect x="457.2" y="194.3" width="1.1" height="1.8" fill="#6ff0c6"/>
<rect x="458.5" y="199.0" width="1.1" height="1.8" fill="#6ff0c6"/>
<rect x="241.0" y="123.0" width="1.2" height="1.5" fill="#6ff0c6"/>
<rect x="241.1" y="127.9" width="1.2" height="2.0" fill="#6ff0c6"/>
<rect x="241.1" y="131.6" width="1.2" height="1.0" fill="#60e8c8"/>
<rect x="241.1" y="137.3" width="1.2" height="2.0" fill="#40dcd8"/>
<rect x="241.2" y="141.4" width="1.2" height="1.0" fill="#60e8c8"/>
<rect x="241.2" y="145.9" width="1.2" height="1.5" fill="#40dcd8"/>
<rect x="241.2" y="150.9" width="1.2" height="1.5" fill="#6ff0c6"/>
<rect x="241.3" y="156.3" width="1.2" height="2.0" fill="#40dcd8"/>
<rect x="241.3" y="159.6" width="1.2" height="1.5" fill="#40dcd8"/>
<rect x="241.3" y="163.2" width="1.2" height="2.0" fill="#40dcd8"/>
<rect x="241.4" y="169.2" width="1.2" height="1.5" fill="#60e8c8"/>
<rect x="241.4" y="172.2" width="1.2" height="2.0" fill="#40dcd8"/>
<rect x="241.4" y="176.9" width="1.2" height="1.0" fill="#60e8c8"/>
<rect x="241.4" y="179.7" width="1.2" height="1.0" fill="#60e8c8"/>
<rect x="241.5" y="183.8" width="1.2" height="1.5" fill="#60e8c8"/>
<rect x="241.5" y="188.8" width="1.2" height="1.5" fill="#40dcd8"/>
<rect x="241.5" y="191.4" width="1.2" height="1.5" fill="#6ff0c6"/>
<rect x="241.6" y="197.4" width="1.2" height="2.0" fill="#6ff0c6"/>
<rect x="241.6" y="201.6" width="1.2" height="1.0" fill="#60e8c8"/>
<rect x="241.6" y="205.7" width="1.2" height="1.0" fill="#40dcd8"/>
<rect x="241.7" y="211.6" width="1.2" height="1.5" fill="#40dcd8"/>
<rect x="241.7" y="215.1" width="1.2" height="2.0" fill="#40dcd8"/>
<rect x="241.7" y="220.7" width="1.2" height="2.0" fill="#60e8c8"/>
<rect x="241.8" y="223.9" width="1.2" height="2.0" fill="#6ff0c6"/>
<rect x="241.8" y="226.6" width="1.2" height="1.0" fill="#60e8c8"/>
<rect x="241.8" y="231.5" width="1.2" height="2.0" fill="#60e8c8"/>
<rect x="241.9" y="237.1" width="1.2" height="1.5" fill="#40dcd8"/>
<rect x="241.9" y="241.1" width="1.2" height="1.5" fill="#60e8c8"/>
<rect x="241.9" y="244.7" width="1.2" height="1.0" fill="#60e8c8"/>
<rect x="242.0" y="248.1" width="1.2" height="2.0" fill="#6ff0c6"/>
<rect x="242.0" y="251.3" width="1.2" height="1.0" fill="#6ff0c6"/>
<rect x="242.0" y="256.2" width="1.2" height="1.0" fill="#6ff0c6"/>
<rect x="242.0" y="260.1" width="1.2" height="2.0" fill="#40dcd8"/>
<rect x="242.1" y="263.5" width="1.2" height="1.5" fill="#40dcd8"/>
<rect x="242.1" y="266.4" width="1.2" height="1.5" fill="#40dcd8"/>
<rect x="242.1" y="270.0" width="1.2" height="2.0" fill="#60e8c8"/>
<rect x="242.2" y="274.6" width="1.2" height="2.0" fill="#6ff0c6"/>
<rect x="242.2" y="278.4" width="1.2" height="1.0" fill="#40dcd8"/>
<rect x="242.2" y="283.8" width="1.2" height="1.0" fill="#40dcd8"/>
<rect x="242.3" y="288.6" width="1.2" height="1.0" fill="#60e8c8"/>
<rect x="242.3" y="292.8" width="1.2" height="1.0" fill="#60e8c8"/>
<rect x="242.3" y="297.4" width="1.2" height="2.0" fill="#60e8c8"/>
<rect x="242.4" y="302.0" width="1.2" height="2.0" fill="#60e8c8"/>
<rect x="242.4" y="305.5" width="1.2" height="1.0" fill="#60e8c8"/>
<rect x="242.4" y="309.2" width="1.2" height="2.0" fill="#60e8c8"/>
<rect x="242.4" y="312.6" width="1.2" height="1.5" fill="#40dcd8"/>
<rect x="242.5" y="316.2" width="1.2" height="1.0" fill="#40dcd8"/>
<rect x="242.5" y="320.3" width="1.2" height="2.0" fill="#6ff0c6"/>
<rect x="242.5" y="326.0" width="1.2" height="1.5" fill="#6ff0c6"/>
<rect x="242.6" y="330.7" width="1.2" height="1.0" fill="#60e8c8"/>
<rect x="242.6" y="334.3" width="1.2" height="1.5" fill="#6ff0c6"/>
<rect x="242.6" y="338.9" width="1.2" height="2.0" fill="#60e8c8"/>
<rect x="242.7" y="344.7" width="1.2" height="1.5" fill="#40dcd8"/>
<rect x="242.7" y="350.0" width="1.2" height="1.5" fill="#60e8c8"/>
<rect x="242.8" y="354.9" width="1.2" height="1.0" fill="#6ff0c6"/>
<rect x="242.8" y="359.0" width="1.2" height="2.0" fill="#60e8c8"/>
<rect x="242.8" y="362.2" width="1.2" height="2.0" fill="#40dcd8"/>
<rect x="242.9" y="367.9" width="1.2" height="1.5" fill="#40dcd8"/>
<rect x="242.9" y="373.8" width="1.2" height="2.0" fill="#6ff0c6"/>
<rect x="242.9" y="378.0" width="1.2" height="2.0" fill="#60e8c8"/>
<rect x="243.0" y="380.7" width="1.2" height="2.0" fill="#60e8c8"/>
<rect x="243.0" y="385.3" width="1.2" height="2.0" fill="#40dcd8"/>
<rect x="243.0" y="389.3" width="1.2" height="2.0" fill="#6ff0c6"/>
<rect x="243.0" y="393.6" width="1.2" height="2.0" fill="#40dcd8"/>
<rect x="243.1" y="398.9" width="1.2" height="1.0" fill="#6ff0c6"/>
<rect x="243.1" y="404.1" width="1.2" height="1.0" fill="#60e8c8"/>
<rect x="243.2" y="409.5" width="1.2" height="1.0" fill="#6ff0c6"/>
<rect x="243.2" y="414.1" width="1.2" height="1.0" fill="#60e8c8"/>
<rect x="243.2" y="417.8" width="1.2" height="1.0" fill="#6ff0c6"/>
<rect x="243.3" y="423.0" width="1.2" height="1.5" fill="#60e8c8"/>
<rect x="243.3" y="428.3" width="1.2" height="2.0" fill="#6ff0c6"/>
<rect x="243.3" y="433.6" width="1.2" height="1.5" fill="#6ff0c6"/>
<rect x="243.4" y="436.1" width="1.2" height="1.5" fill="#60e8c8"/>
<rect x="243.4" y="439.3" width="1.2" height="2.0" fill="#40dcd8"/>
<rect x="243.4" y="442.9" width="1.2" height="1.0" fill="#40dcd8"/>
<rect x="243.5" y="448.4" width="1.2" height="2.0" fill="#40dcd8"/>
<rect x="243.5" y="450.9" width="1.2" height="1.5" fill="#40dcd8"/>
<rect x="243.5" y="453.9" width="1.2" height="1.0" fill="#40dcd8"/>
<rect x="243.5" y="458.9" width="1.2" height="1.5" fill="#60e8c8"/>
<rect x="243.6" y="462.1" width="1.2" height="1.5" fill="#40dcd8"/>
<rect x="243.6" y="465.3" width="1.2" height="1.0" fill="#6ff0c6"/>
<rect x="243.6" y="470.7" width="1.2" height="1.0" fill="#60e8c8"/>
<rect x="243.7" y="475.8" width="1.2" height="1.0" fill="#40dcd8"/>
<rect x="243.7" y="479.0" width="1.2" height="1.5" fill="#40dcd8"/>
<rect x="243.7" y="483.8" width="1.2" height="1.0" fill="#60e8c8"/>
<rect x="243.8" y="488.7" width="1.2" height="1.0" fill="#40dcd8"/>
<rect x="243.8" y="492.2" width="1.2" height="2.0" fill="#6ff0c6"/>
<rect x="243.8" y="496.7" width="1.2" height="2.0" fill="#40dcd8"/>
<rect x="243.9" y="500.2" width="1.2" height="1.0" fill="#40dcd8"/>
<rect x="243.9" y="505.8" width="1.2" height="1.0" fill="#6ff0c6"/>
<rect x="243.9" y="511.3" width="1.2" height="2.0" fill="#60e8c8"/>
<rect x="244.0" y="514.5" width="1.2" height="2.0" fill="#60e8c8"/>
<rect x="244.0" y="518.5" width="1.2" height="2.0" fill="#6ff0c6"/>
<rect x="244.0" y="523.7" width="1.2" height="1.0" fill="#40dcd8"/>
<rect x="244.1" y="527.8" width="1.2" height="1.5" fill="#6ff0c6"/>
<rect x="244.1" y="533.1" width="1.2" height="1.5" fill="#6ff0c6"/>
<rect x="244.1" y="538.6" width="1.2" height="1.5" fill="#40dcd8"/>
<rect x="247.2" y="121.0" width="2.6" height="10.0" fill="#49ffad"/>
<rect x="247.3" y="131.0" width="2.6" height="10.0" fill="#49ffad"/>
<rect x="247.4" y="141.0" width="2.6" height="10.0" fill="#49ffad"/>
<rect x="247.5" y="151.0" width="2.6" height="10.0" fill="#49ffad"/>
<rect x="247.5" y="161.0" width="2.6" height="10.0" fill="#49ffad"/>
<rect x="247.6" y="171.0" width="2.6" height="10.0" fill="#49ffad"/>
<rect x="247.7" y="181.0" width="2.6" height="10.0" fill="#49ffad"/>
<rect x="247.7" y="191.0" width="2.6" height="10.0" fill="#49ffad"/>
<rect x="247.8" y="201.0" width="2.6" height="10.0" fill="#49ffad"/>
<rect x="247.9" y="211.0" width="2.6" height="10.0" fill="#49ffad"/>
<rect x="248.0" y="221.0" width="2.6" height="10.0" fill="#49ffad"/>
<rect x="248.0" y="231.0" width="2.6" height="10.0" fill="#49ffad"/>
<rect x="248.1" y="241.0" width="2.6" height="10.0" fill="#49ffad"/>
<rect x="248.2" y="251.0" width="2.6" height="10.0" fill="#49ffad"/>
<rect x="248.2" y="261.0" width="2.6" height="10.0" fill="#49ffad"/>
<rect x="248.3" y="271.0" width="2.6" height="10.0" fill="#49ffad"/>
<rect x="248.4" y="281.0" width="2.6" height="10.0" fill="#49ffad"/>
<rect x="248.5" y="291.0" width="2.6" height="10.0" fill="#49ffad"/>
<rect x="248.5" y="301.0" width="2.6" height="10.0" fill="#49ffad"/>
<rect x="248.6" y="311.0" width="2.6" height="10.0" fill="#49ffad"/>
<rect x="248.7" y="321.0" width="2.6" height="10.0" fill="#49ffad"/>
<rect x="248.7" y="331.0" width="2.6" height="10.0" fill="#49ffad"/>
<rect x="248.8" y="341.0" width="2.6" height="10.0" fill="#49ffad"/>
<rect x="248.9" y="351.0" width="2.6" height="10.0" fill="#49ffad"/>
<rect x="249.0" y="361.0" width="2.6" height="10.0" fill="#49ffad"/>
<rect x="249.0" y="371.0" width="2.6" height="10.0" fill="#49ffad"/>
<rect x="249.1" y="381.0" width="2.6" height="10.0" fill="#49ffad"/>
<rect x="249.2" y="391.0" width="2.6" height="10.0" fill="#49ffad"/>
<rect x="249.2" y="401.0" width="2.6" height="10.0" fill="#49ffad"/>
<rect x="249.3" y="411.0" width="2.6" height="10.0" fill="#49ffad"/>
<rect x="249.4" y="421.0" width="2.6" height="10.0" fill="#49ffad"/>
<rect x="249.5" y="431.0" width="2.6" height="10.0" fill="#49ffad"/>
<rect x="249.5" y="441.0" width="2.6" height="10.0" fill="#49ffad"/>
<rect x="249.6" y="451.0" width="2.6" height="10.0" fill="#49ffad"/>
<rect x="249.7" y="461.0" width="2.6" height="10.0" fill="#49ffad"/>
<rect x="249.7" y="471.0" width="2.6" height="10.0" fill="#49ffad"/>
<rect x="249.8" y="481.0" width="2.6" height="10.0" fill="#49ffad"/>
<rect x="249.9" y="491.0" width="2.6" height="10.0" fill="#49ffad"/>
<rect x="250.0" y="501.0" width="2.6" height="10.0" fill="#49ffad"/>
<rect x="250.0" y="511.0" width="2.6" height="10.0" fill="#49ffad"/>
<rect x="250.1" y="521.0" width="2.6" height="10.0" fill="#49ffad"/>
<rect x="250.2" y="531.0" width="2.6" height="9.0" fill="#49ffad"/>
<rect x="251.0" y="261.5" width="0.8" height="3.0" fill="#6ff0c6"/>
<rect x="252.3" y="452.9" width="0.8" height="3.0" fill="#6ff0c6"/>
<rect x="250.5" y="222.4" width="0.8" height="3.0" fill="#b0ff46"/>
<rect x="247.7" y="265.3" width="0.8" height="2.0" fill="#6ff0c6"/>
<rect x="248.6" y="395.1" width="0.8" height="2.0" fill="#49ffad"/>
<rect x="251.0" y="285.3" width="0.8" height="1.0" fill="#49ffad"/>
<rect x="252.3" y="453.6" width="0.8" height="1.0" fill="#6ff0c6"/>
<rect x="249.4" y="507.4" width="0.8" height="2.0" fill="#6ff0c6"/>
<rect x="252.7" y="520.3" width="0.8" height="1.0" fill="#6ff0c6"/>
<rect x="249.3" y="457.3" width="0.8" height="2.0" fill="#6ff0c6"/>
<rect x="250.8" y="224.7" width="0.8" height="3.0" fill="#6ff0c6"/>
<rect x="251.2" y="306.3" width="0.8" height="3.0" fill="#6ff0c6"/>
<rect x="251.8" y="415.6" width="0.8" height="1.0" fill="#49ffad"/>
<rect x="251.1" y="318.0" width="0.8" height="3.0" fill="#6ff0c6"/>
<rect x="252.2" y="414.9" width="0.8" height="1.0" fill="#49ffad"/>
<rect x="248.6" y="404.0" width="0.8" height="3.0" fill="#49ffad"/>
<rect x="248.9" y="401.8" width="0.8" height="2.0" fill="#49ffad"/>
<rect x="250.0" y="537.2" width="0.8" height="2.0" fill="#49ffad"/>
<rect x="250.4" y="172.7" width="0.8" height="2.0" fill="#6ff0c6"/>
<rect x="248.2" y="291.4" width="0.8" height="3.0" fill="#49ffad"/>
<rect x="249.8" y="145.3" width="0.8" height="2.0" fill="#b0ff46"/>
<rect x="248.1" y="274.9" width="0.8" height="3.0" fill="#6ff0c6"/>
<rect x="251.8" y="359.6" width="0.8" height="3.0" fill="#6ff0c6"/>
<rect x="249.1" y="427.0" width="0.8" height="1.0" fill="#b0ff46"/>
<rect x="252.4" y="493.5" width="0.8" height="2.0" fill="#6ff0c6"/>
<rect x="251.0" y="304.1" width="0.8" height="1.0" fill="#49ffad"/>
<rect x="250.4" y="238.8" width="0.8" height="3.0" fill="#49ffad"/>
<rect x="247.9" y="257.3" width="0.8" height="2.0" fill="#6ff0c6"/>
<rect x="249.2" y="434.6" width="0.8" height="2.0" fill="#49ffad"/>
<rect x="249.6" y="517.6" width="0.8" height="1.0" fill="#b0ff46"/>
<rect x="247.1" y="134.6" width="0.8" height="1.0" fill="#49ffad"/>
<rect x="252.1" y="470.6" width="0.8" height="3.0" fill="#6ff0c6"/>
<rect x="249.3" y="484.9" width="0.8" height="3.0" fill="#49ffad"/>
<rect x="252.2" y="476.8" width="0.8" height="1.0" fill="#49ffad"/>
<rect x="251.2" y="288.4" width="0.8" height="3.0" fill="#6ff0c6"/>
<rect x="251.9" y="427.5" width="0.8" height="3.0" fill="#6ff0c6"/>
<rect x="248.7" y="432.2" width="0.8" height="1.0" fill="#6ff0c6"/>
<rect x="251.7" y="354.6" width="0.8" height="3.0" fill="#6ff0c6"/>
<rect x="250.4" y="180.4" width="0.8" height="2.0" fill="#49ffad"/>
<rect x="249.3" y="499.2" width="0.8" height="1.0" fill="#b0ff46"/>
<rect x="251.4" y="373.6" width="0.8" height="2.0" fill="#49ffad"/>
<rect x="248.3" y="357.0" width="0.8" height="3.0" fill="#6ff0c6"/>
<rect x="250.7" y="271.8" width="0.8" height="3.0" fill="#49ffad"/>
<rect x="250.7" y="273.4" width="0.8" height="2.0" fill="#6ff0c6"/>
<rect x="246.8" y="123.6" width="0.8" height="1.0" fill="#49ffad"/>
<rect x="251.7" y="363.3" width="0.8" height="3.0" fill="#49ffad"/>
<rect x="251.0" y="281.8" width="0.8" height="3.0" fill="#6ff0c6"/>
<rect x="247.5" y="229.7" width="0.8" height="3.0" fill="#b0ff46"/>
<rect x="251.3" y="354.3" width="0.8" height="2.0" fill="#b0ff46"/>
<rect x="246.9" y="184.5" width="0.8" height="3.0" fill="#b0ff46"/>
<rect x="247.1" y="185.6" width="0.8" height="1.0" fill="#6ff0c6"/>
<rect x="250.4" y="236.9" width="0.8" height="1.0" fill="#49ffad"/>
<rect x="248.0" y="273.6" width="0.8" height="3.0" fill="#6ff0c6"/>
<rect x="250.0" y="167.8" width="0.8" height="3.0" fill="#49ffad"/>
<rect x="250.6" y="231.7" width="0.8" height="2.0" fill="#6ff0c6"/>
<rect x="252.0" y="405.5" width="0.8" height="2.0" fill="#49ffad"/>
<rect x="247.7" y="238.8" width="0.8" height="3.0" fill="#b0ff46"/>
<rect x="248.1" y="326.2" width="0.8" height="1.0" fill="#b0ff46"/>
<rect x="249.7" y="147.1" width="0.8" height="2.0" fill="#b0ff46"/>
<rect x="250.9" y="281.8" width="0.8" height="3.0" fill="#b0ff46"/>
<rect x="251.2" y="345.6" width="0.8" height="2.0" fill="#49ffad"/>
<rect x="249.3" y="495.4" width="0.8" height="1.0" fill="#6ff0c6"/>
<rect x="248.5" y="401.4" width="0.8" height="1.0" fill="#6ff0c6"/>
<rect x="251.2" y="292.5" width="0.8" height="3.0" fill="#6ff0c6"/>
<rect x="249.8" y="152.5" width="0.8" height="1.0" fill="#6ff0c6"/>
<rect x="249.9" y="128.5" width="0.8" height="3.0" fill="#49ffad"/>
<rect x="247.4" y="215.5" width="0.8" height="3.0" fill="#b0ff46"/>
<rect x="249.2" y="509.0" width="0.8" height="2.0" fill="#49ffad"/>
<rect x="249.4" y="517.3" width="0.8" height="1.0" fill="#b0ff46"/>
<rect x="250.7" y="268.9" width="0.8" height="2.0" fill="#6ff0c6"/>
<rect x="254.8" y="121.0" width="1.6" height="6.0" fill="#49ffad"/>
<rect x="254.9" y="127.0" width="1.6" height="6.0" fill="#49ffad"/>
<rect x="254.9" y="133.0" width="1.6" height="6.0" fill="#49ffad"/>
<rect x="255.0" y="139.0" width="1.6" height="6.0" fill="#49ffad"/>
<rect x="255.0" y="145.0" width="1.6" height="6.0" fill="#49ffad"/>
<rect x="255.0" y="151.0" width="1.6" height="6.0" fill="#49ffad"/>
<rect x="255.1" y="157.0" width="1.6" height="6.0" fill="#49ffad"/>
<rect x="255.1" y="163.0" width="1.6" height="6.0" fill="#49ffad"/>
<rect x="255.2" y="169.0" width="1.6" height="6.0" fill="#49ffad"/>
<rect x="255.2" y="175.0" width="1.6" height="6.0" fill="#49ffad"/>
<rect x="255.3" y="181.0" width="1.6" height="6.0" fill="#49ffad"/>
<rect x="255.3" y="187.0" width="1.6" height="6.0" fill="#49ffad"/>
<rect x="255.3" y="193.0" width="1.6" height="6.0" fill="#49ffad"/>
<rect x="255.4" y="199.0" width="1.6" height="6.0" fill="#49ffad"/>
<rect x="255.4" y="205.0" width="1.6" height="6.0" fill="#49ffad"/>
<rect x="255.5" y="211.0" width="1.6" height="6.0" fill="#49ffad"/>
<rect x="255.5" y="217.0" width="1.6" height="6.0" fill="#49ffad"/>
<rect x="255.6" y="223.0" width="1.6" height="6.0" fill="#49ffad"/>
<rect x="255.6" y="229.0" width="1.6" height="6.0" fill="#49ffad"/>
<rect x="255.6" y="235.0" width="1.6" height="6.0" fill="#49ffad"/>
<rect x="255.7" y="241.0" width="1.6" height="6.0" fill="#49ffad"/>
<rect x="255.7" y="247.0" width="1.6" height="6.0" fill="#49ffad"/>
<rect x="255.8" y="253.0" width="1.6" height="6.0" fill="#49ffad"/>
<rect x="255.8" y="259.0" width="1.6" height="6.0" fill="#49ffad"/>
<rect x="255.9" y="265.0" width="1.6" height="6.0" fill="#49ffad"/>
<rect x="255.9" y="271.0" width="1.6" height="6.0" fill="#49ffad"/>
<rect x="255.9" y="277.0" width="1.6" height="6.0" fill="#49ffad"/>
<rect x="256.0" y="283.0" width="1.6" height="6.0" fill="#49ffad"/>
<rect x="256.0" y="289.0" width="1.6" height="6.0" fill="#49ffad"/>
<rect x="256.1" y="295.0" width="1.6" height="6.0" fill="#49ffad"/>
<rect x="256.1" y="301.0" width="1.6" height="6.0" fill="#49ffad"/>
<rect x="256.2" y="307.0" width="1.6" height="6.0" fill="#49ffad"/>
<rect x="256.2" y="313.0" width="1.6" height="6.0" fill="#49ffad"/>
<rect x="256.2" y="319.0" width="1.6" height="6.0" fill="#49ffad"/>
<rect x="256.3" y="325.0" width="1.6" height="6.0" fill="#49ffad"/>
<rect x="256.3" y="331.0" width="1.6" height="6.0" fill="#49ffad"/>
<rect x="256.4" y="337.0" width="1.6" height="6.0" fill="#49ffad"/>
<rect x="256.4" y="343.0" width="1.6" height="6.0" fill="#49ffad"/>
<rect x="256.5" y="349.0" width="1.6" height="6.0" fill="#49ffad"/>
<rect x="256.5" y="355.0" width="1.6" height="6.0" fill="#49ffad"/>
<rect x="256.5" y="361.0" width="1.6" height="6.0" fill="#49ffad"/>
<rect x="256.6" y="367.0" width="1.6" height="6.0" fill="#49ffad"/>
<rect x="256.6" y="373.0" width="1.6" height="6.0" fill="#49ffad"/>
<rect x="256.7" y="379.0" width="1.6" height="6.0" fill="#49ffad"/>
<rect x="256.7" y="385.0" width="1.6" height="6.0" fill="#49ffad"/>
<rect x="256.8" y="391.0" width="1.6" height="6.0" fill="#49ffad"/>
<rect x="256.8" y="397.0" width="1.6" height="6.0" fill="#49ffad"/>
<rect x="256.8" y="403.0" width="1.6" height="6.0" fill="#49ffad"/>
<rect x="256.9" y="409.0" width="1.6" height="6.0" fill="#49ffad"/>
<rect x="256.9" y="415.0" width="1.6" height="6.0" fill="#49ffad"/>
<rect x="257.0" y="421.0" width="1.6" height="6.0" fill="#49ffad"/>
<rect x="257.0" y="427.0" width="1.6" height="6.0" fill="#49ffad"/>
<rect x="257.1" y="433.0" width="1.6" height="6.0" fill="#49ffad"/>
<rect x="257.1" y="439.0" width="1.6" height="6.0" fill="#49ffad"/>
<rect x="257.1" y="445.0" width="1.6" height="6.0" fill="#49ffad"/>
<rect x="257.2" y="451.0" width="1.6" height="6.0" fill="#49ffad"/>
<rect x="257.2" y="457.0" width="1.6" height="6.0" fill="#49ffad"/>
<rect x="257.3" y="463.0" width="1.6" height="6.0" fill="#49ffad"/>
<rect x="257.3" y="469.0" width="1.6" height="6.0" fill="#49ffad"/>
<rect x="257.4" y="475.0" width="1.6" height="6.0" fill="#49ffad"/>
<rect x="257.4" y="481.0" width="1.6" height="6.0" fill="#49ffad"/>
<rect x="257.4" y="487.0" width="1.6" height="6.0" fill="#49ffad"/>
<rect x="257.5" y="493.0" width="1.6" height="6.0" fill="#49ffad"/>
<rect x="257.5" y="499.0" width="1.6" height="6.0" fill="#49ffad"/>
<rect x="257.6" y="505.0" width="1.6" height="6.0" fill="#49ffad"/>
<rect x="257.6" y="511.0" width="1.6" height="6.0" fill="#49ffad"/>
<rect x="257.7" y="517.0" width="1.6" height="6.0" fill="#49ffad"/>
<rect x="257.7" y="523.0" width="1.6" height="6.0" fill="#49ffad"/>
<rect x="257.7" y="529.0" width="1.6" height="6.0" fill="#49ffad"/>
<rect x="257.8" y="535.0" width="1.6" height="5.0" fill="#49ffad"/>
<rect x="285.9" y="121.0" width="1.7" height="179.0" fill="#49ffad"/>
<rect x="287.5" y="300.0" width="1.7" height="183.5" fill="#49ffad"/>
<rect x="289.1" y="483.5" width="1.7" height="56.5" fill="#49ffad"/>
<rect x="347.8" y="121.0" width="2.0" height="227.0" fill="#49ffad"/>
<rect x="349.1" y="348.0" width="2.0" height="159.0" fill="#49ffad"/>
<rect x="350.8" y="507.0" width="2.0" height="33.0" fill="#49ffad"/>
<rect x="479.9" y="121.0" width="1.1" height="225.0" fill="#50e8c8"/>
<rect x="481.3" y="347.0" width="1.4" height="158.5" fill="#49ffad"/>
<rect x="482.8" y="505.5" width="1.4" height="34.5" fill="#49ffad"/>
<rect x="485.9" y="121.0" width="1.2" height="194.5" fill="#49ffad"/>
<rect x="487.4" y="317.0" width="1.2" height="171.5" fill="#49ffad"/>
<rect x="489.1" y="488.5" width="1.2" height="51.5" fill="#49ffad"/>
<rect x="302.2" y="125.0" width="1.0" height="1.0" fill="#30d0e8"/>
<rect x="302.2" y="136.5" width="1.0" height="1.0" fill="#30d0e8"/>
<rect x="302.3" y="144.9" width="1.0" height="1.0" fill="#30d0e8"/>
<rect x="302.3" y="150.7" width="1.0" height="1.0" fill="#30d0e8"/>
<rect x="302.3" y="159.3" width="1.0" height="1.0" fill="#30d0e8"/>
<rect x="302.3" y="169.3" width="1.0" height="1.0" fill="#30d0e8"/>
<rect x="302.4" y="177.1" width="1.0" height="1.0" fill="#30d0e8"/>
<rect x="302.4" y="181.9" width="1.0" height="1.0" fill="#30d0e8"/>
<rect x="302.4" y="192.2" width="1.0" height="1.0" fill="#30d0e8"/>
<rect x="302.4" y="203.4" width="1.0" height="1.0" fill="#30d0e8"/>
<rect x="302.5" y="214.4" width="1.0" height="1.0" fill="#30d0e8"/>
<rect x="302.5" y="224.0" width="1.0" height="1.0" fill="#30d0e8"/>
<rect x="302.5" y="231.6" width="1.0" height="1.0" fill="#30d0e8"/>
<rect x="302.5" y="242.8" width="1.0" height="1.0" fill="#30d0e8"/>
<rect x="302.6" y="246.8" width="1.0" height="1.0" fill="#30d0e8"/>
<rect x="302.6" y="258.5" width="1.0" height="1.0" fill="#30d0e8"/>
<rect x="302.6" y="266.3" width="1.0" height="1.0" fill="#30d0e8"/>
<rect x="302.6" y="275.1" width="1.0" height="1.0" fill="#30d0e8"/>
<rect x="302.7" y="281.8" width="1.0" height="1.0" fill="#30d0e8"/>
<rect x="302.7" y="292.1" width="1.0" height="1.0" fill="#30d0e8"/>
<rect x="302.7" y="299.2" width="1.0" height="1.0" fill="#30d0e8"/>
<rect x="302.7" y="304.2" width="1.0" height="1.0" fill="#30d0e8"/>
<rect x="302.7" y="312.5" width="1.0" height="1.0" fill="#30d0e8"/>
<rect x="302.8" y="319.4" width="1.0" height="1.0" fill="#30d0e8"/>
<rect x="302.8" y="330.2" width="1.0" height="1.0" fill="#30d0e8"/>
<rect x="302.8" y="339.7" width="1.0" height="1.0" fill="#30d0e8"/>
<rect x="302.9" y="349.2" width="1.0" height="1.0" fill="#30d0e8"/>
<rect x="302.9" y="356.8" width="1.0" height="1.0" fill="#30d0e8"/>
<rect x="302.9" y="366.0" width="1.0" height="1.0" fill="#30d0e8"/>
<rect x="302.9" y="377.6" width="1.0" height="1.0" fill="#30d0e8"/>
<rect x="303.0" y="388.9" width="1.0" height="1.0" fill="#30d0e8"/>
<rect x="303.0" y="400.2" width="1.0" height="1.0" fill="#30d0e8"/>
<rect x="303.0" y="407.0" width="1.0" height="1.0" fill="#30d0e8"/>
<rect x="303.0" y="412.4" width="1.0" height="1.0" fill="#30d0e8"/>
<rect x="303.1" y="418.4" width="1.0" height="1.0" fill="#30d0e8"/>
<rect x="303.1" y="428.8" width="1.0" height="1.0" fill="#30d0e8"/>
<rect x="303.1" y="439.7" width="1.0" height="1.0" fill="#30d0e8"/>
<rect x="303.1" y="449.3" width="1.0" height="1.0" fill="#30d0e8"/>
<rect x="303.2" y="456.8" width="1.0" height="1.0" fill="#30d0e8"/>
<rect x="303.2" y="465.4" width="1.0" height="1.0" fill="#30d0e8"/>
<rect x="303.2" y="470.9" width="1.0" height="1.0" fill="#30d0e8"/>
<rect x="303.2" y="477.0" width="1.0" height="1.0" fill="#30d0e8"/>
<rect x="303.3" y="487.9" width="1.0" height="1.0" fill="#30d0e8"/>
<rect x="303.3" y="497.6" width="1.0" height="1.0" fill="#30d0e8"/>
<rect x="303.3" y="504.0" width="1.0" height="1.0" fill="#30d0e8"/>
<rect x="303.3" y="510.1" width="1.0" height="1.0" fill="#30d0e8"/>
<rect x="303.3" y="514.6" width="1.0" height="1.0" fill="#30d0e8"/>
<rect x="303.4" y="522.6" width="1.0" height="1.0" fill="#30d0e8"/>
<rect x="303.4" y="533.8" width="1.0" height="1.0" fill="#30d0e8"/>
</g>
<rect x="100.5" y="60.4" width="496.0" height="479.9" fill="none" stroke="#000" stroke-width="1.4"/>
<path d="M100.5 540.3v-6.3M100.5 60.4v6.3M162.5 540.3v-6.3M162.5 60.4v6.3M224.5 540.3v-6.3M224.5 60.4v6.3M286.5 540.3v-6.3M286.5 60.4v6.3M348.5 540.3v-6.3M348.5 60.4v6.3M410.5 540.3v-6.3M410.5 60.4v6.3M472.5 540.3v-6.3M472.5 60.4v6.3M534.5 540.3v-6.3M534.5 60.4v6.3M596.5 540.3v-6.3M596.5 60.4v6.3M100.5 540.3h6.3M596.5 540.3h-6.3M100.5 460.29999999999995h6.3M596.5 460.29999999999995h-6.3M100.5 380.29999999999995h6.3M596.5 380.29999999999995h-6.3M100.5 300.29999999999995h6.3M596.5 300.29999999999995h-6.3M100.5 220.29999999999995h6.3M596.5 220.29999999999995h-6.3M100.5 140.29999999999995h6.3M596.5 140.29999999999995h-6.3M100.5 60.299999999999955h6.3M596.5 60.299999999999955h-6.3" stroke="#000" stroke-width="1.0" fill="none"/>
<rect x="627.5" y="60.60" width="23.80" height="479.70" fill="#c30000"/>
<rect x="627.5" y="120.60" width="23.80" height="419.70" fill="#ff5900"/>
<rect x="627.5" y="180.60" width="23.80" height="359.70" fill="#ffcf00"/>
<rect x="627.5" y="240.60" width="23.80" height="299.70" fill="#b0ff46"/>
<rect x="627.5" y="300.60" width="23.80" height="239.70" fill="#49ffad"/>
<rect x="627.5" y="360.60" width="23.80" height="179.70" fill="#00c0ff"/>
<rect x="627.5" y="420.60" width="23.80" height="119.70" fill="#0040ff"/>
<rect x="627.5" y="480.60" width="23.80" height="59.70" fill="#0000c8"/>
<rect x="627.5" y="60.4" width="23.80" height="479.90" fill="none" stroke="#000" stroke-width="1.4"/>
<path d="M651.3 60.40h-6.3M651.3 120.40h-6.3M651.3 180.40h-6.3M651.3 240.40h-6.3M651.3 300.40h-6.3M651.3 360.40h-6.3M651.3 420.40h-6.3M651.3 480.40h-6.3M651.3 540.40h-6.3" stroke="#000" stroke-width="1.0" fill="none"/>
</svg>
<svg width="800" height="600" style="position:absolute;left:0;top:0" font-family="Liberation Sans, sans-serif" fill="#000" >
<text transform="translate(66.49 556.60) scale(1.1522 1)" font-size="16.92">−20000</text>
<text transform="translate(128.49 556.60) scale(1.1522 1)" font-size="16.92">−15000</text>
<text transform="translate(190.49 556.60) scale(1.1522 1)" font-size="16.92">−10000</text>
<text transform="translate(257.79 556.60) scale(1.1579 1)" font-size="16.92">−5000</text>
<text transform="translate(342.51 556.60) scale(1.0384 1)" font-size="16.92">0</text>
<text transform="translate(388.71 556.60) scale(1.0991 1)" font-size="16.92">5000</text>
<text transform="translate(444.97 556.60) scale(1.1082 1)" font-size="16.92">10000</text>
<text transform="translate(506.97 556.60) scale(1.1082 1)" font-size="16.92">15000</text>
<text transform="translate(569.16 556.60) scale(1.1107 1)" font-size="16.92">20000</text>
<text transform="translate(84.41 545.90) scale(1.0384 1)" font-size="16.92">0</text>
<text transform="translate(63.07 465.90) scale(1.1039 1)" font-size="16.92">200</text>
<text transform="translate(63.17 385.90) scale(1.1001 1)" font-size="16.92">400</text>
<text transform="translate(63.05 305.90) scale(1.1046 1)" font-size="16.92">600</text>
<text transform="translate(63.10 225.90) scale(1.1028 1)" font-size="16.92">800</text>
<text transform="translate(52.68 145.90) scale(1.1039 1)" font-size="16.92">1000</text>
<text transform="translate(52.68 65.90) scale(1.1039 1)" font-size="16.92">1200</text>
<text transform="translate(655.28 65.80) scale(1.0384 1)" font-size="16.92">0</text>
<text transform="translate(655.67 125.80) scale(1.1965 1)" font-size="16.89">−5</text>
<text transform="translate(655.68 185.80) scale(1.1832 1)" font-size="16.92">−10</text>
<text transform="translate(655.69 245.80) scale(1.1730 1)" font-size="16.89">−15</text>
<text transform="translate(655.68 305.80) scale(1.1832 1)" font-size="16.92">−20</text>
<text transform="translate(655.69 365.80) scale(1.1707 1)" font-size="16.92">−25</text>
<text transform="translate(655.68 425.80) scale(1.1832 1)" font-size="16.92">−30</text>
<text transform="translate(655.69 485.80) scale(1.1707 1)" font-size="16.92">−35</text>
<text transform="translate(655.68 545.80) scale(1.1832 1)" font-size="16.92">−40</text>
<g transform="translate(41.55 48.00) scale(1.0430 1)"><text x="0.37 12.57 24.77 36.79 42.39 59.01 73.54 83.91 89.66 100.18 105.49 117.66 129.61 141.59 146.72 151.55 163.41 176.31 191.32 197.54 205.08 217.28 229.48 241.68 253.88 266.08 278.28 290.48 301.37 312.27 324.47 336.67 348.87 361.07 373.27 384.16 393.94 407.61 422.38 435.03 451.42 466.19 479.52 491.72 503.92 516.12 527.01 537.10 548.47 562.10 577.97" y="0" font-size="20.60">150 MHz signal PSD (20130224_013248_COSMOS2429_TRO)</text></g>
<g transform="translate(287.24 576.00) scale(1.0800 1)"><text x="0.36 5.78 11.80 21.11 30.90 40.54 50.18 59.79 68.60 77.51 82.50 88.01 99.75 108.23" y="0" font-size="17.00">frequency (Hz)</text></g>
<g transform="translate(45.3 331.7) rotate(-90)"><g transform="translate(-0.36 0.00) scale(1.0800 1)"><text x="0.66 6.31 10.78 25.40 34.96 39.96 45.57 54.02" y="0" font-size="17.00">time (s)</text></g></g>
</svg>
</div></body></html>
